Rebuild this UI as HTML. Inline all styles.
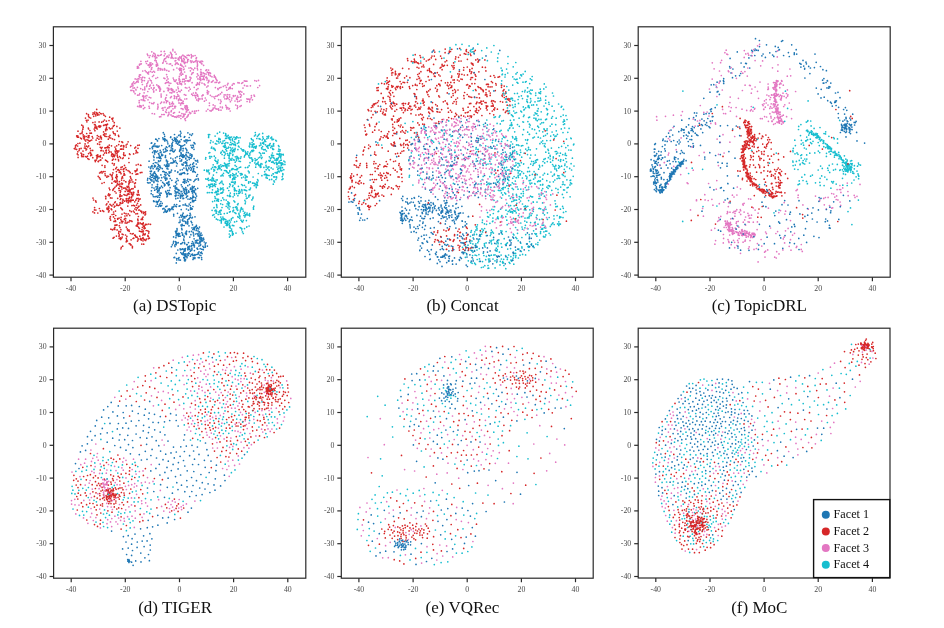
<!DOCTYPE html>
<html><head><meta charset="utf-8"><style>
html,body{margin:0;padding:0;background:#fff;width:944px;height:628px;overflow:hidden}
svg{display:block;will-change:transform}
</style></head><body>
<svg width="944" height="628" viewBox="0 0 944 628">
<g fill="none" stroke-width="1.70" stroke-linecap="round"><path stroke="#e377c2" d="M175.9 63.0h0M176.9 63.4h0M178.3 64.2h0M180.5 65.2h0M195.8 60.9h0M172.3 116.2h0M173.3 116.2h0M175.4 116.8h0M177.2 116.2h0M200.0 98.9h0M198.6 99.8h0M196.7 99.9h0M206.7 87.0h0M208.0 85.9h0M159.4 86.6h0M159.5 88.4h0M158.3 85.8h0M174.5 91.5h0M173.1 91.8h0M171.7 92.9h0M170.0 92.6h0M156.2 60.9h0M156.6 62.7h0M153.7 91.9h0M152.2 113.5h0M154.5 113.9h0M197.6 65.1h0M197.3 66.2h0M197.3 68.2h0M197.6 69.8h0M160.0 87.9h0M160.1 89.9h0M186.0 75.7h0M225.9 94.9h0M227.1 96.7h0M228.0 98.2h0M229.3 99.6h0M194.8 68.2h0M193.5 69.8h0M153.0 55.2h0M154.8 56.7h0M155.8 57.1h0M171.2 53.4h0M197.9 61.2h0M199.7 62.1h0M202.6 61.5h0M131.9 84.1h0M131.3 86.2h0M130.4 87.1h0M175.6 106.4h0M181.5 68.5h0M181.1 70.1h0M181.0 72.9h0M180.0 74.0h0M142.4 84.5h0M219.7 82.2h0M218.8 82.9h0M226.8 108.9h0M142.8 89.7h0M140.7 88.7h0M202.9 94.9h0M191.9 55.8h0M193.3 56.0h0M195.1 55.5h0M196.5 57.7h0M213.2 104.9h0M180.7 64.1h0M181.8 65.4h0M183.5 67.1h0M158.0 106.0h0M158.0 107.4h0M157.6 108.9h0M215.8 78.7h0M217.1 80.6h0M216.7 82.3h0M184.8 99.0h0M182.9 55.2h0M181.6 56.3h0M180.0 58.0h0M179.1 60.0h0M164.2 59.6h0M165.8 61.4h0M208.9 80.4h0M208.6 81.0h0M208.1 82.7h0M169.1 85.4h0M168.7 88.3h0M169.0 89.4h0M168.3 90.7h0M209.9 110.6h0M207.9 109.3h0M206.3 111.0h0M181.2 75.2h0M179.4 76.4h0M170.5 52.4h0M163.7 60.9h0M163.1 62.7h0M162.7 63.1h0M159.5 116.8h0M160.8 116.7h0M150.3 85.0h0M149.7 86.2h0M156.6 62.7h0M157.5 64.0h0M157.7 65.4h0M186.1 109.6h0M187.1 110.2h0M189.5 112.3h0M197.4 73.8h0M198.2 75.3h0M196.9 76.8h0M197.9 78.9h0M149.6 102.5h0M146.8 85.5h0M146.6 86.4h0M215.4 87.6h0M217.8 88.5h0M218.1 89.4h0M184.0 115.2h0M182.8 117.1h0M184.8 118.9h0M185.5 120.5h0M235.7 105.0h0M237.4 105.8h0M249.7 101.9h0M189.3 55.5h0M188.7 55.2h0M187.2 55.3h0M185.2 56.8h0M186.5 106.9h0M187.2 108.4h0M157.8 55.4h0M156.8 57.7h0M155.4 58.8h0M154.9 60.5h0M143.2 100.4h0M200.6 78.3h0M203.0 79.1h0M204.2 79.6h0M206.9 80.0h0M143.2 105.4h0M141.3 106.2h0M140.0 105.7h0M137.6 106.3h0M171.9 54.7h0M172.3 57.3h0M173.0 103.8h0M171.8 103.7h0M169.9 104.2h0M191.1 78.0h0M190.2 79.3h0M188.9 81.2h0M188.4 81.3h0M179.0 96.0h0M176.7 96.9h0M174.5 98.2h0M174.3 98.4h0M167.2 76.9h0M168.0 78.9h0M160.0 89.9h0M159.8 91.2h0M148.2 81.0h0M147.8 82.6h0M146.9 83.8h0M187.7 115.9h0M186.9 117.2h0M185.4 118.5h0M152.5 76.5h0M234.2 83.8h0M233.3 83.7h0M232.2 85.2h0M230.3 87.0h0M176.6 98.6h0M178.6 99.4h0M168.3 81.9h0M172.0 89.2h0M172.1 90.5h0M171.5 93.0h0M227.8 107.6h0M228.9 109.1h0M230.2 111.0h0M225.8 105.4h0M226.4 107.2h0M173.6 69.7h0M229.3 87.9h0M145.8 61.6h0M146.5 63.5h0M148.0 65.0h0M247.4 99.1h0M248.6 99.2h0M250.1 99.1h0M252.4 99.8h0M238.1 97.3h0M237.3 99.6h0M224.0 96.9h0M176.3 90.0h0M177.1 92.5h0M177.8 94.5h0M178.1 96.2h0M168.7 57.0h0M165.7 58.3h0M164.6 58.9h0M209.6 72.5h0M210.2 75.7h0M171.4 96.7h0M174.2 95.8h0M174.8 96.4h0M158.5 68.2h0M160.2 68.7h0M161.9 69.0h0M164.5 68.7h0M214.8 107.8h0M212.9 109.6h0M229.7 94.8h0M140.9 61.3h0M140.3 64.1h0M139.5 64.4h0M138.0 66.6h0M177.2 83.2h0M177.9 84.2h0M177.9 87.1h0M178.3 88.7h0M237.5 96.0h0M236.7 98.2h0M236.5 99.1h0M235.0 101.0h0M173.1 90.0h0M174.4 91.8h0M184.3 59.6h0M183.1 61.0h0M182.0 61.6h0M216.0 108.8h0M217.0 109.1h0M218.8 110.2h0M221.0 110.2h0M140.5 74.9h0M228.0 83.4h0M227.4 84.8h0M226.4 87.4h0M179.1 78.4h0M179.7 79.8h0M179.6 81.9h0M180.0 83.9h0M160.3 70.0h0M162.4 69.9h0M164.3 69.8h0M185.0 105.9h0M185.5 108.7h0M169.1 107.7h0M167.6 108.2h0M166.4 109.9h0M165.6 111.8h0M135.1 93.7h0M137.6 95.2h0M139.1 94.9h0M254.0 95.1h0M152.6 64.0h0M151.3 65.1h0M151.9 67.7h0M132.8 86.0h0M132.9 88.0h0M140.0 77.6h0M142.0 77.9h0M213.1 80.6h0M207.4 90.6h0M207.2 92.4h0M207.5 94.0h0M146.9 95.7h0M145.3 96.1h0M235.2 95.7h0M233.6 96.5h0M172.5 105.8h0M170.8 106.4h0M169.3 106.6h0M198.0 88.6h0M196.6 89.7h0M242.8 82.6h0M241.6 83.3h0M239.2 82.9h0M237.9 82.7h0M203.7 78.2h0M202.8 79.3h0M161.1 51.4h0M164.4 51.4h0M164.2 51.5h0M144.7 87.0h0M144.8 88.7h0M144.8 89.8h0M144.1 92.8h0M150.8 97.8h0M149.8 63.0h0M148.6 65.3h0M214.2 77.1h0M212.0 76.8h0M177.1 62.8h0M175.3 64.4h0M201.8 61.1h0M200.5 62.6h0M151.3 69.1h0M184.3 79.3h0M184.3 81.8h0M185.1 83.9h0M150.1 55.5h0M152.5 56.5h0M154.5 56.7h0M172.5 102.1h0M186.1 76.8h0M186.0 78.2h0M179.4 112.2h0M181.9 113.6h0M172.9 49.3h0M172.9 50.7h0M175.0 52.2h0M176.1 54.1h0M137.4 66.7h0M137.4 68.2h0M164.0 102.6h0M166.4 102.7h0M169.5 102.7h0M134.4 87.9h0M191.2 54.7h0M191.6 56.8h0M191.3 57.8h0M184.1 69.1h0M183.5 69.6h0M175.8 60.6h0M259.6 85.6h0M257.8 87.5h0M182.7 79.4h0M182.5 81.7h0M181.4 83.6h0M181.6 84.6h0M186.7 98.8h0M142.6 96.3h0M143.8 97.2h0M146.0 98.0h0M148.0 99.8h0M174.5 81.2h0M171.1 88.5h0M206.7 69.8h0M208.6 70.1h0M145.1 70.6h0M146.2 71.8h0M147.5 72.8h0M148.5 74.0h0M205.3 98.0h0M206.2 100.1h0M193.4 93.0h0M194.4 95.3h0M196.0 95.6h0M184.6 72.0h0M182.8 74.2h0M156.2 89.9h0M153.8 91.0h0M153.0 89.5h0M200.9 69.7h0M201.4 72.3h0M203.2 72.9h0M204.5 73.7h0M173.5 113.2h0M171.0 114.9h0M168.4 114.9h0M180.3 99.5h0M183.2 101.6h0M197.9 96.2h0M195.8 97.9h0M170.5 97.7h0M180.9 103.4h0M180.6 105.0h0M149.0 106.3h0M149.4 108.2h0M138.9 79.0h0M138.0 80.8h0M136.0 82.5h0M134.8 83.5h0M171.4 110.7h0M171.1 111.7h0M174.5 112.5h0M208.7 91.8h0M141.2 99.8h0M142.9 99.8h0M144.8 100.7h0M135.2 78.9h0M136.7 81.7h0M138.2 82.1h0M167.3 88.0h0M168.0 90.0h0M171.0 89.6h0M171.6 89.9h0M208.4 72.5h0M208.6 74.8h0M210.6 76.0h0M141.4 79.6h0M142.1 80.0h0M144.4 80.6h0M200.2 61.3h0M200.9 62.7h0M201.9 63.9h0M203.6 65.3h0M190.4 70.8h0M208.9 81.4h0M211.4 82.1h0M212.5 81.6h0M215.1 82.4h0M137.8 66.8h0M138.6 67.9h0M197.4 94.5h0M197.7 95.9h0M198.5 98.3h0M198.3 100.8h0M186.8 58.0h0M188.4 59.5h0M190.5 60.9h0M192.1 61.0h0M215.0 105.9h0M241.0 100.1h0M239.4 101.2h0M237.6 101.7h0M157.6 77.5h0M155.9 78.3h0M163.9 91.4h0M183.6 114.1h0M183.5 116.1h0M147.5 61.1h0M192.1 82.7h0M210.4 95.3h0M212.0 96.5h0M214.0 96.9h0M214.7 98.5h0M139.2 100.7h0M139.2 102.7h0M139.6 105.3h0M140.8 105.9h0M229.4 108.6h0M142.8 77.2h0M144.7 77.7h0M180.3 81.3h0M180.6 83.5h0M178.8 115.6h0M202.0 83.1h0M204.1 83.8h0M205.0 84.9h0M166.7 56.8h0M168.4 57.3h0M171.2 57.6h0M173.1 58.3h0M224.2 94.9h0M194.5 111.2h0M192.3 111.3h0M190.9 113.0h0M190.2 113.6h0M139.8 93.6h0M188.4 114.6h0M188.1 115.8h0M151.7 103.4h0M153.3 103.7h0M190.2 89.2h0M188.8 90.8h0M244.5 85.4h0M246.6 86.0h0M247.6 86.0h0M250.4 85.8h0M208.0 93.7h0M205.9 70.4h0M258.5 80.4h0M256.5 81.1h0M254.8 80.6h0M142.5 80.4h0M141.8 82.1h0M214.3 75.3h0M215.0 76.7h0M215.8 78.1h0M216.6 79.8h0M203.2 95.1h0M202.0 95.9h0M202.1 98.3h0M202.2 99.1h0M246.9 98.8h0M247.1 101.5h0M186.0 57.4h0M183.8 58.4h0M182.0 60.3h0M142.7 71.0h0M166.6 74.6h0M183.8 61.0h0M184.3 62.9h0M184.7 63.6h0M185.5 66.0h0M165.3 83.3h0M166.2 82.7h0M169.2 83.0h0M170.8 83.3h0M183.0 109.5h0M182.8 108.8h0M181.2 108.6h0M152.2 72.2h0M218.6 99.6h0M186.6 57.8h0M187.7 59.9h0M187.7 61.3h0M139.2 106.8h0M141.0 107.2h0M143.5 108.7h0M144.8 107.6h0M141.3 63.8h0M139.5 65.1h0M164.1 102.0h0M161.6 102.1h0M160.6 103.3h0M157.8 104.3h0M151.8 51.8h0M153.8 53.2h0M155.0 54.1h0M155.4 55.2h0M165.0 69.8h0M166.8 70.4h0M168.9 71.2h0M220.4 93.9h0M218.5 94.9h0M217.3 95.9h0M215.7 96.3h0M207.3 72.2h0M208.6 73.8h0M210.5 73.4h0M200.9 79.7h0M200.6 80.4h0M199.7 82.4h0M199.3 84.6h0M180.0 68.0h0M180.1 69.3h0M181.4 72.2h0M182.5 74.2h0M225.1 85.6h0M223.3 86.4h0M221.0 87.3h0M219.5 87.9h0M152.5 63.9h0M150.3 64.6h0M148.9 64.9h0M176.2 79.9h0M175.1 81.2h0M233.3 95.7h0M231.9 98.1h0M231.5 100.0h0M244.3 80.9h0M245.6 81.2h0M246.9 81.2h0M227.8 94.7h0M195.8 92.5h0M196.0 93.5h0M195.4 95.9h0M195.7 97.8h0M181.7 61.1h0M183.7 61.8h0M185.3 62.3h0M187.1 62.4h0M161.3 54.5h0M160.6 55.2h0M176.9 68.0h0M179.0 69.1h0M179.8 70.4h0M181.4 70.8h0M165.0 107.4h0M163.0 107.9h0M241.4 95.1h0M240.8 96.7h0M133.8 81.8h0M132.9 83.2h0M133.0 85.0h0M181.4 100.2h0M180.5 99.9h0M178.5 100.6h0M156.2 64.9h0M156.5 66.2h0M158.2 68.4h0M158.0 70.1h0M165.1 53.8h0M164.2 55.7h0M218.8 95.0h0M189.2 87.3h0M186.9 88.0h0M185.4 87.6h0M187.1 105.9h0M185.9 106.7h0M184.9 107.5h0M166.6 95.1h0M166.0 97.6h0M165.8 97.9h0M165.9 100.5h0M150.6 65.8h0M220.3 103.3h0M222.3 107.1h0M168.9 112.4h0M169.0 114.0h0M167.9 115.8h0M149.2 97.3h0M174.5 116.8h0M176.7 117.3h0M179.0 117.1h0M180.9 118.5h0M198.4 110.5h0M196.3 110.9h0M195.0 113.2h0M194.3 113.0h0M200.6 72.0h0M200.7 74.2h0M200.4 76.0h0M199.8 77.2h0M199.6 79.1h0M194.2 87.3h0M172.5 102.3h0M173.5 103.9h0M174.5 106.3h0M174.9 107.9h0M221.8 92.4h0M181.3 57.8h0M181.8 59.9h0M182.3 61.1h0M193.2 72.6h0M192.1 73.2h0M191.6 74.3h0M190.0 77.2h0M135.9 89.4h0M136.0 90.0h0M133.7 90.9h0M240.3 97.2h0M153.4 85.3h0M154.1 87.5h0M229.7 96.9h0M227.6 98.2h0M226.6 98.9h0M224.9 98.8h0M220.6 100.0h0M197.5 82.8h0M197.5 84.1h0M238.8 91.4h0M240.5 91.4h0M241.9 92.1h0M243.8 93.9h0M161.1 94.1h0M161.1 95.8h0M161.2 96.9h0M230.4 101.7h0M249.7 99.9h0M163.9 78.1h0M164.9 78.6h0M166.7 80.3h0M167.6 82.3h0M156.8 84.9h0M158.2 86.2h0M158.7 87.5h0M160.6 89.1h0M204.4 101.2h0M239.2 92.4h0M240.2 94.2h0M171.1 53.8h0M171.7 55.9h0M171.1 58.1h0M205.9 77.6h0M149.5 67.1h0M186.8 111.8h0M186.1 112.0h0M185.1 114.2h0M183.8 116.5h0M221.1 101.7h0M184.3 94.6h0M185.8 95.2h0M153.6 75.3h0M147.3 54.1h0M147.9 55.4h0M149.3 57.4h0M254.5 96.2h0M153.9 88.2h0M151.3 87.9h0M149.1 88.9h0M196.1 58.4h0M196.2 60.4h0M197.2 62.2h0M197.4 63.8h0M206.4 77.1h0M207.1 78.6h0M183.4 103.5h0M182.2 103.5h0M182.1 66.1h0M143.1 95.7h0M143.5 96.4h0M143.6 98.9h0M213.2 108.2h0M212.1 110.1h0M211.1 111.1h0M184.0 79.1h0M179.0 80.0h0M179.4 82.6h0M206.1 74.1h0M204.3 73.8h0M203.5 76.5h0M201.7 76.2h0M189.0 68.0h0M190.8 67.8h0M191.9 68.8h0M158.8 55.7h0M184.2 56.2h0M179.8 98.1h0M178.6 100.1h0M179.0 102.9h0M183.0 101.1h0M182.0 102.7h0M179.1 103.1h0M251.4 95.7h0M251.4 97.7h0M181.8 59.1h0M178.7 59.3h0M178.1 59.3h0M175.1 60.9h0M185.2 80.9h0M187.0 80.8h0M188.1 80.6h0M190.0 80.7h0M201.6 74.2h0M202.8 76.3h0M204.4 75.9h0M206.8 77.8h0M166.9 63.4h0M169.3 64.0h0M170.6 63.9h0M172.2 65.5h0M179.8 56.9h0M178.3 58.0h0M176.0 58.1h0M175.1 58.0h0M162.1 108.3h0M163.1 110.2h0M147.8 91.5h0M154.0 102.7h0M241.2 105.7h0M240.0 106.4h0M237.7 107.3h0M237.2 108.6h0M169.1 55.1h0M167.3 56.0h0M149.3 78.3h0M150.2 80.1h0M151.3 80.9h0M151.8 82.9h0M191.7 94.2h0M192.7 95.3h0M199.0 83.9h0M197.4 83.4h0M196.5 85.2h0M180.5 115.6h0M180.9 115.9h0M183.1 116.8h0M172.4 106.1h0M173.0 108.8h0M130.9 90.4h0M132.0 90.3h0M134.0 92.0h0M166.5 112.5h0M164.3 114.5h0M163.5 114.5h0M161.8 114.6h0M165.3 99.1h0M166.7 101.2h0M167.7 101.2h0M173.2 78.0h0M173.8 79.7h0M175.4 81.5h0M177.1 82.9h0M151.5 69.3h0M150.4 71.4h0M148.6 72.2h0M147.6 73.3h0M222.4 107.8h0M220.3 107.0h0M218.5 108.9h0M153.8 71.3h0M154.6 72.1h0M243.0 88.1h0M186.5 105.7h0M187.5 107.7h0M188.4 109.8h0M196.3 84.9h0M232.3 88.6h0M230.5 88.4h0M228.7 89.1h0M226.9 90.2h0M137.4 87.3h0M181.4 90.2h0M180.1 91.7h0M178.8 91.2h0M139.5 74.9h0M139.1 76.4h0M138.2 78.7h0M136.9 79.3h0M209.4 103.1h0M209.4 105.5h0M150.9 62.8h0M194.9 61.7h0M193.4 62.2h0M191.2 62.4h0"/><path stroke="#d62728" d="M104.0 115.2h0M105.4 116.3h0M147.8 236.1h0M121.5 149.1h0M120.5 149.2h0M118.9 150.9h0M117.8 152.3h0M116.5 175.9h0M115.8 177.4h0M129.7 220.5h0M129.0 221.9h0M127.4 222.4h0M144.1 212.4h0M143.5 213.5h0M117.0 224.9h0M119.3 225.7h0M120.0 227.5h0M120.9 229.7h0M120.8 146.1h0M90.6 152.9h0M90.9 153.8h0M90.7 155.6h0M92.8 157.7h0M122.0 214.1h0M124.3 213.1h0M126.0 213.7h0M128.2 213.9h0M138.2 222.9h0M138.7 224.0h0M138.6 227.4h0M139.4 228.4h0M86.5 157.0h0M87.8 158.6h0M89.0 159.3h0M92.7 150.4h0M90.9 150.4h0M90.1 152.4h0M88.6 153.6h0M145.1 228.2h0M144.2 228.7h0M142.0 229.7h0M116.1 225.2h0M114.9 227.3h0M114.2 228.4h0M112.9 229.6h0M97.6 143.9h0M99.6 144.4h0M100.3 147.3h0M136.6 237.1h0M113.3 204.4h0M111.9 205.9h0M110.0 204.3h0M130.0 154.5h0M130.3 176.7h0M130.9 178.2h0M131.8 179.9h0M132.9 181.9h0M114.5 155.4h0M113.2 155.8h0M111.5 155.8h0M131.6 188.9h0M130.2 190.1h0M128.9 191.0h0M128.7 193.6h0M89.2 117.4h0M135.8 179.8h0M135.4 182.9h0M134.6 183.6h0M81.9 133.3h0M80.2 133.7h0M77.8 135.8h0M112.5 178.0h0M112.3 179.5h0M94.9 130.7h0M115.5 211.1h0M137.8 219.0h0M137.8 219.8h0M114.3 125.3h0M113.2 126.5h0M112.2 128.1h0M144.7 227.7h0M87.7 147.0h0M86.7 149.0h0M86.0 149.9h0M143.0 217.1h0M117.6 218.5h0M119.1 218.1h0M114.8 229.4h0M117.1 229.9h0M100.9 141.7h0M99.4 142.0h0M129.0 162.5h0M81.1 148.4h0M79.4 148.9h0M79.1 150.5h0M117.7 151.3h0M115.6 151.3h0M112.9 172.9h0M112.2 175.1h0M112.1 176.8h0M112.4 179.5h0M132.2 234.0h0M125.1 195.2h0M127.3 194.6h0M145.6 211.8h0M145.6 213.9h0M145.0 214.9h0M139.1 199.6h0M138.4 201.2h0M137.5 203.3h0M136.6 205.1h0M111.4 175.5h0M143.4 231.0h0M143.2 231.1h0M123.4 149.1h0M139.0 206.2h0M88.4 140.4h0M88.0 142.8h0M133.1 188.7h0M128.1 141.8h0M127.2 144.0h0M126.1 145.0h0M126.2 147.1h0M110.0 135.4h0M97.1 113.8h0M95.2 114.3h0M93.7 116.3h0M85.1 143.9h0M86.5 146.2h0M127.4 241.0h0M126.2 241.8h0M116.4 236.1h0M119.9 222.8h0M98.4 161.2h0M98.4 161.6h0M92.9 122.6h0M94.5 124.5h0M95.3 126.0h0M96.7 127.3h0M126.9 236.4h0M126.3 238.4h0M126.5 241.0h0M115.0 225.2h0M141.8 231.8h0M143.8 234.3h0M144.8 234.8h0M124.5 165.4h0M125.6 167.6h0M126.3 169.7h0M128.0 170.6h0M108.8 152.7h0M106.5 153.1h0M118.5 135.4h0M112.5 153.8h0M113.2 154.3h0M114.4 156.6h0M138.1 238.5h0M137.5 241.1h0M133.2 200.2h0M131.9 200.1h0M130.6 200.2h0M128.9 200.8h0M129.3 182.5h0M131.3 194.0h0M76.3 144.8h0M75.4 147.1h0M74.3 148.5h0M103.5 134.8h0M105.2 136.3h0M106.8 136.5h0M108.3 139.2h0M150.5 224.3h0M148.7 224.0h0M146.9 224.4h0M145.3 224.9h0M122.7 246.2h0M121.3 247.3h0M120.9 248.8h0M84.5 137.8h0M85.0 139.9h0M119.8 196.6h0M120.8 198.6h0M120.3 199.5h0M99.9 126.4h0M98.8 126.1h0M96.1 127.6h0M94.9 127.4h0M97.2 138.2h0M98.9 139.2h0M126.8 223.1h0M120.0 195.4h0M129.8 210.7h0M131.4 211.7h0M133.4 211.0h0M134.3 212.3h0M94.8 112.0h0M96.6 112.5h0M97.6 113.7h0M99.0 114.8h0M96.8 155.7h0M98.1 156.7h0M100.3 156.9h0M139.4 231.1h0M140.7 231.5h0M142.5 231.5h0M125.7 218.7h0M125.5 220.9h0M125.2 222.9h0M133.5 205.3h0M134.6 205.8h0M89.9 130.5h0M118.3 205.5h0M119.7 204.9h0M105.0 171.5h0M103.3 171.7h0M101.5 171.7h0M129.2 243.6h0M130.1 243.8h0M116.7 150.5h0M117.2 150.8h0M115.4 152.9h0M113.9 155.3h0M119.9 128.1h0M129.1 187.9h0M129.9 190.1h0M130.0 191.4h0M131.3 192.7h0M95.8 115.8h0M97.5 115.1h0M84.8 146.0h0M140.7 211.1h0M141.7 212.6h0M126.6 241.5h0M128.7 186.1h0M117.7 198.3h0M135.0 170.8h0M136.9 170.4h0M90.0 133.2h0M120.4 237.8h0M120.7 238.6h0M121.9 187.2h0M123.7 188.2h0M125.6 188.1h0M126.9 189.7h0M120.5 172.2h0M121.0 173.7h0M122.2 237.1h0M121.6 238.3h0M120.6 239.5h0M78.0 131.2h0M116.9 204.2h0M117.3 154.9h0M117.8 157.4h0M118.4 159.5h0M118.6 160.8h0M112.4 119.3h0M113.0 121.1h0M114.3 122.7h0M130.9 244.5h0M132.4 246.4h0M127.9 200.4h0M126.7 201.7h0M124.6 201.2h0M122.9 202.6h0M118.7 233.2h0M119.2 234.9h0M116.1 193.0h0M133.5 194.0h0M132.0 194.8h0M105.6 129.4h0M105.7 130.7h0M118.7 144.6h0M116.7 145.8h0M115.0 147.1h0M83.0 151.1h0M129.9 180.2h0M129.1 181.4h0M113.8 214.2h0M112.1 214.5h0M85.5 118.1h0M86.3 120.3h0M86.9 121.8h0M90.5 140.6h0M89.4 141.2h0M87.0 139.6h0M85.7 141.0h0M115.7 215.5h0M126.8 195.5h0M129.5 197.0h0M128.8 198.8h0M122.7 178.0h0M124.0 180.6h0M125.9 181.9h0M125.7 181.8h0M127.5 187.3h0M125.9 188.9h0M124.5 188.0h0M113.1 189.3h0M87.5 156.2h0M85.4 156.5h0M83.2 156.6h0M81.6 155.8h0M121.2 186.7h0M143.7 244.2h0M141.8 244.1h0M109.2 127.8h0M110.3 128.9h0M134.8 201.8h0M119.6 156.5h0M120.5 157.8h0M122.5 158.5h0M138.4 216.5h0M102.1 147.3h0M101.4 148.2h0M100.9 150.7h0M108.0 195.0h0M109.1 195.8h0M110.5 197.9h0M112.0 198.0h0M105.6 129.3h0M107.1 129.6h0M115.7 148.8h0M115.7 149.3h0M116.0 151.6h0M131.0 220.9h0M132.0 221.4h0M126.8 240.2h0M125.2 218.4h0M124.3 219.3h0M122.9 221.4h0M122.0 222.8h0M125.2 155.4h0M92.9 114.3h0M114.5 228.5h0M134.8 186.0h0M134.9 187.2h0M99.8 125.8h0M98.4 126.6h0M111.7 154.2h0M95.1 122.0h0M95.1 124.6h0M120.0 186.2h0M118.8 188.4h0M119.2 190.5h0M140.1 198.9h0M138.1 198.4h0M136.7 198.6h0M135.8 200.2h0M106.6 125.2h0M115.5 159.4h0M97.0 158.5h0M96.2 160.1h0M95.3 161.6h0M81.0 153.1h0M81.8 155.1h0M81.9 156.6h0M105.9 150.4h0M88.7 145.9h0M96.7 109.4h0M119.0 236.4h0M119.2 238.5h0M90.2 148.3h0M117.3 131.1h0M115.1 133.8h0M112.4 229.8h0M110.9 229.2h0M105.5 160.1h0M106.6 160.8h0M107.7 161.8h0M118.9 231.4h0M131.5 193.9h0M129.0 194.3h0M127.5 194.0h0M88.0 120.2h0M136.2 165.0h0M138.2 164.4h0M140.5 165.2h0M140.9 165.3h0M124.9 216.0h0M126.9 215.7h0M129.7 215.4h0M108.8 206.8h0M108.9 208.1h0M109.1 210.7h0M108.6 211.9h0M134.8 148.1h0M136.1 150.4h0M136.5 151.7h0M129.4 171.4h0M130.2 172.7h0M132.3 173.5h0M91.4 133.2h0M89.1 135.5h0M88.8 136.8h0M95.0 160.3h0M112.9 190.3h0M114.9 191.5h0M123.8 152.9h0M113.3 126.1h0M112.0 128.5h0M99.4 112.5h0M100.8 113.5h0M103.1 113.6h0M110.4 216.7h0M110.0 218.4h0M101.6 150.4h0M103.4 151.0h0M103.6 131.9h0M104.4 133.9h0M106.0 133.9h0M116.6 167.3h0M115.8 168.7h0M116.4 171.6h0M95.8 126.0h0M93.1 112.8h0M94.6 113.5h0M96.9 113.9h0M109.3 145.1h0M107.9 146.4h0M106.5 147.5h0M104.9 147.9h0M140.1 222.9h0M142.2 223.9h0M142.8 223.8h0M145.5 224.4h0M145.2 233.9h0M114.8 218.6h0M117.7 219.2h0M114.3 163.8h0M114.0 165.1h0M123.1 200.2h0M122.5 203.1h0M120.9 203.4h0M129.9 189.5h0M128.8 190.0h0M127.5 191.0h0M125.2 191.4h0M109.2 188.1h0M109.8 189.7h0M130.8 182.0h0M129.1 183.2h0M128.8 184.1h0M127.1 186.4h0M142.4 227.3h0M148.9 231.6h0M148.7 233.1h0M148.0 235.3h0M117.0 179.9h0M115.0 180.8h0M114.1 181.6h0M111.9 183.2h0M97.2 128.9h0M96.1 128.2h0M94.2 129.0h0M138.0 148.3h0M107.1 147.5h0M108.7 150.0h0M109.5 151.5h0M111.2 152.1h0M102.1 165.3h0M119.2 188.3h0M120.1 190.5h0M124.0 194.5h0M121.9 195.8h0M120.5 196.2h0M142.6 219.5h0M143.8 239.1h0M142.2 238.7h0M140.3 239.3h0M143.2 233.1h0M142.8 235.1h0M143.0 237.7h0M137.7 152.6h0M135.9 153.0h0M133.6 153.9h0M137.1 169.2h0M135.8 171.2h0M88.3 128.0h0M88.6 129.0h0M139.8 236.2h0M140.5 238.3h0M127.8 206.1h0M101.2 113.8h0M109.0 136.5h0M116.7 174.6h0M117.3 176.7h0M116.6 178.3h0M117.2 180.8h0M148.4 236.5h0M148.4 238.7h0M146.4 239.1h0M145.7 240.4h0M81.7 153.8h0M83.6 154.7h0M104.9 165.8h0M104.9 167.3h0M126.3 227.1h0M144.8 239.9h0M143.0 240.8h0M141.3 240.1h0M123.6 154.5h0M124.0 155.6h0M123.2 157.8h0M92.2 136.5h0M92.8 138.0h0M91.7 140.0h0M123.2 169.4h0M121.0 169.3h0M118.6 169.6h0M117.8 169.9h0M144.3 226.3h0M144.0 226.2h0M136.2 225.8h0M76.7 135.9h0M78.5 137.2h0M80.6 138.1h0M81.5 138.8h0M112.3 174.8h0M110.2 174.4h0M108.5 176.3h0M107.1 176.0h0M110.6 220.1h0M83.2 134.9h0M83.4 136.9h0M83.9 138.7h0M85.0 140.0h0M79.9 143.2h0M77.9 143.5h0M77.6 146.0h0M75.6 145.6h0M135.9 207.5h0M134.8 209.0h0M83.2 127.4h0M82.8 129.2h0M82.3 131.1h0M82.1 132.6h0M130.4 244.6h0M131.0 245.1h0M132.4 247.8h0M123.8 171.4h0M124.1 173.7h0M124.8 174.9h0M149.4 238.2h0M128.0 191.5h0M129.5 191.6h0M133.2 192.4h0M100.7 136.2h0M101.4 137.8h0M135.4 171.7h0M136.0 174.3h0M111.5 145.8h0M77.8 151.8h0M77.3 153.9h0M78.1 154.8h0M78.1 157.4h0M124.3 173.9h0M123.9 175.2h0M122.4 176.7h0M121.7 178.1h0M109.5 137.7h0M110.8 138.0h0M112.5 138.9h0M114.5 139.6h0M141.2 219.4h0M121.6 180.1h0M119.4 181.7h0M117.0 181.4h0M115.8 182.2h0M86.6 113.7h0M88.4 114.6h0M88.5 116.1h0M90.7 118.0h0M115.0 151.0h0M103.3 121.3h0M101.7 122.2h0M99.1 121.9h0M97.8 154.9h0M96.5 155.5h0M97.0 157.6h0M116.8 205.3h0M138.0 220.7h0M137.9 222.9h0M137.2 224.4h0M137.5 226.2h0M121.1 217.4h0M120.8 219.6h0M121.5 221.2h0M107.6 209.5h0M97.3 135.6h0M98.8 136.5h0M100.5 137.7h0M101.4 139.0h0M133.8 192.4h0M132.6 194.4h0M132.8 195.7h0M131.5 197.8h0M138.8 210.1h0M141.7 211.3h0M141.7 212.0h0M129.7 192.0h0M128.9 193.9h0M130.7 145.6h0M116.9 126.4h0M114.1 237.3h0M113.1 238.2h0M123.7 145.6h0M123.6 147.0h0M121.9 149.1h0M117.1 184.9h0M116.2 186.1h0M114.9 187.3h0M113.8 188.6h0M90.1 148.5h0M107.4 208.0h0M108.3 209.1h0M111.2 208.9h0M111.7 209.7h0M135.4 235.4h0M133.8 238.2h0M133.0 238.5h0M131.1 239.8h0M146.2 230.5h0M147.8 230.8h0M122.9 199.3h0M122.5 201.0h0M120.4 202.5h0M120.0 202.9h0M138.2 192.2h0M138.6 194.4h0M139.2 195.0h0M113.0 118.0h0M111.9 118.7h0M119.2 170.6h0M119.2 172.3h0M113.1 131.9h0M113.7 133.4h0M115.3 135.0h0M122.6 142.4h0M121.8 141.8h0M119.4 141.5h0M112.7 156.7h0M113.3 159.1h0M112.4 160.2h0M112.4 163.3h0M126.3 198.7h0M128.7 200.9h0M129.0 200.5h0M130.8 201.7h0M129.1 201.6h0M128.2 202.8h0M102.3 158.0h0M100.8 159.9h0M100.0 160.3h0M98.1 161.5h0M115.6 221.5h0M81.7 125.1h0M83.0 126.0h0M107.5 124.2h0M106.2 124.5h0M106.5 127.1h0M106.5 128.2h0M142.3 218.2h0M115.4 220.6h0M114.0 221.4h0M128.9 229.8h0M129.0 230.3h0M113.6 212.0h0M128.8 158.3h0M122.5 183.7h0M120.0 183.9h0M118.8 184.7h0M118.8 136.5h0M139.3 145.1h0M137.7 145.3h0M135.7 147.1h0M134.7 235.2h0M135.7 236.8h0M137.1 237.2h0M138.1 239.8h0M143.2 223.3h0M142.9 224.8h0M143.8 226.6h0M144.0 228.6h0M109.7 117.2h0M127.2 228.9h0M127.7 230.5h0M129.2 231.3h0M84.5 136.1h0M86.2 136.5h0M88.0 137.3h0M88.9 137.6h0M117.5 183.4h0M140.7 204.9h0M138.4 206.9h0M137.4 208.1h0M136.4 209.9h0M141.9 172.4h0M140.3 172.7h0M137.8 173.9h0M136.7 174.2h0M115.3 201.8h0M114.7 202.7h0M114.9 206.2h0M114.2 207.1h0M100.4 155.6h0M99.2 156.5h0M116.9 153.3h0M115.0 154.9h0M104.8 135.9h0M131.9 205.6h0M139.5 210.0h0M75.1 148.9h0M76.6 149.4h0M145.0 212.4h0M143.6 212.1h0M141.8 212.1h0M113.5 169.6h0M91.7 155.0h0M113.5 216.9h0M108.7 193.9h0M110.0 194.7h0M121.9 189.0h0M120.7 191.1h0M120.3 192.5h0M120.2 194.5h0M97.2 156.3h0M120.5 231.8h0M122.1 234.1h0M123.1 234.6h0M125.5 235.0h0M77.3 137.1h0M120.8 207.9h0M121.8 208.9h0M122.4 209.7h0M110.6 204.8h0M108.5 206.3h0M107.0 208.2h0M107.0 209.0h0M138.2 190.5h0M138.1 191.5h0M137.1 194.4h0M137.5 195.1h0M106.4 150.2h0M106.1 152.0h0M104.5 153.1h0M103.5 154.9h0M105.1 124.9h0M103.6 125.4h0M100.8 126.1h0M99.9 127.2h0M104.5 120.0h0M106.4 121.1h0M109.0 120.5h0M85.4 148.2h0M84.4 148.0h0M130.5 233.5h0M133.2 233.6h0M117.3 155.9h0M143.3 222.9h0M141.2 223.8h0M121.7 145.7h0M123.9 146.2h0M109.1 147.7h0M107.7 147.7h0M105.7 147.8h0M129.5 153.9h0M121.0 167.3h0M122.3 166.8h0M124.1 168.7h0M137.5 213.7h0M135.9 213.8h0M131.6 196.9h0M129.7 197.8h0M128.1 198.5h0M126.3 200.3h0M86.7 133.5h0M88.2 135.8h0M121.8 183.0h0M122.0 184.3h0M96.1 140.1h0"/><path stroke="#d62728" d="M98.2 176.3h0M99.4 177.7h0M100.3 179.2h0M105.0 173.8h0M105.3 175.6h0M106.9 177.2h0M108.3 201.8h0M106.9 203.8h0M106.2 204.8h0M105.6 196.3h0M105.9 196.8h0M105.8 198.7h0M102.1 172.9h0M100.3 172.4h0M99.6 173.0h0M103.7 211.4h0M104.2 182.5h0M102.0 183.3h0M93.0 198.1h0M93.6 200.0h0M95.7 200.9h0M96.1 202.1h0"/><path stroke="#d62728" d="M99.4 208.5h0M94.6 207.6h0M95.9 210.0h0M94.5 209.9h0M94.5 212.9h0M102.6 210.7h0M100.3 210.8h0M100.5 211.2h0M97.8 213.0h0M92.9 211.8h0"/><path stroke="#1f77b4" d="M157.1 146.1h0M158.5 146.8h0M187.2 165.7h0M192.7 164.2h0M193.2 166.2h0M160.2 195.4h0M158.1 195.8h0M156.2 196.4h0M155.0 196.8h0M178.6 190.7h0M177.5 192.2h0M176.5 192.9h0M176.1 195.2h0M185.4 204.0h0M197.7 188.3h0M195.2 188.9h0M193.5 187.6h0M192.4 188.2h0M185.1 180.9h0M188.5 192.0h0M150.5 173.5h0M153.0 174.1h0M154.1 173.0h0M156.1 174.7h0M167.4 195.9h0M166.9 196.8h0M192.9 206.5h0M190.5 207.9h0M191.8 245.5h0M189.6 246.8h0M188.0 246.9h0M177.9 198.2h0M175.8 198.7h0M180.1 220.0h0M182.3 220.1h0M184.1 221.1h0M207.4 246.1h0M188.7 252.8h0M188.2 255.3h0M186.8 256.2h0M187.0 257.4h0M172.4 146.0h0M171.6 146.1h0M169.1 146.2h0M157.5 186.3h0M157.4 188.1h0M191.6 168.8h0M193.7 168.7h0M195.5 200.2h0M194.0 200.7h0M192.5 201.6h0M190.6 202.5h0M176.8 139.9h0M166.6 183.1h0M164.8 184.7h0M164.4 185.8h0M162.5 187.5h0M195.4 242.8h0M190.6 209.3h0M154.8 152.2h0M154.6 153.9h0M153.6 156.1h0M154.0 157.4h0M196.5 240.4h0M151.2 174.9h0M150.2 176.5h0M147.8 178.4h0M147.5 180.1h0M193.2 232.4h0M193.5 234.0h0M193.7 235.8h0M156.0 186.8h0M157.7 187.1h0M157.5 190.9h0M157.4 192.3h0M199.9 238.0h0M200.8 237.8h0M202.0 238.9h0M203.8 239.6h0M201.5 252.2h0M200.9 255.5h0M201.6 257.7h0M201.7 259.5h0M157.3 204.2h0M156.0 206.2h0M159.1 146.0h0M161.7 145.5h0M189.9 199.2h0M192.0 189.2h0M192.5 190.2h0M191.7 191.4h0M185.3 254.5h0M185.1 256.2h0M183.8 257.8h0M176.3 262.9h0M170.3 150.7h0M167.3 150.6h0M165.9 151.3h0M163.8 152.1h0M185.2 253.9h0M183.9 253.8h0M182.7 254.1h0M158.5 201.2h0M156.7 201.6h0M154.2 201.4h0M153.7 201.4h0M180.1 221.9h0M179.1 222.6h0M190.6 197.9h0M191.7 198.5h0M192.5 200.2h0M193.6 201.6h0M154.7 176.4h0M155.8 176.9h0M157.2 177.5h0M165.5 157.4h0M181.0 148.3h0M183.0 150.8h0M175.9 241.9h0M178.2 242.7h0M179.6 156.3h0M181.7 156.3h0M183.8 157.1h0M185.8 158.2h0M188.5 242.6h0M191.7 243.5h0M193.3 244.2h0M194.4 245.2h0M182.7 248.8h0M184.5 249.0h0M173.1 209.4h0M158.9 138.6h0M195.7 189.6h0M160.8 193.1h0M159.7 194.9h0M153.6 200.9h0M156.2 201.4h0M157.3 202.4h0M177.1 156.7h0M175.5 157.8h0M181.8 232.6h0M179.6 233.7h0M178.5 233.4h0M176.5 233.7h0M194.4 250.6h0M200.8 235.6h0M198.2 235.9h0M186.0 190.0h0M183.1 182.2h0M184.5 183.1h0M186.2 182.4h0M205.3 247.1h0M184.8 189.2h0M186.7 189.4h0M197.5 174.5h0M196.7 176.2h0M198.1 178.5h0M198.4 179.9h0M155.3 150.9h0M184.7 144.8h0M183.2 145.5h0M195.0 216.8h0M192.4 217.3h0M191.9 218.0h0M156.1 177.4h0M157.9 178.2h0M159.0 177.9h0M161.7 177.7h0M155.3 162.5h0M156.9 162.8h0M158.2 164.3h0M158.9 165.3h0M186.7 162.6h0M181.8 195.0h0M180.7 147.2h0M180.3 149.0h0M179.7 150.2h0M155.4 177.3h0M155.5 179.1h0M156.4 180.8h0M163.4 149.7h0M165.9 149.6h0M183.0 221.0h0M185.7 221.7h0M185.9 222.2h0M187.9 223.1h0M176.3 253.4h0M171.8 180.3h0M185.5 248.5h0M184.1 249.3h0M182.1 249.2h0M180.3 249.7h0M172.7 148.9h0M172.7 151.1h0M173.4 151.8h0M161.7 155.4h0M152.1 184.8h0M152.0 187.4h0M154.0 188.1h0M154.7 190.2h0M185.9 154.4h0M187.1 156.4h0M188.4 157.3h0M189.3 159.4h0M190.9 170.2h0M192.7 171.7h0M194.5 171.5h0M195.3 172.3h0M175.5 231.3h0M176.7 231.7h0M177.9 233.6h0M179.0 234.5h0M196.1 161.0h0M197.5 160.4h0M192.7 191.5h0M203.7 247.5h0M174.4 204.6h0M175.7 206.1h0M176.4 206.6h0M196.4 226.4h0M194.6 228.3h0M194.4 229.7h0M185.2 249.9h0M184.0 250.9h0M183.2 252.7h0M153.8 178.6h0M186.3 216.5h0M184.3 216.6h0M183.5 217.0h0M156.1 201.8h0M157.6 202.3h0M159.3 205.1h0M159.8 205.7h0M187.8 249.7h0M185.0 250.9h0M183.9 251.3h0M181.2 209.6h0M179.0 257.7h0M178.3 258.4h0M176.8 260.0h0M160.7 167.8h0M162.3 168.6h0M162.8 171.5h0M164.2 171.8h0M190.9 234.7h0M189.8 237.1h0M171.7 150.3h0M170.8 150.3h0M192.5 254.2h0M190.4 256.2h0M183.9 168.1h0M186.2 168.1h0M185.6 222.8h0M186.0 194.6h0M191.0 207.9h0M192.2 208.8h0M165.7 191.3h0M178.7 135.4h0M177.1 137.1h0M176.0 138.6h0M175.1 170.9h0M177.7 172.3h0M177.9 171.9h0M179.5 174.1h0M163.2 171.4h0M182.0 164.6h0M150.5 168.2h0M150.7 168.6h0M151.4 171.0h0M154.1 172.4h0M191.6 155.1h0M191.7 156.6h0M179.7 193.5h0M180.7 195.6h0M177.5 213.3h0M178.7 236.3h0M154.0 145.0h0M155.6 146.1h0M156.0 146.6h0M201.1 233.1h0M198.8 233.0h0M197.1 233.5h0M195.5 234.0h0M185.7 187.5h0M193.8 228.2h0M190.8 167.4h0M188.8 167.9h0M193.5 243.2h0M193.5 245.3h0M194.4 246.9h0M175.2 150.0h0M174.3 151.4h0M165.2 210.0h0M184.8 257.7h0M184.6 259.2h0M185.0 261.0h0M161.0 180.5h0M170.8 136.9h0M157.7 179.8h0M158.0 181.5h0M157.5 184.4h0M169.0 165.8h0M168.1 164.1h0M166.5 164.9h0M164.5 165.0h0M182.7 234.2h0M182.5 235.2h0M180.1 236.2h0M181.7 191.6h0M182.2 193.6h0M181.9 195.2h0M180.2 196.8h0M178.6 234.8h0M176.2 235.7h0M175.9 237.7h0M173.6 236.9h0M172.1 207.2h0M172.1 208.1h0M170.7 209.5h0M169.7 210.8h0M162.3 155.5h0M162.8 155.0h0M166.8 194.4h0M169.4 194.3h0M171.1 194.3h0M191.1 221.4h0M191.8 222.7h0M192.5 224.8h0M158.3 168.9h0M158.3 170.9h0M193.4 170.0h0M193.2 171.7h0M186.5 152.5h0M171.5 170.2h0M171.0 171.9h0M170.0 172.6h0M168.8 175.3h0M185.1 141.5h0M176.7 187.8h0M175.4 188.8h0M174.9 190.8h0M194.4 143.1h0M192.9 145.2h0M160.0 166.2h0M159.9 167.5h0M159.4 169.5h0M192.5 241.6h0M152.6 146.3h0M152.1 147.3h0M149.9 148.6h0M178.3 189.6h0M179.5 190.4h0M178.7 193.0h0M180.3 195.2h0M173.9 206.4h0M172.9 207.2h0M171.7 208.6h0M175.6 138.4h0M194.1 158.7h0M195.4 160.5h0M197.8 162.0h0M157.2 147.1h0M169.1 171.9h0M187.3 215.3h0M186.0 216.4h0M184.8 217.9h0M183.1 218.8h0M190.4 164.7h0M202.9 246.3h0M200.2 245.5h0M198.9 246.1h0M168.9 181.7h0M168.4 182.1h0M169.3 184.4h0M166.6 193.6h0M167.6 193.8h0M187.9 132.8h0M189.9 134.4h0M186.5 209.0h0M188.5 210.2h0M191.9 248.2h0M191.1 250.4h0M190.2 251.2h0M166.4 146.8h0M165.3 148.3h0M192.2 187.1h0M192.1 189.8h0M194.3 186.5h0M192.4 186.4h0M190.6 188.0h0M158.0 166.7h0M156.9 168.2h0M165.7 166.3h0M167.0 168.6h0M168.0 169.0h0M149.8 178.6h0M150.8 179.9h0M150.1 182.7h0M183.1 172.9h0M183.4 148.6h0M183.0 148.6h0M181.0 149.8h0M179.6 151.3h0M198.3 252.7h0M199.7 255.0h0M184.8 173.5h0M175.2 141.1h0M176.4 141.8h0M178.4 142.0h0M182.3 169.6h0M180.2 170.0h0M186.2 155.0h0M183.9 155.9h0M182.1 155.1h0M180.4 155.4h0M192.9 196.5h0M193.8 197.2h0M195.7 197.9h0M183.1 213.2h0M182.5 214.7h0M180.8 215.4h0M179.4 217.5h0M159.3 199.8h0M160.9 201.6h0M160.2 203.6h0M160.3 205.6h0M182.8 225.3h0M191.4 254.7h0M189.5 253.7h0M187.8 253.9h0M181.7 249.4h0M180.1 248.8h0M177.8 250.0h0M170.2 178.6h0M182.7 254.5h0M166.4 166.0h0M167.2 166.8h0M175.4 160.7h0M176.2 162.4h0M177.2 163.6h0M176.6 166.0h0M194.1 238.8h0M195.4 240.9h0M196.8 242.2h0M197.2 243.2h0M189.0 225.8h0M180.4 131.3h0M181.0 133.1h0M180.2 134.8h0M180.6 136.4h0M184.5 191.0h0M186.4 191.1h0M188.9 191.7h0M165.4 139.6h0M190.1 213.4h0M189.5 215.5h0M190.3 217.2h0M189.3 218.4h0M202.1 253.6h0M153.9 160.0h0M167.0 206.1h0M165.8 206.7h0M164.0 208.3h0M162.8 208.9h0M184.3 172.5h0M182.6 173.3h0M181.2 174.4h0M196.4 225.4h0M197.4 227.8h0M171.2 147.8h0M173.7 214.4h0M173.7 216.0h0M192.7 197.8h0M170.7 163.0h0M169.1 164.0h0M167.6 165.3h0M166.3 166.3h0M160.3 188.0h0M159.2 189.9h0M188.6 190.9h0M186.7 192.4h0M184.7 193.4h0M169.5 208.8h0M168.3 209.1h0M167.4 211.3h0M187.4 174.0h0M203.5 238.2h0M201.4 239.9h0M200.7 241.0h0M186.5 169.8h0M189.0 168.8h0M187.8 247.9h0M189.7 249.2h0M192.0 249.8h0M162.2 203.4h0M161.6 205.6h0M160.5 206.2h0M158.3 206.5h0M191.8 154.5h0M157.7 197.2h0M159.6 197.5h0M183.7 179.6h0M184.9 179.3h0M187.1 180.5h0M188.3 181.6h0M183.2 164.9h0M185.7 165.8h0M187.0 165.6h0M165.1 209.5h0M165.4 211.3h0M166.3 212.2h0M167.0 147.5h0M174.8 245.1h0M176.2 244.7h0M194.0 142.6h0M195.0 143.8h0M193.3 145.3h0M193.5 147.0h0M181.1 173.3h0M180.0 174.4h0M199.5 227.1h0M198.7 228.8h0M196.8 228.7h0M196.2 230.4h0M180.8 252.6h0M181.8 253.9h0M186.0 189.4h0M183.5 190.0h0M155.7 139.2h0M176.7 204.5h0M179.2 206.2h0M180.0 205.8h0M160.2 150.3h0M161.2 152.0h0M199.3 257.7h0M198.2 257.6h0M194.9 258.5h0M194.2 258.4h0M164.7 174.5h0M165.6 175.8h0M165.5 178.0h0M167.0 178.9h0M162.8 137.8h0M163.3 139.4h0M164.8 140.9h0M160.2 152.4h0M161.6 154.0h0M161.8 155.6h0M161.0 158.6h0M171.8 148.0h0M171.0 150.1h0M150.2 171.3h0M151.4 171.5h0M154.3 172.5h0M155.2 173.3h0M187.5 170.4h0M190.6 215.0h0M190.0 217.5h0M176.4 231.1h0M175.9 232.5h0M187.0 257.7h0M185.6 259.8h0M184.5 260.5h0M156.6 139.5h0M157.5 140.9h0M189.6 184.6h0M187.8 185.7h0M188.9 192.3h0M154.6 167.0h0M156.5 169.0h0M190.4 189.3h0M180.8 145.7h0M182.0 146.3h0M173.9 186.2h0M175.2 187.7h0M176.3 189.0h0M169.4 175.9h0M197.0 248.5h0M197.7 249.2h0M199.0 251.8h0M200.7 252.8h0M184.3 137.2h0M185.6 140.1h0M187.0 141.1h0M186.5 142.8h0M160.4 160.7h0M158.9 161.6h0M181.3 184.8h0M182.2 186.7h0M183.4 188.3h0M177.0 228.5h0M177.1 229.9h0M176.4 231.1h0M185.7 148.4h0M186.6 149.6h0M186.9 150.7h0M188.3 152.7h0M162.7 182.4h0M163.9 183.6h0M165.0 184.9h0M176.2 232.0h0M176.2 233.8h0M192.5 193.1h0M193.0 195.0h0M193.9 197.2h0M206.0 242.8h0M205.2 244.1h0M205.2 245.9h0M175.2 193.0h0M176.0 195.2h0M178.2 195.3h0M189.2 137.5h0M153.3 163.5h0M154.6 165.3h0M154.3 166.6h0M195.6 193.3h0M173.6 241.4h0M173.3 243.1h0M172.4 244.8h0M171.4 246.7h0M163.3 132.7h0M164.3 134.3h0M164.7 136.3h0M164.8 138.6h0M167.5 183.1h0M168.0 184.1h0M168.5 185.5h0M170.1 187.7h0M185.4 233.6h0M184.0 236.2h0M184.2 237.0h0M191.4 246.1h0M189.2 247.0h0M188.6 248.1h0M163.8 139.1h0M164.6 140.0h0M166.8 140.4h0M173.9 162.3h0M172.5 162.9h0M171.2 162.9h0M177.0 178.6h0M178.1 180.4h0M182.1 164.0h0M182.7 165.1h0M185.7 256.2h0M183.8 257.5h0M166.5 161.0h0M167.2 162.9h0M166.4 166.1h0M168.1 166.5h0M176.2 143.1h0M178.0 143.4h0M179.3 145.2h0M184.2 181.5h0M157.0 157.7h0M159.6 158.2h0M186.0 162.2h0M183.8 162.8h0M182.6 164.8h0M187.7 223.9h0M186.0 223.4h0M184.2 225.5h0M186.9 193.3h0M186.9 196.3h0M187.6 196.0h0M188.0 199.1h0M183.4 195.4h0M182.1 196.7h0M180.5 198.1h0M182.8 157.4h0M181.7 159.8h0M181.4 160.9h0M174.4 137.9h0M173.3 140.5h0M172.6 142.3h0M181.0 225.1h0M181.5 226.0h0M181.7 228.4h0M182.0 229.7h0M161.1 193.2h0M197.9 234.4h0M200.0 234.3h0M202.0 235.1h0M197.9 240.2h0M192.1 155.9h0M191.1 158.1h0M190.7 158.1h0M177.5 189.3h0M175.9 191.8h0M154.6 171.8h0M153.4 174.0h0M186.2 254.0h0M185.4 254.8h0M184.3 255.4h0M189.3 231.7h0M179.9 150.2h0M181.0 152.7h0M181.2 153.7h0M182.9 156.0h0M160.1 156.7h0M158.7 157.6h0M153.9 146.4h0M152.5 148.7h0M202.1 240.9h0M200.7 241.3h0M199.9 241.2h0M189.2 204.1h0M190.3 205.6h0M151.4 190.8h0M151.2 193.7h0M152.8 194.8h0M153.4 196.6h0M167.6 174.0h0M165.9 175.0h0M164.7 174.4h0M179.8 201.1h0M193.6 162.9h0M196.3 164.0h0M198.0 230.9h0M199.4 231.8h0M185.5 163.0h0M186.8 164.1h0M189.1 165.8h0M181.2 139.5h0M179.5 141.1h0M178.9 142.5h0M177.6 144.2h0M151.3 143.2h0M151.7 142.9h0M154.9 143.7h0M198.1 253.2h0M198.1 254.1h0M195.3 254.9h0M194.6 255.3h0M186.6 231.2h0M185.5 233.1h0M186.4 234.4h0M199.9 237.8h0M199.7 238.8h0M174.5 134.5h0M194.2 192.4h0M195.8 194.4h0M196.6 196.1h0M170.8 158.1h0M172.9 159.0h0M173.5 160.9h0M174.2 161.7h0M186.2 231.6h0M186.4 233.0h0M186.6 169.3h0M187.5 170.7h0M187.8 173.5h0M191.0 145.3h0M191.6 147.3h0M192.3 147.9h0M194.0 149.3h0M177.7 141.0h0M179.9 141.8h0M192.5 254.3h0M193.8 255.4h0M194.9 257.5h0M193.6 171.5h0M187.1 196.3h0M186.3 197.5h0M183.7 198.3h0M183.0 198.6h0M182.6 242.5h0M181.8 243.6h0M180.7 243.8h0M175.5 241.7h0M176.0 243.4h0M175.9 244.2h0M175.0 246.5h0M198.5 253.3h0M196.7 254.5h0M194.9 254.6h0M192.9 255.5h0M155.5 166.1h0M152.0 165.5h0M151.1 166.7h0M148.8 167.0h0M169.9 153.8h0M157.5 151.0h0M156.5 152.0h0M154.0 150.9h0M152.6 152.4h0M183.1 154.5h0M184.7 155.9h0M149.1 161.2h0M199.7 237.4h0M201.5 237.5h0M164.6 152.0h0M155.5 179.8h0M153.9 181.2h0M152.0 181.1h0M184.1 192.1h0M185.2 193.3h0M185.4 161.9h0M172.0 144.4h0M166.1 192.3h0M168.5 192.7h0M169.6 193.7h0M171.0 193.9h0M156.8 176.1h0M155.0 178.2h0M152.8 177.1h0M151.9 179.8h0M189.7 246.0h0M170.6 137.4h0M172.3 139.3h0M174.8 139.6h0M175.9 139.8h0M187.6 219.8h0M187.8 221.4h0M187.6 222.0h0M187.8 179.2h0M189.9 179.7h0M190.8 180.0h0M193.9 181.5h0M157.9 190.0h0M158.9 191.1h0M159.1 193.0h0M159.8 194.6h0M165.5 155.7h0M165.3 157.2h0M166.4 160.0h0M167.6 161.4h0M193.3 257.8h0M193.0 259.4h0M167.6 142.0h0M167.9 143.8h0M169.7 145.6h0M169.2 146.5h0M184.8 136.6h0M191.9 209.2h0M179.8 158.5h0M180.1 161.0h0M153.9 182.5h0M179.5 217.3h0M181.5 217.1h0M182.5 215.8h0M184.5 217.3h0M198.9 243.7h0M176.6 258.6h0M179.0 259.9h0M180.4 260.1h0M190.1 140.3h0M188.5 140.5h0M187.0 139.9h0M184.1 140.8h0M152.1 166.8h0M153.1 168.6h0M190.1 153.8h0M190.1 155.3h0M189.3 157.4h0M158.5 160.9h0M148.6 183.0h0M147.6 182.6h0M176.2 181.4h0M175.6 182.5h0M176.7 184.0h0M175.5 185.9h0M198.4 179.8h0M196.1 179.2h0M194.9 180.2h0M152.4 175.1h0M153.2 175.5h0M155.5 176.1h0M157.6 176.3h0M183.1 204.9h0M185.0 205.0h0M186.5 205.6h0M188.1 206.1h0M195.4 226.9h0M194.1 227.3h0M192.0 227.8h0M165.6 172.6h0M166.2 172.7h0M169.4 173.1h0M174.0 257.6h0M174.7 257.4h0M166.8 178.2h0M165.6 178.2h0M165.0 178.4h0M194.4 190.9h0M193.5 190.7h0M156.4 189.2h0M151.4 175.1h0M151.3 177.5h0M151.5 180.0h0M172.0 143.5h0M172.2 145.4h0M201.0 239.5h0M202.6 240.7h0M204.3 242.0h0M186.7 244.7h0M187.2 244.7h0M189.1 246.4h0M189.0 249.0h0M177.5 234.5h0M178.0 235.7h0M169.4 190.4h0M167.7 190.6h0M166.0 192.3h0M158.4 153.5h0M158.9 154.2h0M159.2 155.8h0M160.4 157.2h0M181.1 191.7h0M192.7 167.0h0M194.5 166.3h0M197.1 167.3h0M160.9 174.9h0M188.7 218.9h0M161.5 186.2h0M160.0 187.5h0M159.2 188.5h0M184.0 157.0h0M185.8 158.8h0M187.1 160.3h0M176.8 243.0h0M183.7 239.0h0M183.9 240.3h0M184.5 242.4h0M184.7 243.7h0M169.2 210.0h0M167.2 210.6h0M165.0 211.1h0M163.9 212.3h0M164.0 176.9h0M165.5 178.4h0M165.7 180.2h0M168.7 182.4h0M198.7 235.6h0M199.6 236.3h0M175.2 195.7h0M192.5 133.8h0M191.5 135.3h0M197.2 248.0h0M200.2 248.7h0M201.8 249.2h0M203.3 249.7h0M182.1 224.4h0M186.2 190.1h0M192.8 229.5h0M191.5 231.4h0M175.6 196.5h0M199.3 242.7h0M200.4 242.8h0M200.7 244.8h0"/><path stroke="#17becf" d="M221.9 143.4h0M280.6 167.4h0M279.4 168.0h0M218.3 191.5h0M217.7 194.2h0M217.2 194.6h0M214.9 196.7h0M233.0 211.7h0M234.8 212.6h0M235.9 213.4h0M262.0 164.1h0M260.2 166.5h0M269.1 175.5h0M267.6 175.1h0M215.9 167.6h0M214.7 170.1h0M213.9 171.1h0M227.9 207.7h0M229.2 209.1h0M215.0 160.2h0M215.9 161.2h0M217.0 161.8h0M232.4 182.0h0M233.1 182.2h0M234.9 183.8h0M236.1 138.7h0M232.3 143.5h0M233.8 144.7h0M235.5 145.5h0M268.3 137.9h0M270.6 138.0h0M272.1 139.7h0M223.0 141.1h0M224.5 140.5h0M226.0 142.6h0M227.8 142.9h0M247.5 167.5h0M241.6 184.5h0M242.6 185.4h0M244.5 185.3h0M245.9 187.1h0M249.1 226.0h0M246.9 226.8h0M246.7 227.1h0M244.5 228.6h0M281.0 155.3h0M280.9 156.3h0M235.4 144.3h0M233.3 144.0h0M231.4 144.7h0M229.9 144.7h0M229.8 183.9h0M230.4 184.8h0M229.5 186.7h0M276.2 162.4h0M278.0 163.1h0M279.4 163.0h0M282.4 163.1h0M237.5 210.3h0M216.3 219.1h0M217.9 219.8h0M219.9 220.3h0M221.5 220.2h0M283.0 178.8h0M277.8 169.0h0M278.5 171.5h0M277.3 172.9h0M273.5 155.5h0M212.5 189.8h0M260.4 167.3h0M233.9 177.0h0M233.9 178.3h0M234.9 179.1h0M235.1 181.5h0M269.4 156.8h0M270.5 158.4h0M270.2 160.6h0M218.9 138.4h0M220.1 139.1h0M218.3 141.5h0M229.6 139.1h0M230.4 139.9h0M232.5 140.6h0M234.1 141.5h0M235.1 165.4h0M236.4 166.5h0M237.3 169.1h0M224.0 227.0h0M254.2 185.6h0M255.8 184.6h0M257.6 185.3h0M261.6 147.9h0M208.8 153.0h0M221.6 192.9h0M218.8 139.6h0M224.5 163.2h0M225.5 164.4h0M227.1 165.9h0M228.9 165.8h0M236.9 136.9h0M238.1 137.8h0M240.1 137.7h0M235.2 190.3h0M236.6 190.8h0M238.7 191.6h0M240.3 192.0h0M252.6 183.2h0M254.7 183.3h0M256.0 184.2h0M222.6 150.7h0M224.8 152.2h0M225.3 153.9h0M237.2 168.9h0M221.4 166.6h0M219.7 167.2h0M218.7 168.0h0M217.6 169.4h0M218.8 166.9h0M219.2 168.6h0M224.4 155.6h0M224.4 158.2h0M283.8 169.7h0M282.0 170.4h0M280.4 170.1h0M256.7 182.1h0M257.1 184.3h0M256.1 186.0h0M256.3 187.6h0M268.7 136.2h0M267.1 136.7h0M266.8 138.8h0M245.1 190.3h0M244.2 189.9h0M242.0 190.5h0M239.5 190.4h0M228.3 202.1h0M228.3 203.9h0M228.9 204.9h0M228.0 148.2h0M226.4 148.5h0M222.7 165.7h0M223.6 133.1h0M225.7 133.5h0M225.8 134.4h0M228.2 135.3h0M259.1 138.7h0M260.1 139.2h0M262.2 140.0h0M264.7 141.1h0M236.6 136.9h0M234.0 137.2h0M231.6 137.0h0M277.0 167.1h0M277.7 169.3h0M278.5 171.2h0M279.4 171.8h0M273.3 162.5h0M274.5 163.4h0M276.8 163.5h0M235.7 137.9h0M232.5 138.8h0M232.4 139.3h0M259.9 157.2h0M258.5 158.0h0M257.2 159.5h0M255.0 158.6h0M232.0 168.9h0M233.3 169.0h0M236.4 169.7h0M221.2 152.2h0M222.1 154.5h0M256.2 160.1h0M255.3 160.7h0M254.9 162.9h0M217.7 162.7h0M251.7 158.0h0M267.7 145.6h0M260.6 143.1h0M263.7 149.7h0M265.2 149.7h0M266.4 151.0h0M214.5 185.4h0M212.6 186.6h0M210.8 186.4h0M209.6 187.7h0M215.0 210.7h0M212.1 210.3h0M230.3 137.6h0M228.3 138.0h0M226.3 138.3h0M225.6 138.4h0M241.0 220.2h0M242.6 221.9h0M224.3 213.6h0M220.9 214.2h0M220.1 214.1h0M218.2 214.4h0M233.9 200.8h0M234.8 201.9h0M222.2 183.0h0M223.4 146.3h0M225.9 147.2h0M227.5 188.2h0M228.8 190.5h0M231.2 219.9h0M230.4 222.0h0M236.0 233.1h0M215.9 184.3h0M224.5 219.0h0M223.7 219.8h0M245.6 154.6h0M244.7 155.5h0M244.3 156.9h0M216.5 219.0h0M212.2 180.8h0M214.4 181.1h0M215.8 181.9h0M225.8 135.4h0M227.0 136.6h0M228.1 138.0h0M229.4 138.9h0M236.6 208.9h0M233.6 210.2h0M232.9 210.9h0M237.9 149.6h0M230.0 226.4h0M230.3 228.0h0M229.6 231.0h0M230.4 231.0h0M213.2 164.8h0M212.5 167.3h0M211.4 168.9h0M210.4 142.8h0M237.5 204.5h0M237.7 204.7h0M236.7 207.0h0M208.2 178.3h0M210.3 179.8h0M212.0 180.9h0M213.8 180.6h0M242.0 190.9h0M229.1 175.6h0M230.3 176.8h0M222.9 143.1h0M225.2 145.4h0M226.2 206.3h0M217.7 188.6h0M217.8 190.6h0M216.0 191.4h0M215.0 192.6h0M209.8 152.5h0M235.1 148.3h0M234.4 149.5h0M233.2 149.9h0M209.3 173.8h0M251.0 157.8h0M252.8 159.9h0M252.3 161.2h0M227.2 223.0h0M218.1 160.1h0M217.7 161.9h0M217.2 163.4h0M237.7 175.9h0M279.9 151.1h0M279.5 153.4h0M250.5 188.1h0M250.0 189.6h0M240.4 161.5h0M239.0 161.1h0M258.3 173.5h0M249.9 158.0h0M228.1 163.9h0M227.0 164.4h0M225.0 165.7h0M223.4 165.9h0M209.6 156.5h0M209.9 156.4h0M211.6 156.7h0M223.3 190.1h0M222.8 192.3h0M220.9 193.2h0M218.8 194.0h0M277.7 154.2h0M279.2 154.7h0M281.6 154.4h0M283.3 155.0h0M213.4 175.1h0M212.5 177.4h0M212.5 178.8h0M220.2 139.6h0M220.4 141.8h0M219.0 143.0h0M250.4 181.9h0M248.7 181.8h0M264.7 171.7h0M265.5 174.1h0M266.2 175.8h0M266.1 177.7h0M263.7 142.7h0M262.5 143.2h0M250.0 195.1h0M248.9 195.9h0M246.1 196.0h0M222.8 197.9h0M222.9 217.1h0M223.9 218.6h0M223.0 218.9h0M276.7 164.5h0M277.1 164.6h0M214.3 156.2h0M233.8 225.7h0M232.4 225.4h0M229.4 227.0h0M219.7 132.1h0M217.4 133.4h0M221.9 189.0h0M220.4 189.7h0M282.4 167.7h0M280.6 168.4h0M278.4 168.4h0M278.5 145.5h0M279.0 146.6h0M232.4 182.2h0M235.3 182.3h0M214.7 217.1h0M254.2 144.0h0M253.1 144.7h0M252.3 146.1h0M249.7 146.9h0M249.2 165.7h0M247.9 167.2h0M245.4 167.6h0M212.1 178.3h0M213.5 178.9h0M216.1 180.0h0M217.2 179.9h0M237.5 157.1h0M236.3 158.9h0M236.5 160.7h0M235.2 162.2h0M232.9 168.7h0M232.0 169.5h0M223.1 175.8h0M245.3 178.0h0M245.5 180.1h0M249.9 143.0h0M253.8 206.2h0M253.4 207.7h0M223.3 184.4h0M208.7 184.5h0M210.5 184.5h0M211.8 184.1h0M230.5 150.7h0M229.9 152.9h0M229.6 153.6h0M229.4 155.4h0M232.0 158.4h0M230.6 159.8h0M229.2 160.9h0M229.4 163.4h0M236.6 193.6h0M237.9 195.7h0M249.3 189.7h0M251.3 138.5h0M251.7 139.5h0M253.0 140.1h0M226.4 170.9h0M227.5 172.5h0M228.5 173.2h0M221.9 181.2h0M220.7 182.3h0M219.6 183.5h0M246.4 198.4h0M244.9 200.3h0M245.5 201.8h0M245.2 203.7h0M235.3 156.8h0M236.3 158.9h0M229.2 220.6h0M227.3 221.1h0M225.9 223.3h0M216.4 213.1h0M214.0 214.6h0M212.7 215.3h0M241.1 208.4h0M242.8 209.0h0M278.8 149.1h0M280.1 149.8h0M241.4 207.7h0M242.0 209.2h0M243.2 211.1h0M244.9 212.3h0M256.3 146.1h0M255.7 147.4h0M255.7 148.2h0M253.7 150.6h0M227.1 203.8h0M228.2 205.8h0M229.9 206.7h0M237.0 169.8h0M238.5 171.8h0M240.2 173.5h0M242.0 174.3h0M262.7 133.4h0M212.4 192.7h0M211.3 192.5h0M209.2 192.6h0M207.4 192.7h0M229.1 158.4h0M230.3 159.2h0M231.8 160.1h0M234.1 160.2h0M210.0 158.2h0M215.5 198.3h0M250.7 152.0h0M249.8 153.3h0M248.6 155.6h0M249.2 157.1h0M234.9 139.3h0M236.0 138.2h0M233.3 233.9h0M232.5 234.4h0M230.4 235.7h0M229.5 237.1h0M229.7 195.0h0M229.7 196.4h0M273.0 157.3h0M274.1 158.2h0M276.5 158.6h0M278.1 158.2h0M238.4 186.3h0M239.4 189.7h0M239.6 190.4h0M230.3 211.6h0M229.5 212.1h0M227.2 213.2h0M233.0 185.3h0M257.6 179.5h0M258.1 180.8h0M257.4 182.7h0M218.3 189.8h0M259.4 152.6h0M260.6 153.6h0M261.1 155.4h0M262.0 157.3h0M209.7 134.5h0M274.0 180.9h0M274.4 182.0h0M273.3 184.2h0M273.7 143.7h0M273.7 145.9h0M243.3 220.3h0M246.4 220.6h0M212.3 184.1h0M210.4 184.4h0M208.6 184.9h0M213.0 185.4h0M215.3 186.4h0M232.5 179.7h0M231.5 182.1h0M214.4 166.9h0M213.9 169.3h0M214.1 170.5h0M234.6 221.9h0M236.7 221.3h0M232.6 235.1h0M229.3 234.0h0M222.9 191.8h0M276.5 176.8h0M274.8 176.9h0M273.8 176.9h0M232.9 217.7h0M231.5 218.6h0M218.5 168.0h0M220.1 168.6h0M221.4 169.9h0M265.7 141.5h0M224.8 143.7h0M224.6 145.8h0M224.5 147.3h0M225.7 149.5h0M263.9 167.4h0M266.4 166.9h0M268.1 167.2h0M236.9 156.3h0M237.8 158.1h0M238.7 158.0h0M261.0 163.7h0M260.2 164.9h0M272.0 138.9h0M273.5 139.3h0M275.8 140.3h0M221.2 200.5h0M272.8 149.3h0M238.8 140.8h0M238.8 142.6h0M237.4 143.3h0M236.3 206.8h0M235.3 207.3h0M233.2 207.7h0M235.1 149.7h0M232.9 150.5h0M232.5 152.0h0M230.7 153.5h0M232.7 175.6h0M232.8 178.7h0M233.0 179.3h0M223.4 219.3h0M248.3 171.0h0M249.2 172.0h0M245.2 190.2h0M246.6 190.7h0M245.6 194.2h0M232.6 186.4h0M234.3 187.8h0M234.9 188.9h0M249.1 172.8h0M208.4 134.5h0M208.7 136.0h0M208.6 137.4h0M227.7 221.4h0M227.9 222.6h0M227.5 224.1h0M208.8 170.1h0M247.3 154.2h0M215.1 136.1h0M218.5 199.3h0M216.8 200.7h0M214.7 200.9h0M212.6 201.6h0M232.7 148.0h0M233.5 150.7h0M234.4 151.5h0M209.4 185.7h0M206.9 186.5h0M216.6 172.5h0M273.0 173.8h0M271.7 175.4h0M227.5 223.1h0M227.3 223.7h0M216.7 144.0h0M215.4 143.7h0M253.6 143.8h0M252.0 144.6h0M250.0 144.4h0M249.3 146.2h0M249.0 195.4h0M253.3 140.9h0M252.1 142.6h0M262.6 146.6h0M262.1 149.0h0M241.8 189.7h0M271.8 156.0h0M271.2 157.8h0M270.5 158.7h0M268.9 160.5h0M213.2 148.6h0M214.9 149.3h0M232.4 151.6h0M232.9 154.3h0M232.8 155.5h0M225.8 219.6h0M225.2 222.1h0M226.7 224.2h0M240.4 210.2h0M240.2 211.8h0M238.9 213.3h0M239.7 215.5h0M233.8 174.9h0M217.2 191.5h0M216.5 192.7h0M216.7 194.7h0M238.1 203.6h0M244.3 213.4h0M246.7 214.6h0M247.7 215.0h0M249.7 215.8h0M225.0 163.8h0M226.0 166.8h0M227.0 167.6h0M216.8 140.9h0M252.1 159.4h0M248.6 183.1h0M250.0 162.7h0M246.3 153.1h0M247.5 153.8h0M269.0 166.9h0M269.0 169.8h0M269.2 170.3h0M262.8 153.1h0M264.3 153.2h0M241.7 173.5h0M240.9 175.1h0M253.1 197.1h0M252.8 198.4h0M251.9 199.9h0M272.4 153.0h0M272.1 155.1h0M231.6 230.7h0M232.5 231.9h0M232.4 233.1h0M223.8 152.0h0M281.2 160.2h0M280.5 162.9h0M281.0 163.4h0M280.2 160.5h0M277.8 159.8h0M275.4 160.1h0M274.8 160.0h0M247.1 213.1h0M249.5 215.0h0M251.7 150.6h0M252.2 151.1h0M253.7 150.5h0M240.1 227.6h0M241.8 228.6h0M266.3 161.4h0M265.6 162.6h0M266.0 165.3h0M266.1 167.0h0M271.7 137.1h0M283.0 164.6h0M281.2 165.6h0M278.9 166.0h0M240.7 167.1h0M239.3 167.5h0M237.7 168.7h0M234.9 169.5h0M205.8 178.9h0M207.4 179.3h0M208.7 180.3h0M211.3 180.0h0M237.0 157.4h0M238.3 159.0h0M273.4 144.2h0M272.8 146.1h0M270.8 147.6h0M241.8 221.5h0M280.7 156.7h0M278.7 157.3h0M276.9 159.3h0M276.8 160.3h0M232.8 173.6h0M230.4 175.2h0M237.8 216.6h0M238.2 217.3h0M261.5 158.5h0M276.9 154.0h0M279.3 155.2h0M280.0 156.3h0M280.8 158.0h0M279.1 161.8h0M281.8 162.8h0M282.5 163.6h0M284.9 164.4h0M231.6 169.7h0M229.8 170.5h0M249.9 154.8h0M239.0 214.4h0M239.9 216.7h0M239.8 218.3h0M208.3 170.3h0M206.7 170.2h0M253.5 209.2h0M278.4 151.2h0M279.4 153.6h0M280.7 154.1h0M283.2 154.3h0M226.1 221.4h0M225.2 223.1h0M226.3 225.3h0M227.5 225.3h0M271.5 155.2h0M283.9 161.1h0M285.0 162.0h0M241.0 156.8h0M240.5 158.3h0M248.8 197.0h0M247.1 198.2h0M246.6 214.3h0M245.6 214.6h0M243.9 215.5h0M253.8 147.7h0M253.1 150.0h0M252.6 151.4h0M236.2 173.3h0M236.0 174.7h0M234.9 177.0h0M234.8 179.2h0M228.6 147.2h0M230.5 147.5h0M251.9 147.0h0M252.8 146.9h0M254.7 146.6h0M256.3 146.8h0M282.8 173.7h0M282.9 174.7h0M282.3 176.7h0M282.0 179.6h0M242.0 149.8h0M243.1 151.2h0M245.3 151.8h0M245.8 153.2h0M242.2 174.5h0M245.0 175.0h0M246.0 176.2h0M247.2 176.9h0M223.5 173.4h0M222.3 174.9h0M221.0 175.9h0M243.1 149.8h0M243.8 150.2h0M245.4 151.4h0M247.8 151.9h0M243.6 177.0h0M241.7 177.8h0M231.6 229.0h0M230.1 230.9h0M271.2 167.9h0M267.7 168.5h0M266.2 169.7h0M234.9 142.3h0M235.1 144.0h0M235.4 145.2h0M231.2 149.1h0M232.2 150.8h0M249.6 213.7h0M248.1 215.0h0M245.5 215.6h0M244.8 217.0h0M276.6 177.8h0M275.9 179.5h0M228.0 224.6h0M273.0 169.1h0M215.3 198.5h0M217.1 199.1h0M259.4 134.0h0M258.5 135.1h0M257.5 136.4h0M256.8 138.5h0M230.7 142.3h0M277.1 172.9h0M276.9 173.1h0M275.2 172.6h0M273.3 173.9h0M226.7 150.9h0M227.4 153.5h0M228.0 155.2h0M229.1 156.9h0M263.2 142.4h0M263.7 144.0h0M265.5 144.8h0M266.6 146.4h0M235.8 177.3h0M233.8 177.9h0M205.8 157.6h0M205.6 159.1h0M253.2 183.1h0M254.8 183.7h0M234.3 174.9h0M230.8 174.9h0M230.2 177.3h0M258.2 162.1h0M256.9 163.6h0M255.9 164.7h0M255.7 167.2h0M211.3 148.1h0M260.9 144.9h0M259.5 145.7h0M273.0 161.4h0M271.7 162.2h0M216.6 204.7h0M216.8 205.9h0M217.0 207.5h0M215.9 210.0h0M215.5 157.9h0M258.0 162.5h0M258.1 164.2h0M238.7 193.5h0M239.6 193.1h0M242.3 193.0h0M262.8 136.9h0M263.3 138.7h0M264.9 139.9h0M282.9 163.8h0M281.4 164.5h0M221.2 210.5h0M220.0 212.2h0M218.7 212.0h0M216.0 213.1h0M211.8 147.0h0M213.7 148.0h0M214.6 149.0h0M215.2 150.3h0M237.2 208.1h0M237.8 210.1h0M234.3 193.5h0M234.4 195.1h0M253.1 177.0h0M226.0 165.8h0M226.8 167.7h0M227.0 168.1h0M226.5 171.7h0M281.2 171.0h0M278.9 171.4h0M277.4 172.0h0M276.3 172.7h0M220.8 164.8h0M218.5 166.3h0M219.1 165.7h0M215.5 166.8h0M269.4 144.7h0M271.4 146.2h0M272.5 148.3h0M273.6 149.3h0M269.4 161.2h0M270.2 143.5h0M269.7 145.0h0M269.2 145.5h0M268.1 148.2h0M225.4 135.7h0M226.9 136.4h0M229.1 137.2h0M230.5 137.4h0M221.0 188.4h0M222.6 204.5h0M220.7 203.8h0M255.3 132.6h0M255.5 134.9h0M254.5 136.0h0M229.5 223.6h0M229.6 225.4h0M229.8 227.5h0M230.3 193.1h0M238.5 146.2h0M239.2 147.0h0M241.0 148.5h0M241.1 228.1h0M241.8 229.8h0M242.5 231.9h0M243.3 233.5h0M204.3 170.2h0M206.9 171.5h0M208.3 171.7h0M209.4 173.1h0M223.9 199.7h0M226.2 200.1h0M227.8 201.8h0M229.4 203.1h0M233.8 159.6h0M214.1 207.6h0M214.0 207.8h0M215.4 211.0h0M216.7 211.3h0M220.6 188.0h0M223.0 187.9h0M223.6 189.8h0M246.3 176.3h0M245.6 177.8h0M246.6 180.1h0M220.8 217.1h0M221.4 218.9h0M221.3 221.4h0M221.3 222.9h0M224.5 170.5h0M225.8 170.5h0M226.7 171.3h0M229.8 171.8h0M261.9 175.7h0M264.4 174.7h0M266.2 174.4h0M267.6 175.3h0M218.1 199.8h0M218.4 201.2h0M267.3 178.2h0M269.5 179.7h0M271.7 179.4h0M220.8 153.1h0M210.9 140.7h0M213.1 142.0h0M214.4 183.9h0M214.4 185.5h0M227.5 195.6h0M229.2 196.0h0M230.5 196.3h0M233.1 196.8h0M276.4 141.0h0M258.9 165.4h0M260.8 165.8h0M261.0 167.1h0M234.5 183.4h0M222.0 207.5h0M221.0 210.1h0M219.8 210.9h0M222.3 192.8h0M266.9 146.6h0M267.7 146.9h0M229.3 220.3h0M234.3 189.3h0M234.5 190.8h0"/><path stroke="#d62728" d="M506.3 111.0h0M505.4 112.4h0M376.9 87.9h0M495.1 101.8h0M407.3 140.1h0M405.8 140.4h0M391.1 143.8h0M392.0 145.0h0M356.3 157.5h0M356.3 160.7h0M376.4 179.5h0M505.8 91.9h0M505.2 93.6h0M376.7 123.3h0M376.4 124.3h0M387.0 135.9h0M387.8 138.2h0M350.3 187.2h0M403.1 82.3h0M401.3 83.8h0M478.0 86.7h0M385.4 115.0h0M384.2 114.7h0M461.1 61.0h0M374.6 179.6h0M478.0 62.1h0M375.8 196.7h0M374.1 197.4h0M463.7 116.1h0M368.7 145.0h0M370.3 146.6h0M390.5 90.5h0M389.2 92.3h0M415.9 101.6h0M415.0 105.1h0M433.6 73.8h0M434.3 76.1h0M370.8 195.3h0M372.4 196.5h0M370.4 174.5h0M372.3 174.5h0M469.4 85.8h0M476.9 97.5h0M479.5 97.9h0M394.7 145.4h0M395.4 146.2h0M432.0 56.1h0M431.3 57.8h0M468.4 52.5h0M470.3 54.0h0M395.9 89.6h0M375.9 155.1h0M374.6 154.2h0M451.6 87.3h0M487.7 106.2h0M486.7 106.9h0M405.5 103.6h0M499.5 76.7h0M498.1 77.2h0M408.3 104.2h0M409.7 106.2h0M427.7 118.4h0M430.3 118.6h0M420.8 107.0h0M420.2 108.8h0M417.4 62.8h0M418.7 63.6h0M459.8 48.4h0M381.4 109.0h0M383.9 109.7h0M432.4 111.0h0M393.2 102.2h0M393.6 103.4h0M438.8 74.8h0M440.1 76.0h0M420.4 81.1h0M419.7 83.3h0M387.3 82.5h0M388.7 84.5h0M419.6 78.0h0M420.4 80.5h0M470.2 97.0h0M489.8 113.5h0M474.4 97.0h0M471.7 97.3h0M422.7 124.1h0M428.7 90.8h0M427.1 92.4h0M400.8 131.9h0M386.7 177.4h0M387.5 180.3h0M487.9 84.2h0M488.1 86.8h0M448.5 112.2h0M351.7 173.8h0M350.9 175.9h0M369.4 124.4h0M369.8 125.9h0M469.3 86.2h0M470.2 86.3h0M421.9 66.8h0M448.0 108.2h0M403.8 150.8h0M402.0 151.3h0M428.9 107.4h0M432.1 107.4h0M371.0 185.8h0M372.2 188.4h0M418.7 137.4h0M416.2 137.0h0M445.2 49.1h0M445.1 52.7h0M463.0 108.3h0M463.4 110.2h0M368.6 148.4h0M377.1 90.4h0M378.2 90.4h0M350.8 178.4h0M352.3 180.4h0M435.5 88.1h0M437.4 89.7h0M348.5 196.5h0M349.3 198.8h0M397.9 76.0h0M397.6 78.0h0M456.7 114.8h0M455.1 116.3h0M464.6 92.5h0M450.8 82.4h0M454.2 82.6h0M457.5 80.0h0M459.2 81.0h0M417.1 67.3h0M418.9 68.1h0M427.5 70.4h0M429.9 71.0h0M453.0 93.5h0M453.2 95.5h0M387.0 136.7h0M388.2 138.2h0M459.3 71.5h0M457.8 73.8h0M385.8 103.6h0M407.6 110.2h0M481.2 101.5h0M481.9 103.9h0M469.8 70.8h0M443.5 66.1h0M488.4 84.4h0M486.5 84.4h0M437.0 111.6h0M414.3 59.2h0M441.3 80.6h0M486.0 92.8h0M501.5 85.4h0M504.2 86.1h0M445.2 100.9h0M443.3 101.8h0M412.1 128.1h0M410.9 130.2h0M467.8 116.2h0M484.9 59.9h0M467.3 67.0h0M353.6 176.1h0M420.9 71.7h0M419.3 73.4h0M391.3 104.5h0M390.9 107.6h0M391.5 70.3h0M423.4 65.1h0M468.3 112.0h0M467.2 112.5h0M423.0 99.1h0M423.2 100.7h0M451.4 97.1h0M420.8 63.0h0M400.0 73.5h0M398.6 74.0h0M495.8 83.5h0M496.2 85.0h0M350.1 188.5h0M348.4 192.0h0M436.0 123.2h0M361.9 204.3h0M384.5 186.9h0M382.6 188.2h0M454.1 101.6h0M433.8 50.2h0M434.8 52.1h0M451.8 85.9h0M450.7 87.6h0M401.0 125.0h0M454.2 67.8h0M453.5 69.0h0M376.7 203.6h0M375.2 205.5h0M474.1 114.5h0M452.9 103.3h0M502.0 95.3h0M502.4 96.3h0M424.2 102.1h0M424.1 105.1h0M411.4 144.5h0M382.2 147.8h0M394.6 128.4h0M393.0 130.3h0M450.5 51.5h0M408.9 102.9h0M490.5 76.2h0M400.2 108.1h0M401.9 110.0h0M432.5 102.6h0M472.7 63.7h0M475.5 89.5h0M476.0 90.5h0M375.2 171.3h0M471.6 116.0h0M471.2 117.3h0M468.1 107.2h0M490.1 86.9h0M488.1 86.5h0M438.8 95.9h0M439.5 97.0h0M395.2 170.2h0M376.1 194.9h0M378.9 196.1h0M428.7 112.1h0M429.6 113.4h0M367.7 206.2h0M368.9 207.4h0M402.3 130.6h0M403.5 132.0h0M486.2 105.8h0M486.3 108.2h0M428.5 108.4h0M430.4 109.3h0M451.8 49.3h0M463.8 67.5h0M372.6 132.2h0M434.3 56.1h0M492.5 82.6h0M375.1 111.3h0M377.2 111.9h0M414.3 105.8h0M415.8 107.1h0M405.4 109.2h0M405.0 110.7h0M456.4 101.8h0M456.3 104.0h0M433.6 64.4h0M414.1 93.6h0M414.9 94.2h0M467.2 94.5h0M468.8 96.4h0M440.6 56.1h0M441.7 58.3h0M491.4 81.5h0M366.8 167.4h0M412.7 85.6h0M363.3 151.1h0M363.8 150.0h0M447.3 92.9h0M366.6 163.3h0M366.8 165.4h0M374.6 190.3h0M371.9 190.9h0M441.0 67.3h0M400.1 81.5h0M438.8 121.5h0M438.4 123.3h0M493.2 105.1h0M491.3 106.1h0M377.5 102.5h0M375.9 103.4h0M381.7 83.3h0M451.8 76.1h0M451.5 77.5h0M426.0 81.5h0M400.6 153.2h0M407.5 58.7h0M407.8 60.6h0M423.9 66.9h0M422.0 66.6h0M403.2 144.8h0M373.8 163.8h0M375.9 163.5h0M363.5 202.7h0M475.3 111.0h0M374.0 104.9h0M494.4 109.8h0M492.3 111.0h0M375.0 167.8h0M377.2 168.5h0M481.6 101.3h0M400.6 144.4h0M458.9 61.1h0M491.5 101.4h0M403.8 143.3h0M405.6 144.8h0M396.6 78.1h0M358.0 183.2h0M355.9 182.4h0M360.3 163.5h0M359.8 165.4h0M493.7 114.8h0M502.9 93.8h0M493.2 106.2h0M399.1 118.5h0M398.4 121.2h0M480.4 102.6h0M481.6 104.1h0M388.3 173.4h0M429.3 70.2h0M429.8 71.7h0M396.2 185.7h0M388.1 86.6h0M386.5 88.7h0M382.6 113.6h0M385.3 114.1h0M367.3 119.5h0M363.0 154.7h0M476.1 112.1h0M477.5 112.8h0M395.5 161.0h0M393.6 161.5h0M388.9 186.8h0M387.7 188.3h0M478.7 110.6h0M446.7 60.7h0M445.1 61.8h0M471.2 77.6h0M472.5 77.5h0M483.3 91.6h0M369.4 193.2h0M383.3 98.5h0M424.2 85.7h0M422.7 86.3h0M485.4 94.9h0M431.9 119.6h0M439.7 84.4h0M440.1 85.7h0M385.0 101.7h0M361.2 182.9h0M359.1 181.3h0M426.3 61.0h0M374.1 161.6h0M460.9 79.0h0M462.2 79.3h0M361.6 175.7h0M381.0 177.9h0M419.1 78.6h0M421.1 80.4h0M392.8 72.7h0M392.7 106.1h0M395.0 105.6h0M507.6 110.6h0M508.3 113.4h0M480.4 108.8h0M419.1 108.8h0M417.6 109.5h0M418.9 107.5h0M435.7 104.6h0M476.7 110.0h0M475.7 111.0h0M482.5 90.0h0M378.5 100.8h0M495.3 90.6h0M458.9 75.8h0M458.5 77.1h0M494.8 107.9h0M493.8 109.4h0M492.0 86.8h0M475.9 76.2h0M432.9 111.4h0M454.7 116.6h0M382.4 176.0h0M381.0 177.7h0M475.4 79.4h0M471.7 97.3h0M448.7 117.5h0M451.6 118.6h0M480.5 87.8h0M481.5 89.0h0M358.6 167.4h0M356.9 167.1h0M458.7 116.3h0M396.7 109.5h0M394.9 111.2h0M437.3 72.7h0M418.2 63.1h0M351.9 180.3h0M352.0 181.9h0M477.0 102.0h0M479.1 102.8h0M420.6 114.1h0M397.6 153.3h0M398.7 156.2h0M401.1 145.4h0M403.8 147.3h0M391.6 119.0h0M392.2 119.9h0M460.1 55.1h0M458.5 57.3h0M372.3 179.5h0M373.6 182.2h0M398.1 86.4h0M397.2 87.6h0M472.0 83.7h0M451.9 65.6h0M454.3 79.9h0M453.0 80.0h0M365.0 127.5h0M448.2 86.0h0M448.8 88.4h0M356.7 160.9h0M371.2 111.0h0M372.3 105.6h0M371.3 107.5h0M394.0 133.3h0M392.7 135.5h0M384.3 135.6h0M386.1 137.0h0M482.4 67.2h0M437.9 112.0h0M375.0 126.7h0M374.7 130.2h0M455.7 113.4h0M416.8 89.5h0M388.8 131.7h0M387.6 133.9h0M472.1 64.1h0M473.2 65.1h0M365.3 131.1h0M386.3 161.5h0M387.5 164.1h0M417.8 122.9h0M419.2 124.9h0M349.2 189.1h0M470.8 103.4h0M469.5 103.7h0M395.4 71.3h0M389.5 81.2h0M388.5 82.1h0M422.4 83.8h0M390.1 93.5h0M392.7 92.6h0M378.3 166.2h0M377.5 168.5h0M447.0 103.2h0M447.5 104.3h0M378.2 87.5h0M479.0 93.9h0M371.6 192.5h0M414.5 132.9h0M364.7 147.2h0M354.3 164.9h0M356.0 165.5h0M384.7 178.2h0M365.8 134.7h0M490.3 93.0h0M490.2 95.4h0M400.3 126.8h0M402.8 127.2h0M465.3 112.8h0M351.5 177.5h0M350.3 177.6h0M427.9 94.7h0M385.4 166.2h0M383.8 166.8h0M393.9 96.3h0M501.7 85.0h0M429.7 108.6h0M428.3 108.8h0M360.2 177.3h0M378.6 174.8h0M381.4 175.2h0M383.2 97.6h0M395.3 73.1h0M386.8 83.6h0M503.4 109.7h0M509.8 105.0h0M510.0 105.6h0M394.3 142.0h0M393.8 142.6h0M390.2 101.2h0M394.6 143.4h0M393.4 145.1h0M409.9 77.7h0M396.9 132.1h0M395.2 133.6h0M380.6 111.1h0M383.1 112.2h0M399.2 163.6h0M398.8 165.3h0M510.0 101.3h0M478.7 60.4h0M478.3 61.4h0M466.4 49.5h0M466.1 50.8h0M374.7 152.0h0M371.9 187.1h0M383.8 173.3h0M485.9 70.9h0M479.3 107.2h0M405.9 130.7h0M405.0 133.2h0M438.7 84.2h0M436.8 85.7h0M485.4 67.4h0M475.3 50.3h0M474.0 51.7h0M470.1 115.9h0M476.7 102.8h0M476.2 103.7h0M416.2 61.8h0M414.7 62.4h0M413.7 127.7h0M410.7 127.6h0M401.6 168.8h0M401.3 170.1h0M400.1 167.0h0M400.2 169.1h0M391.5 119.0h0M436.9 91.3h0M399.3 74.8h0M506.3 96.6h0M504.3 97.5h0M401.5 174.1h0M402.0 177.5h0M379.0 130.0h0M381.3 131.5h0M381.8 180.2h0M483.4 101.1h0M481.0 101.2h0M385.5 175.5h0M429.2 80.1h0M440.1 68.0h0M442.1 69.7h0M476.4 108.5h0M437.3 105.9h0M437.8 109.1h0M508.1 98.7h0M508.8 100.1h0M464.3 53.7h0M465.8 54.2h0M486.7 94.7h0M487.0 96.4h0M380.2 138.9h0M379.6 140.0h0M364.3 125.0h0M397.1 171.8h0M447.8 82.7h0M445.4 82.8h0M391.5 187.9h0M393.3 188.9h0M493.9 75.5h0M494.9 77.3h0M408.9 68.8h0M478.9 87.5h0M418.5 76.5h0M417.0 79.3h0M386.5 108.8h0M396.6 86.5h0M395.3 88.1h0M417.0 132.7h0M417.3 134.6h0M467.6 84.6h0M466.6 85.0h0M408.3 145.4h0M407.7 148.0h0M380.2 186.2h0M382.1 186.8h0M429.0 96.5h0M420.0 55.5h0M420.7 57.4h0M424.2 59.0h0M458.0 90.0h0M455.3 92.5h0M478.9 71.8h0M353.4 199.7h0M368.6 205.7h0M370.5 206.3h0M406.6 76.1h0M404.6 77.8h0M506.1 102.0h0M455.8 56.9h0M455.5 58.9h0M441.6 109.6h0M400.3 86.7h0M402.5 87.2h0M392.0 108.9h0M384.7 135.8h0M383.2 137.5h0M388.2 151.2h0M410.7 106.4h0M409.8 108.3h0M396.8 132.2h0M391.7 85.7h0M392.1 87.2h0M463.6 70.1h0M417.5 103.3h0M415.6 101.8h0M442.2 119.6h0M393.5 116.2h0M392.1 118.9h0M473.9 106.6h0M431.7 72.5h0M434.8 72.8h0M409.3 86.7h0M409.8 88.4h0M382.7 101.7h0M439.9 112.2h0M487.1 109.9h0M396.0 74.1h0M395.4 74.7h0M501.5 87.3h0M392.9 127.1h0M422.4 100.8h0M423.2 103.2h0M430.1 89.4h0M449.8 84.9h0M447.3 85.2h0M428.2 76.7h0M380.3 173.0h0M380.3 175.4h0M400.8 117.9h0M399.2 119.9h0M411.4 61.4h0M413.1 61.8h0M486.1 102.7h0M485.0 102.5h0M492.4 103.3h0M492.5 105.9h0M394.6 122.1h0M392.7 124.4h0M364.6 200.1h0M367.2 199.3h0M373.5 104.2h0M372.9 106.8h0M507.2 105.2h0M354.4 187.6h0M409.5 142.0h0M407.3 144.3h0M497.4 109.2h0M391.7 73.0h0M391.9 75.0h0M470.9 55.4h0M422.2 114.9h0M423.4 117.4h0M369.5 207.5h0M369.1 209.5h0M386.7 172.6h0M387.4 173.4h0M398.6 125.5h0M417.7 74.5h0M357.2 174.7h0M447.0 119.9h0M442.2 65.8h0M412.1 109.3h0M411.0 110.0h0M470.2 110.5h0M368.1 109.7h0M368.7 110.7h0M399.8 138.4h0M454.6 89.5h0M455.6 91.1h0M384.5 166.0h0M386.7 166.5h0M394.0 103.3h0M426.8 91.5h0M375.5 194.3h0M377.4 193.9h0M381.2 93.4h0M368.9 195.5h0M369.2 197.9h0M459.4 71.3h0M459.4 74.1h0M402.6 68.3h0M414.9 96.2h0M480.9 88.7h0M483.3 90.4h0M415.4 84.3h0M417.1 85.4h0M477.6 59.0h0M475.8 59.9h0M382.0 195.0h0M383.7 196.2h0M387.2 77.9h0M386.9 80.5h0M414.7 60.8h0M463.8 95.7h0M464.1 98.4h0M390.9 103.3h0M390.1 106.1h0M370.5 187.6h0M415.2 54.7h0M474.8 83.6h0M421.6 118.5h0M422.4 119.8h0M424.4 124.3h0M449.4 51.2h0M449.3 52.4h0M450.5 110.3h0M451.7 112.1h0M429.5 59.3h0M428.3 60.0h0M366.7 134.2h0M366.2 134.9h0M402.1 181.5h0M411.0 113.7h0M403.4 112.6h0M381.0 136.8h0M398.1 176.9h0M399.2 177.0h0M454.0 65.5h0M452.9 67.0h0M471.7 71.9h0M469.8 71.5h0M389.7 97.4h0M390.0 99.4h0M375.7 193.5h0M375.6 196.2h0M377.6 194.3h0M407.4 82.3h0M404.6 82.6h0M408.5 108.1h0M491.9 100.7h0M493.6 100.9h0M393.5 145.9h0M472.1 68.4h0M469.8 69.6h0M457.5 98.0h0M455.8 99.5h0M397.4 119.9h0M397.1 121.9h0M467.4 59.3h0M418.9 114.9h0M415.9 115.0h0M373.0 114.7h0M371.4 117.6h0M393.1 86.3h0M365.8 203.8h0M394.7 103.6h0M396.7 104.2h0M467.5 74.9h0M416.4 96.9h0M416.5 98.7h0M359.4 201.3h0M358.8 203.4h0M486.0 89.6h0M489.1 91.1h0M461.9 74.3h0M464.3 75.0h0M509.9 98.9h0M507.2 99.5h0M429.4 68.7h0M431.2 71.8h0M435.7 59.4h0M352.3 186.4h0M403.5 105.3h0M403.2 107.5h0M466.5 51.5h0M453.6 62.9h0M390.4 159.6h0M417.7 74.5h0M384.4 83.9h0M461.2 115.4h0M378.2 193.2h0M470.6 79.4h0M415.3 85.1h0M363.7 183.6h0M452.7 90.5h0M504.0 89.7h0M503.1 90.9h0M385.2 184.3h0M383.4 185.9h0M374.6 103.9h0M474.0 72.8h0M475.2 74.7h0M400.1 87.2h0M400.4 88.5h0M378.2 106.0h0M471.3 63.0h0M502.7 102.1h0M500.4 101.5h0M392.6 69.1h0M390.8 68.0h0M388.0 88.1h0M387.8 89.3h0M481.9 115.5h0M397.5 186.7h0M468.8 88.1h0M395.5 153.8h0M355.5 194.7h0M354.4 195.6h0M447.3 65.3h0M444.4 65.3h0M393.3 168.3h0M442.1 64.4h0M376.5 144.9h0M378.6 145.0h0M399.4 186.6h0M398.5 188.8h0M378.0 168.7h0M435.1 76.4h0M359.8 180.7h0M359.0 184.0h0M390.7 95.0h0M388.1 96.3h0M379.8 164.6h0M432.4 107.9h0M431.9 110.2h0M386.1 110.9h0M403.9 108.1h0M401.3 108.2h0M402.3 103.7h0M403.6 103.3h0M391.3 194.4h0M471.1 73.4h0M390.4 174.8h0"/><path stroke="#1f77b4" d="M368.0 120.1h0M370.8 155.3h0M449.0 93.8h0M431.4 79.5h0M474.7 97.4h0M459.4 69.8h0M351.6 192.9h0M396.7 156.7h0M474.2 72.6h0M493.9 90.9h0M421.3 128.2h0M429.0 116.1h0M435.3 73.1h0M414.8 96.4h0M436.8 108.8h0M379.6 200.7h0M375.9 141.9h0M434.0 118.0h0M395.0 145.9h0M484.9 79.5h0M380.6 106.4h0M356.7 155.3h0M375.8 112.7h0M431.2 101.9h0M396.7 133.8h0M391.8 103.2h0M424.1 125.8h0M370.2 180.0h0M448.5 53.5h0M408.0 80.2h0"/><path stroke="#17becf" d="M385.3 81.6h0M473.2 90.5h0M420.7 103.3h0M415.8 137.0h0M364.1 200.7h0M381.7 145.0h0M412.8 62.9h0M379.1 122.0h0M378.5 83.9h0M412.9 121.6h0M450.4 71.8h0M377.8 142.8h0M508.0 111.3h0M405.1 123.3h0M411.4 137.5h0"/><path stroke="#17becf" d="M473.8 53.0h0M413.1 55.2h0M487.4 60.7h0M482.4 58.1h0M471.1 49.7h0M420.7 61.0h0M454.9 61.8h0M423.0 57.4h0M450.0 47.7h0M444.0 58.1h0M493.9 45.5h0M455.9 44.7h0M439.4 51.6h0M462.0 44.3h0"/><path stroke="#1f77b4" d="M479.7 59.8h0M457.5 48.8h0M474.2 53.8h0M499.8 50.4h0M433.2 50.8h0M473.3 48.0h0M486.0 55.9h0M432.1 52.1h0"/><path stroke="#17becf" d="M484.4 244.9h0M569.7 168.4h0M563.3 175.4h0M495.0 260.8h0M479.5 261.4h0M497.0 259.5h0M512.5 115.7h0M567.1 187.8h0M534.1 115.1h0M564.6 128.0h0M533.4 209.2h0M506.0 157.4h0M521.2 197.6h0M474.6 263.2h0M551.9 124.2h0M520.1 174.9h0M551.4 148.1h0M561.3 128.9h0M501.9 215.5h0M527.6 171.7h0M535.9 244.1h0M515.8 237.4h0M565.0 164.0h0M526.2 206.9h0M511.8 211.7h0M512.1 157.5h0M527.0 99.6h0M513.1 116.5h0M483.3 230.2h0M522.6 254.4h0M464.9 252.6h0M510.9 260.1h0M565.8 147.6h0M570.5 182.9h0M517.5 233.3h0M520.8 111.1h0M554.3 174.3h0M513.9 119.9h0M491.9 209.4h0M543.7 225.2h0M506.2 93.1h0M538.1 98.0h0M504.2 176.9h0M494.6 206.7h0M502.1 70.4h0M547.3 133.7h0M519.2 199.2h0M476.1 226.8h0M563.6 189.9h0M475.5 264.4h0M513.7 210.5h0M559.7 216.6h0M511.2 98.2h0M553.9 215.8h0M571.0 150.2h0M531.6 243.8h0M507.5 257.5h0M540.0 181.3h0M513.5 197.5h0M540.7 91.7h0M532.2 90.2h0M481.7 234.1h0M520.5 209.0h0M520.5 201.0h0M542.9 193.6h0M545.6 100.2h0M556.2 169.1h0M518.2 175.3h0M502.7 188.2h0M546.9 130.4h0M515.2 165.8h0M506.2 145.1h0M539.7 240.0h0M528.8 247.2h0M523.6 173.3h0M530.5 180.3h0M534.4 137.0h0M541.3 142.1h0M529.2 216.3h0M503.5 262.8h0M556.7 170.7h0M516.0 218.7h0M527.4 96.0h0M532.0 213.5h0M527.6 87.8h0M520.8 74.9h0M473.2 237.9h0M547.4 219.3h0M548.8 153.2h0M531.7 105.1h0M543.9 159.4h0M525.3 187.5h0M526.4 190.0h0M513.1 258.2h0M510.4 198.4h0M525.4 225.3h0M509.1 262.3h0M559.4 155.8h0M509.0 174.0h0M470.6 243.2h0M506.8 203.3h0M508.0 130.1h0M533.3 211.3h0M515.6 257.4h0M539.4 130.8h0M546.9 187.2h0M564.3 169.3h0M514.7 150.4h0M550.2 156.5h0M536.4 233.8h0M563.5 197.6h0M542.8 131.8h0M514.7 139.2h0M556.3 136.0h0M546.5 108.6h0M471.4 230.6h0M534.6 222.7h0M527.1 150.6h0M548.0 149.3h0M538.0 115.5h0M491.6 243.8h0M508.3 188.6h0M519.8 196.8h0M509.0 105.5h0M567.8 132.3h0M521.3 162.7h0M496.8 241.8h0M523.2 191.4h0M507.9 146.1h0M489.9 223.3h0M546.2 191.8h0M508.2 130.6h0M512.4 105.0h0M489.0 260.7h0M560.8 159.7h0M498.6 211.2h0M500.6 209.2h0M555.2 136.0h0M521.4 216.7h0M513.1 107.4h0M574.0 166.0h0M507.7 249.1h0M489.7 259.0h0M491.0 232.6h0M512.9 151.2h0M527.9 217.7h0M489.6 255.8h0M547.5 109.6h0M553.4 166.0h0M556.4 153.9h0M540.2 89.2h0M557.8 175.7h0M506.0 171.5h0M570.1 196.8h0M533.3 202.2h0M518.1 99.5h0M558.5 160.1h0M539.0 188.4h0M528.6 200.6h0M543.0 209.9h0M501.6 198.1h0M502.5 74.1h0M559.2 223.9h0M545.7 103.1h0M513.9 183.9h0M563.0 181.9h0M551.8 190.3h0M521.8 171.7h0M543.5 122.6h0M505.2 74.7h0M501.3 217.0h0M533.5 163.8h0M497.8 216.9h0M527.5 140.3h0M513.4 218.4h0M546.8 231.1h0M484.6 245.8h0M562.3 174.4h0M555.8 165.7h0M502.8 263.1h0M536.8 104.9h0M525.1 90.3h0M507.9 179.4h0M482.5 220.1h0M549.1 233.3h0M568.2 187.3h0M512.8 197.7h0M562.6 206.4h0M486.5 224.3h0M517.3 229.8h0M563.3 208.3h0M524.2 153.2h0M534.1 171.7h0M475.9 243.8h0M478.2 239.4h0M511.6 125.6h0M527.5 102.3h0M530.6 98.7h0M509.1 169.9h0M517.1 186.8h0M528.1 106.9h0M481.9 228.9h0M565.4 153.3h0M512.7 85.1h0M535.0 175.7h0M477.2 259.5h0M501.1 255.1h0M492.9 221.0h0M536.4 133.3h0M470.9 262.4h0M567.9 145.6h0M535.3 155.0h0M527.3 101.8h0M545.4 207.0h0M509.4 110.8h0M538.9 119.4h0M530.2 93.2h0M561.6 166.2h0M545.5 135.3h0M518.0 144.9h0M539.7 166.9h0M540.0 198.4h0M515.9 255.7h0M560.7 187.1h0M516.4 194.4h0M486.4 235.7h0M542.8 223.0h0M534.7 183.6h0M483.3 253.2h0M561.8 106.3h0M538.0 101.1h0M501.9 207.8h0M538.0 224.2h0M472.1 250.5h0M542.7 229.1h0M552.5 93.0h0M539.6 219.6h0M540.4 180.8h0M540.6 231.7h0M523.6 129.7h0M487.5 212.6h0M555.0 200.8h0M529.8 209.8h0M517.2 207.6h0M531.0 93.8h0M544.5 173.4h0M531.8 183.1h0M507.3 259.4h0M536.5 148.8h0M524.9 227.8h0M514.1 200.5h0M538.2 108.7h0M518.9 249.0h0M473.2 247.7h0M488.7 268.2h0M550.6 162.2h0M493.7 255.0h0M539.4 93.1h0M511.8 201.6h0M524.0 115.2h0M520.4 173.8h0M496.2 250.9h0M493.8 209.8h0M571.6 170.0h0M523.9 109.9h0M550.3 226.4h0M521.4 95.8h0M511.6 171.0h0M542.6 179.2h0M519.5 165.2h0M541.0 119.4h0M554.1 175.0h0M537.3 110.9h0M491.0 233.9h0M505.6 172.8h0M532.2 128.9h0M527.4 92.1h0M472.9 259.0h0M484.4 243.6h0M543.8 210.6h0M496.7 262.3h0M538.7 180.8h0M553.4 181.8h0M506.7 102.2h0M481.4 267.5h0M506.6 243.5h0M501.4 259.0h0M538.6 127.3h0M538.6 169.2h0M567.0 166.8h0M543.1 213.2h0M510.6 248.6h0M535.1 112.8h0M554.1 219.0h0M543.1 175.0h0M515.0 113.1h0M546.8 180.7h0M497.3 249.5h0M495.1 267.9h0M560.9 217.2h0M543.9 237.0h0M506.6 167.3h0M530.2 125.1h0M540.8 100.0h0M510.9 98.9h0M522.9 121.8h0M530.3 102.5h0M529.7 83.6h0M525.9 209.9h0M550.1 155.3h0M529.0 217.9h0M514.8 253.5h0M492.9 218.1h0M553.0 222.8h0M518.9 96.7h0M557.3 206.4h0M564.8 184.8h0M563.2 115.1h0M541.7 190.4h0M531.8 196.8h0M506.8 185.7h0M475.7 230.0h0M528.3 105.5h0M488.7 217.1h0M554.2 110.9h0M482.6 231.9h0M545.7 231.2h0M530.6 90.0h0M497.9 246.5h0M478.6 241.1h0M540.0 177.1h0M546.8 140.6h0M535.8 234.5h0M544.5 214.8h0M515.5 211.0h0M530.3 78.8h0M529.2 91.3h0M555.3 151.5h0M542.9 143.5h0M547.3 161.6h0M486.4 256.4h0M553.3 156.9h0M568.7 150.0h0M526.9 101.3h0M503.9 265.5h0M537.6 181.7h0M569.1 128.4h0M510.3 153.1h0M539.4 165.3h0M516.2 177.7h0M476.6 255.5h0M540.5 93.6h0M548.4 150.5h0M540.5 233.4h0M561.6 146.3h0M528.7 189.3h0M535.9 119.7h0M499.4 252.1h0M483.9 255.5h0M535.7 95.3h0M530.0 158.1h0M535.7 225.5h0M524.1 206.5h0M508.6 205.3h0M520.8 223.0h0M470.8 250.1h0M528.4 246.2h0M544.4 145.9h0M515.9 162.8h0M570.7 180.1h0M555.9 188.3h0M514.9 101.0h0M566.9 179.8h0M521.3 251.4h0M516.5 200.2h0M543.8 88.9h0M514.6 93.5h0M546.0 209.3h0M504.2 159.7h0M541.8 122.8h0M500.0 264.9h0M519.8 165.6h0M501.7 80.8h0M485.7 259.7h0M550.2 159.0h0M515.9 136.9h0M528.0 228.8h0M516.4 205.0h0M522.4 178.0h0M533.5 161.6h0M472.1 263.3h0M503.4 93.1h0M535.7 93.0h0M522.7 134.6h0M552.7 160.4h0M525.2 71.4h0M533.2 201.9h0M501.1 243.6h0M508.6 185.4h0M479.3 248.6h0M518.4 215.6h0M477.4 224.8h0M553.6 134.8h0M540.5 184.9h0M505.9 145.6h0M537.5 159.7h0M529.5 171.4h0M527.8 139.6h0M488.0 268.3h0M520.4 150.0h0M480.5 231.7h0M533.6 230.8h0M480.6 236.3h0M529.4 124.2h0M521.4 145.9h0M528.0 96.2h0M525.7 107.8h0M517.2 72.5h0M547.2 109.8h0M547.7 174.2h0M530.3 184.0h0M529.5 216.0h0M517.0 82.3h0M488.0 265.5h0M537.8 244.7h0M523.4 182.5h0M517.0 153.8h0M528.9 105.9h0M506.1 231.5h0M495.0 254.9h0M528.8 250.5h0M516.2 212.8h0M486.1 231.5h0M468.3 260.8h0M465.6 246.3h0M504.2 238.7h0M478.9 254.6h0M571.1 163.7h0M556.3 130.8h0M506.8 86.5h0M558.6 168.2h0M475.1 255.1h0M559.0 175.8h0M514.8 211.2h0M535.1 184.0h0M539.6 100.8h0M512.8 76.8h0M512.4 98.4h0M571.2 138.6h0M518.4 258.0h0M520.0 174.2h0M527.8 206.3h0M515.2 221.9h0M553.3 157.6h0M490.0 240.7h0M511.4 114.8h0M501.9 188.5h0M507.2 214.0h0M560.9 116.5h0M508.9 184.8h0M476.9 226.8h0M513.5 252.3h0M466.9 254.8h0M530.8 155.1h0M513.9 234.9h0M561.2 107.1h0M514.1 200.2h0M519.1 118.2h0M516.0 73.9h0M508.8 158.7h0M555.5 203.8h0M554.7 166.9h0M502.7 180.0h0M560.4 224.1h0M518.5 103.4h0M548.4 157.7h0M500.8 190.4h0M537.3 120.7h0M563.4 160.2h0M518.3 249.3h0M523.7 163.8h0M564.0 119.9h0M532.2 76.5h0M562.8 154.6h0M523.4 193.6h0M534.9 233.5h0M542.7 188.6h0M563.2 121.9h0M542.4 165.7h0M515.0 169.9h0M554.7 168.8h0M505.3 159.8h0M477.0 228.6h0M510.7 184.9h0M558.7 178.0h0M513.7 111.0h0M502.7 194.9h0M518.6 210.2h0M476.6 234.4h0M477.8 242.7h0M539.9 143.7h0M546.0 87.1h0M550.2 126.1h0M564.6 123.9h0M564.8 165.5h0M560.4 209.2h0M482.5 261.6h0M492.4 231.8h0M483.3 267.0h0M522.4 229.1h0M464.1 243.4h0M553.3 158.0h0M554.8 180.1h0M556.2 118.2h0M555.9 206.7h0M563.0 217.6h0M559.7 166.9h0M530.6 222.6h0M498.1 211.6h0M468.0 245.2h0M573.5 144.8h0M465.4 257.3h0M554.2 224.5h0M554.2 138.7h0M476.9 246.8h0M536.1 113.9h0M507.5 140.5h0M537.2 174.7h0M515.1 106.6h0M530.5 196.2h0M538.2 137.2h0M553.5 96.0h0M501.8 247.2h0M534.6 129.7h0M502.7 261.7h0M501.4 232.8h0M512.7 178.3h0M525.7 234.6h0M523.1 195.9h0M513.4 221.9h0M540.4 124.0h0M510.7 154.8h0M545.1 236.8h0M558.2 192.6h0M521.6 75.8h0M524.8 221.1h0M516.6 138.7h0M533.6 179.2h0M518.2 240.7h0M497.0 251.1h0M513.4 189.4h0M474.1 234.8h0M499.9 190.6h0M506.2 244.9h0M564.5 190.0h0M516.6 195.7h0M528.5 147.4h0M537.8 111.1h0M474.5 250.7h0M526.7 178.7h0M510.7 167.1h0M519.3 196.5h0M503.3 175.2h0M563.5 124.5h0M541.4 193.6h0M507.7 73.0h0M502.0 231.1h0M470.9 232.2h0M558.8 147.5h0M513.4 201.0h0M557.4 134.3h0M514.2 79.0h0M545.8 152.2h0M541.2 111.8h0M474.8 231.8h0M532.8 246.5h0M523.5 122.1h0M537.9 242.5h0M539.5 208.3h0M472.9 243.9h0M497.9 242.2h0M558.8 165.6h0M523.6 164.1h0M518.0 209.3h0M540.7 208.8h0M491.8 240.3h0M525.7 149.1h0M505.8 268.7h0M491.4 230.2h0M498.1 243.7h0M491.3 255.2h0M559.6 217.9h0M527.8 96.7h0M549.8 186.5h0M525.4 82.1h0M508.4 170.0h0M551.6 118.2h0M535.1 177.8h0M536.3 217.3h0M544.7 162.9h0M517.9 83.2h0M505.5 99.2h0M554.4 174.2h0M566.4 155.5h0M498.0 218.5h0M555.7 124.7h0M542.2 225.2h0M529.6 241.6h0M550.8 194.9h0M506.8 220.2h0M496.1 243.8h0M477.0 250.0h0M493.3 213.5h0M513.6 255.6h0M507.5 170.1h0M511.4 208.7h0M542.6 184.9h0M555.7 165.4h0M515.0 200.0h0M537.7 126.2h0M524.4 109.3h0M529.3 234.7h0M515.7 250.2h0M564.6 121.1h0M513.8 264.2h0M505.2 178.8h0M522.5 204.0h0M531.0 101.0h0M492.5 221.6h0M529.2 180.7h0M510.2 153.1h0M542.4 228.6h0M533.5 104.9h0M549.9 182.0h0M500.8 230.8h0M535.9 118.4h0M522.4 91.5h0M532.6 196.8h0M566.5 161.8h0M497.9 246.1h0M512.5 136.6h0M474.2 234.1h0M566.0 115.6h0M552.5 176.1h0M490.3 235.6h0M536.9 236.2h0M510.7 155.4h0M522.8 145.5h0M510.6 212.2h0M527.5 154.6h0M545.2 158.7h0M524.7 91.8h0M526.2 81.5h0M542.6 202.9h0M552.1 132.0h0M502.1 74.7h0M535.6 173.7h0M520.0 255.2h0M526.9 143.4h0M531.2 215.4h0M544.4 196.2h0M545.0 143.7h0M510.6 205.6h0M558.0 189.4h0M534.0 118.2h0M519.8 78.0h0M516.5 112.5h0M490.2 214.9h0M473.0 252.2h0M552.6 164.5h0M510.2 211.7h0M536.1 162.2h0M536.0 229.2h0M537.0 202.1h0M547.4 212.8h0M505.6 255.7h0M521.2 193.6h0M498.8 239.9h0M498.3 218.7h0M515.8 79.6h0M529.6 117.1h0M505.8 216.7h0M512.1 125.1h0M518.8 170.9h0M527.3 218.0h0M544.3 83.9h0M557.1 178.6h0M528.6 117.6h0M493.5 239.7h0M505.4 170.6h0M512.9 137.8h0M472.6 255.5h0M509.7 210.2h0M510.9 256.6h0M552.5 223.4h0M534.8 163.0h0M517.0 79.2h0M521.9 237.5h0M522.0 247.9h0M480.2 235.0h0M516.6 140.6h0M552.5 116.5h0M475.4 264.0h0M544.0 128.9h0M528.4 167.7h0M505.5 244.5h0M523.1 74.1h0M573.9 144.0h0M529.6 127.0h0M507.4 242.8h0M520.7 243.2h0M516.8 238.6h0M549.2 217.5h0M528.0 246.7h0M529.2 134.3h0M573.2 176.3h0M518.9 145.5h0M550.7 136.1h0M566.5 139.1h0M529.3 107.7h0M543.6 136.2h0M489.0 261.9h0M548.1 188.3h0M515.6 227.5h0M563.1 184.2h0M519.3 126.3h0M470.4 236.3h0M547.1 128.8h0M506.3 98.6h0M538.9 208.5h0M543.9 231.8h0M570.0 184.9h0M532.4 174.4h0M526.8 222.2h0M542.0 219.1h0M536.7 159.9h0M547.7 113.6h0M513.3 234.1h0M505.0 77.0h0M521.1 74.9h0M529.7 175.3h0M565.0 176.4h0M521.9 246.9h0M515.2 104.4h0M525.6 254.9h0M510.4 120.3h0M507.2 224.7h0M550.4 235.0h0M531.8 79.9h0M528.7 187.0h0M570.1 180.4h0M497.2 218.1h0M525.6 139.8h0M508.2 211.4h0M502.5 262.3h0M550.4 140.5h0M530.3 149.8h0M509.9 263.3h0M525.5 205.9h0M470.5 240.6h0M529.9 183.0h0M484.8 265.7h0M566.9 192.3h0M484.6 228.5h0M529.6 214.0h0M555.0 136.4h0M512.6 212.9h0M517.5 124.6h0M544.3 227.7h0M531.6 161.4h0M558.8 221.8h0M512.7 211.9h0M482.3 222.4h0M516.8 203.3h0M514.2 205.8h0M534.1 247.6h0M540.5 138.0h0M525.0 218.1h0M541.2 194.9h0M522.5 98.6h0M528.6 149.4h0M548.3 185.6h0M488.5 259.1h0M524.4 209.7h0M502.3 234.2h0M509.6 113.1h0M560.4 153.2h0M475.5 245.8h0M493.0 259.1h0M518.0 167.1h0M538.9 198.5h0M515.3 181.1h0M521.7 157.2h0M515.6 253.4h0M500.3 261.4h0M535.5 160.6h0M547.3 114.7h0M570.8 138.1h0M544.0 106.0h0M523.5 116.5h0M562.4 194.4h0M484.4 223.8h0M512.8 100.3h0M551.5 224.7h0M548.8 102.3h0M544.3 129.4h0M507.7 183.2h0M503.6 187.6h0M508.8 90.1h0M563.5 109.4h0M533.0 137.9h0M567.0 119.5h0M496.3 248.2h0M565.4 171.6h0M477.0 230.0h0M537.0 215.2h0M536.9 218.8h0M558.6 104.0h0M557.6 223.9h0M511.5 122.9h0M539.0 194.1h0M545.7 228.0h0M572.4 158.2h0M523.3 106.9h0M564.2 143.3h0M527.7 132.2h0M556.6 151.5h0M563.5 212.4h0M565.9 211.5h0M546.6 119.1h0M486.1 242.9h0M518.2 172.9h0M522.0 227.0h0M518.0 189.2h0M559.7 178.3h0M565.8 158.5h0M509.3 128.5h0M535.0 101.8h0M504.1 95.1h0M511.4 157.0h0M512.4 260.3h0M507.5 107.9h0M536.9 113.7h0M503.7 259.3h0M527.9 121.6h0M532.9 165.3h0M501.4 83.8h0M517.4 93.4h0M545.9 96.3h0M549.5 185.8h0M543.5 236.4h0M545.8 234.9h0M558.8 225.4h0M487.6 216.6h0M551.0 172.0h0M520.8 189.1h0M525.8 175.8h0M565.1 154.9h0M511.5 261.1h0M485.2 247.0h0M512.8 194.1h0M557.7 153.0h0M526.6 243.9h0M535.2 222.2h0M543.0 161.5h0M529.5 134.3h0M491.1 241.9h0M563.0 132.6h0M462.5 247.3h0M571.6 183.7h0M562.5 184.5h0M549.1 104.3h0M545.2 146.8h0M531.6 245.1h0M472.0 241.0h0M533.3 246.2h0M493.4 233.1h0M506.0 210.2h0M511.1 240.0h0M560.5 161.3h0M505.0 156.3h0M542.7 140.8h0M545.6 119.7h0M517.7 154.1h0M508.6 255.0h0M479.5 258.9h0M552.1 106.2h0M542.8 184.4h0M540.4 98.2h0M538.1 98.2h0M501.9 216.3h0M539.0 92.7h0M557.1 215.5h0M530.7 164.1h0M523.0 82.2h0M521.6 112.0h0M476.6 246.2h0M527.0 177.1h0M524.9 208.4h0M541.4 229.2h0"/><path stroke="#17becf" d="M501.1 68.1h0M497.6 61.4h0M507.9 63.5h0M460.8 49.7h0M508.0 56.6h0M470.3 50.8h0M477.8 44.2h0M468.2 54.4h0M481.7 50.6h0M515.8 62.5h0M471.2 52.0h0M491.3 52.0h0M498.4 53.7h0M486.8 47.9h0M450.1 49.2h0M472.7 49.2h0M513.2 66.8h0M506.6 69.1h0M469.1 45.9h0M497.7 57.9h0M502.2 70.7h0M472.8 51.8h0"/><path stroke="#17becf" d="M517.9 163.3h0M492.1 169.8h0M507.4 177.1h0M509.7 146.0h0M489.8 195.6h0M481.0 159.3h0M501.4 161.2h0M476.2 147.6h0M479.9 163.1h0M514.7 131.8h0M495.7 156.9h0M492.0 133.3h0M492.3 148.1h0M483.9 138.1h0M483.1 159.9h0M505.1 180.9h0M494.4 174.6h0M499.3 183.1h0M485.7 145.9h0M494.0 200.3h0M500.0 115.7h0M478.8 184.0h0M486.8 120.0h0M493.2 155.0h0M501.8 121.1h0M502.2 138.8h0M510.4 145.0h0M476.0 149.1h0M503.6 136.5h0M515.8 138.8h0M510.2 146.3h0M503.6 137.1h0M495.1 169.7h0M518.1 176.8h0M499.8 131.4h0M503.4 162.3h0M513.8 151.6h0M515.6 159.0h0M489.8 176.7h0M511.1 141.8h0M487.6 184.0h0M518.4 177.4h0M509.3 157.6h0M488.0 164.0h0M490.5 163.8h0M510.1 125.4h0M483.2 176.4h0M476.2 161.3h0M481.2 183.6h0M500.3 123.9h0M490.9 159.0h0M494.1 117.4h0M497.1 123.4h0M481.0 145.5h0M499.6 179.8h0M480.0 144.8h0M495.2 183.1h0M495.4 116.8h0M509.8 127.8h0M496.7 179.8h0M489.5 184.3h0M492.4 142.6h0M477.4 154.5h0M505.3 152.1h0M484.4 163.0h0M504.0 168.8h0M502.8 165.0h0M512.2 188.3h0M476.6 151.8h0M495.5 140.8h0M486.3 164.7h0M478.1 149.4h0M482.6 136.3h0M490.9 187.3h0M496.6 131.5h0M504.6 167.7h0M499.2 117.1h0M503.0 189.4h0M503.4 120.6h0M497.0 145.1h0M487.8 189.4h0M501.5 192.9h0M491.5 173.6h0M483.5 124.6h0M518.9 163.6h0M485.4 162.0h0M477.1 138.3h0M482.2 179.7h0M488.7 135.3h0M487.2 131.6h0M492.3 199.3h0M509.5 177.1h0M505.7 193.9h0M509.0 195.8h0M517.4 170.4h0M489.0 183.2h0M509.2 177.0h0M514.3 166.2h0M501.3 153.9h0M516.6 151.9h0M498.3 166.9h0M482.8 163.8h0M491.4 164.0h0M512.9 168.8h0M512.3 182.8h0M486.9 139.4h0M513.7 159.0h0M519.8 170.6h0M504.7 192.8h0M520.7 152.3h0M508.3 191.2h0M476.4 158.8h0M489.0 147.5h0M512.6 144.0h0M498.4 186.5h0M513.1 128.1h0M480.3 161.0h0M486.7 184.8h0M509.0 176.7h0M501.6 141.4h0M477.8 149.5h0M505.0 137.6h0M498.4 190.3h0M498.4 181.4h0M508.8 180.4h0M516.2 165.0h0M505.2 187.4h0M501.1 130.3h0M519.7 154.9h0M497.5 201.0h0M485.8 149.0h0M489.8 161.2h0M487.4 124.9h0M514.2 146.8h0M516.5 144.9h0M511.4 124.3h0M505.3 161.5h0M492.8 140.3h0M514.1 176.5h0M494.1 191.1h0"/><path stroke="#1f77b4" d="M509.4 156.0h0M451.3 150.0h0M463.4 154.9h0M500.9 163.2h0M480.9 139.2h0M441.8 165.0h0M498.6 141.4h0M471.2 133.7h0M453.2 192.8h0M475.8 183.8h0M426.7 177.3h0M446.4 171.3h0M445.0 172.7h0M416.0 149.5h0M431.8 179.0h0M408.8 160.6h0M449.7 129.7h0M439.2 123.6h0M428.7 157.3h0M423.0 172.0h0M498.7 176.4h0M498.9 163.3h0M467.3 187.5h0M436.5 126.2h0M423.7 146.4h0M511.9 154.3h0M425.6 149.2h0M485.1 192.1h0M478.0 191.3h0M470.1 156.4h0M468.4 156.6h0M503.5 179.4h0M453.1 192.5h0M485.6 189.4h0M411.1 156.1h0M483.1 165.3h0M457.9 184.6h0M512.9 156.3h0M471.4 137.4h0M477.5 160.9h0M432.5 155.8h0M431.5 189.5h0M461.1 121.5h0M452.9 131.7h0M507.7 179.1h0M503.0 184.5h0M459.2 134.1h0M459.6 187.3h0M431.0 192.2h0M446.3 125.4h0M426.9 173.9h0M424.7 158.3h0M463.0 165.1h0M442.3 121.6h0M458.2 131.4h0M434.8 134.1h0M455.7 198.0h0M460.7 127.3h0M463.9 195.0h0M478.4 197.4h0M434.2 149.6h0M501.5 146.0h0M494.5 187.2h0M437.4 183.6h0M450.7 196.9h0M465.4 183.3h0M491.2 148.1h0M450.0 166.1h0M476.3 192.8h0M449.3 188.6h0M414.3 139.4h0M423.3 172.0h0M428.8 178.7h0M506.8 157.0h0M512.4 168.2h0M485.6 196.0h0M412.5 143.7h0M410.2 163.6h0M458.9 117.4h0M486.8 128.0h0M426.2 134.3h0M465.4 159.6h0M477.5 155.5h0M417.8 136.1h0M429.8 146.4h0M436.8 148.6h0M473.0 193.0h0M467.7 197.2h0M479.4 125.3h0M493.7 146.1h0M432.8 172.1h0M408.8 149.9h0M485.1 148.9h0M474.6 184.9h0M435.1 125.7h0M502.3 167.4h0M438.7 177.2h0M493.0 129.5h0M454.1 163.4h0M510.1 148.3h0M433.3 178.0h0M469.1 191.8h0M460.5 168.9h0M472.7 161.9h0M441.4 130.1h0M475.3 165.6h0M428.6 157.8h0M439.0 162.8h0M454.7 160.0h0M503.1 152.5h0M502.5 170.9h0M447.2 195.3h0M454.2 131.2h0M472.9 146.5h0M452.6 165.4h0M441.2 175.4h0M426.0 130.7h0M436.6 147.7h0M449.0 144.1h0M443.3 183.0h0M506.8 159.6h0M464.7 134.6h0M504.3 176.0h0M456.5 162.4h0M466.9 126.9h0M460.9 169.5h0M489.4 158.1h0M451.8 166.2h0M484.6 158.8h0M471.3 141.1h0M464.1 158.7h0M429.4 177.0h0M495.1 170.3h0M413.0 160.8h0M411.8 144.0h0M469.3 191.9h0M480.1 136.5h0M485.4 123.2h0M461.6 170.2h0M452.4 176.2h0M442.4 159.3h0M478.4 140.6h0M426.5 178.3h0M417.8 175.1h0M497.7 152.0h0M444.1 135.1h0M476.8 138.0h0M506.2 174.2h0M445.9 187.5h0M480.9 188.1h0M495.9 139.5h0M455.0 152.0h0M510.1 159.6h0M462.3 125.3h0M460.4 173.7h0M422.1 168.2h0M503.2 183.6h0M512.0 168.7h0M444.8 181.5h0M476.4 141.8h0M429.9 190.2h0M486.8 182.1h0M440.2 186.1h0M476.0 140.7h0M454.7 194.9h0M500.7 173.5h0M478.6 138.7h0M446.3 139.6h0M475.0 195.4h0M444.1 139.2h0M482.5 153.7h0M452.2 189.2h0M452.4 135.9h0M512.6 152.9h0M495.0 148.7h0M457.1 178.6h0M420.8 168.6h0M418.6 139.2h0M458.0 158.4h0M505.4 178.8h0M443.9 165.0h0M440.7 153.0h0M451.5 176.9h0M417.7 171.1h0M454.7 184.1h0M484.1 126.5h0M458.8 129.8h0M434.9 126.9h0M424.3 148.8h0M476.9 120.7h0M456.9 156.5h0M450.8 165.0h0M462.5 182.4h0M474.7 187.1h0M444.7 197.7h0M447.0 165.8h0M490.7 146.6h0M419.4 140.2h0M442.3 177.6h0M496.5 184.8h0M475.5 153.3h0M490.9 183.7h0M447.2 192.7h0M425.4 188.9h0M445.5 178.1h0M484.6 175.5h0M477.9 142.3h0M426.4 143.8h0M479.0 121.6h0M409.6 157.0h0M451.8 155.1h0M501.3 164.9h0M493.6 183.2h0M442.5 190.5h0M418.3 141.6h0M460.7 135.1h0M458.0 158.0h0M414.9 148.2h0M460.8 150.0h0M419.3 159.0h0M466.7 142.1h0M478.2 177.0h0M474.2 163.9h0M514.6 159.7h0M466.8 119.9h0M461.3 172.7h0M409.3 168.8h0M476.0 183.1h0M497.4 182.1h0M496.0 184.2h0M449.9 154.1h0M475.7 168.5h0M426.3 162.9h0M506.4 154.4h0M411.1 144.4h0M452.1 161.5h0M467.7 149.5h0M432.8 175.4h0M448.0 170.2h0M462.7 137.3h0M475.4 126.6h0M454.8 157.7h0M478.3 176.5h0M457.2 191.6h0M418.5 165.2h0M476.7 141.0h0M493.8 128.8h0M447.1 162.1h0M438.1 168.1h0M512.6 147.4h0M423.4 184.3h0M428.6 153.9h0M484.9 155.3h0M502.7 149.9h0M435.5 125.3h0M425.8 127.6h0M456.0 177.9h0M441.3 157.8h0M460.0 199.5h0M419.7 141.7h0"/><path stroke="#e377c2" d="M439.0 171.4h0M414.7 140.4h0M435.9 132.7h0M438.5 141.5h0M472.7 130.5h0M430.8 141.1h0M507.2 144.7h0M424.7 164.1h0M460.1 129.3h0M450.4 176.4h0M441.1 147.3h0M432.7 189.9h0M494.6 155.1h0M463.1 175.9h0M434.3 154.4h0M435.7 185.1h0M461.5 178.5h0M474.2 127.2h0M503.8 173.5h0M465.4 166.4h0M488.0 146.5h0M451.0 177.9h0M508.9 145.6h0M418.6 148.6h0M486.0 193.0h0M435.2 162.7h0M456.9 141.5h0M441.5 122.7h0M465.7 122.7h0M454.7 150.2h0M480.4 163.9h0M418.7 182.8h0M483.6 163.0h0M468.8 145.4h0M429.2 167.8h0M418.1 139.9h0M472.8 153.5h0M500.2 143.5h0M491.4 154.1h0M483.2 180.0h0M457.5 178.7h0M501.7 133.9h0M459.9 128.8h0M486.2 168.3h0M464.6 129.7h0M449.2 196.5h0M497.1 160.2h0M440.0 132.3h0M511.2 173.2h0M468.2 129.8h0M481.0 171.0h0M432.7 188.2h0M456.4 123.2h0M473.8 171.1h0M449.9 129.4h0M473.7 187.6h0M429.8 179.6h0M424.8 132.9h0M505.4 144.8h0M444.6 174.4h0M438.9 132.0h0M477.8 184.3h0M478.1 171.8h0M434.1 187.8h0M494.9 146.5h0M502.0 172.8h0M468.2 197.4h0M427.9 139.7h0M487.4 189.6h0M481.2 184.6h0M454.8 164.5h0M432.6 168.4h0M439.2 189.1h0M465.0 176.0h0M439.6 159.5h0M451.9 125.6h0M451.1 158.8h0M501.1 169.3h0M514.6 153.0h0M419.3 147.3h0M465.0 157.2h0M456.0 173.6h0M424.8 131.7h0M455.9 125.4h0M464.5 165.7h0M468.4 126.7h0M421.4 169.3h0M414.6 162.7h0M426.8 153.8h0M462.1 189.8h0M453.5 164.9h0M468.1 158.8h0M481.0 189.3h0M467.8 168.8h0M455.4 130.7h0M438.9 161.9h0M463.1 166.1h0M478.1 174.6h0M456.5 155.3h0M499.2 163.0h0M434.7 187.0h0M428.4 160.1h0M453.9 126.8h0M433.8 125.9h0M505.1 177.0h0M492.4 168.4h0M462.4 186.7h0M428.6 151.7h0M427.4 149.3h0M433.7 183.2h0M495.4 164.7h0M477.7 125.4h0M445.8 169.1h0M447.1 130.3h0M461.4 166.2h0M473.0 126.4h0M506.3 136.7h0M463.2 146.7h0M409.7 158.3h0M422.1 130.1h0M484.5 149.7h0M488.7 154.5h0M471.2 195.5h0M452.4 168.5h0M496.8 135.9h0M475.9 129.0h0M464.5 134.3h0M502.7 135.5h0M436.3 139.3h0M415.1 145.0h0M443.0 126.9h0M466.2 128.8h0M451.7 157.3h0M466.4 157.7h0M444.4 184.9h0M457.2 162.1h0M495.2 156.2h0M483.8 154.2h0M418.8 151.5h0M480.0 167.7h0M435.6 151.6h0M498.0 170.4h0M470.1 184.9h0M477.8 189.2h0M477.3 187.7h0M416.8 149.2h0M490.5 189.3h0M447.5 120.2h0M450.1 170.9h0M459.0 177.5h0M452.8 139.5h0M453.8 131.7h0M450.7 185.2h0M442.3 148.7h0M483.4 133.4h0M476.6 141.4h0M480.7 181.2h0M456.6 181.6h0M480.5 151.3h0M505.7 171.6h0M472.8 192.6h0M430.7 190.4h0M482.7 129.7h0M510.2 171.4h0M457.9 189.7h0M421.6 165.1h0M413.5 164.0h0M439.7 143.7h0M423.9 160.7h0M422.4 152.8h0M412.2 151.2h0M447.4 140.7h0M468.8 143.0h0M450.9 156.0h0M500.0 178.4h0M464.8 160.3h0M504.2 147.7h0M419.0 180.2h0M465.5 148.6h0M442.5 154.3h0M450.7 158.0h0M464.3 190.9h0M474.5 124.2h0M505.7 154.9h0M434.4 164.5h0M475.4 187.8h0M467.5 191.0h0M475.8 154.7h0M417.9 165.5h0M434.8 126.2h0M427.6 144.2h0M449.6 172.5h0M421.0 172.6h0M446.4 185.8h0M472.8 182.5h0M431.7 160.2h0M471.8 154.2h0M465.0 147.6h0M424.6 179.5h0M483.4 159.1h0M448.2 161.3h0M469.7 153.5h0M478.6 157.6h0M453.5 179.7h0M484.3 173.9h0M480.9 138.4h0M441.0 137.1h0M419.9 169.0h0M465.9 183.9h0M424.8 182.6h0M448.4 165.6h0M434.2 123.1h0M448.4 147.4h0M473.8 191.7h0M480.5 192.6h0M446.6 156.6h0M453.6 118.9h0M473.5 163.8h0M465.4 117.2h0M446.1 188.6h0M409.8 158.7h0M409.6 163.7h0M461.0 118.6h0M501.2 157.7h0M456.3 195.8h0M457.4 146.2h0M489.1 153.6h0M429.3 168.8h0M480.4 160.9h0M490.3 163.4h0M491.9 190.7h0M472.8 160.9h0M469.4 121.5h0M468.1 198.5h0M449.4 171.4h0M461.4 153.6h0M470.8 147.1h0M487.7 150.2h0M415.7 147.7h0M469.3 118.4h0M470.6 178.0h0M445.9 132.1h0M445.0 193.6h0M455.2 122.5h0M431.5 142.2h0M433.7 158.7h0M471.7 144.2h0M490.1 124.2h0M446.1 122.2h0M442.5 183.3h0M485.7 151.9h0M427.5 158.1h0M488.0 178.9h0M474.8 181.3h0M472.5 128.6h0M458.1 125.1h0M424.5 137.6h0M421.2 133.1h0M456.3 143.2h0M466.3 172.0h0M440.6 181.9h0M434.7 152.7h0M459.9 136.7h0M442.7 137.1h0M447.9 197.9h0M453.3 169.4h0M446.5 160.1h0M420.5 142.0h0M452.0 124.1h0M466.8 153.1h0M451.2 198.7h0M453.3 197.6h0M436.2 127.6h0M493.5 132.8h0M491.7 157.0h0M492.9 139.1h0M495.0 177.7h0M504.3 162.3h0M449.0 193.5h0M430.5 164.0h0M423.5 128.8h0M449.9 148.8h0M483.1 168.2h0M462.3 170.6h0M469.4 165.9h0M464.5 179.2h0M455.6 155.8h0M463.1 127.0h0M443.2 183.0h0M443.3 150.0h0M459.2 181.0h0M443.0 142.4h0M416.5 135.2h0M484.9 156.0h0M470.7 174.6h0M430.5 131.7h0M482.9 138.3h0M494.4 171.1h0M483.0 147.5h0M489.5 156.1h0M440.7 165.6h0M467.1 170.8h0M449.4 135.1h0M431.3 139.6h0M468.7 137.1h0M499.5 187.7h0M514.1 156.9h0M443.8 133.3h0M502.1 160.3h0M445.9 191.7h0M487.3 150.7h0M456.6 130.8h0M462.6 130.5h0M513.1 165.0h0M495.8 132.7h0M502.5 175.7h0M439.7 179.9h0M426.9 167.6h0M434.9 133.2h0M412.6 167.1h0M504.5 148.0h0M465.4 167.0h0M462.9 175.6h0M492.5 135.2h0M410.5 164.7h0M451.3 153.7h0M445.4 130.7h0M452.2 191.2h0M443.8 195.8h0M477.8 169.6h0M508.0 176.1h0M467.9 121.6h0M436.0 164.4h0M430.8 154.4h0M411.5 150.7h0M488.9 135.4h0M464.2 159.5h0M497.3 186.7h0M493.6 125.8h0M416.7 150.7h0M465.1 180.8h0M473.6 166.4h0M485.2 148.0h0M428.5 149.9h0M498.9 139.3h0M433.8 161.1h0M471.6 127.0h0M448.3 151.5h0M494.2 187.1h0M432.3 153.8h0M458.5 150.1h0M454.2 142.9h0M469.3 196.2h0M489.4 169.1h0M459.5 121.0h0M467.0 158.2h0M432.2 143.5h0M448.8 162.4h0M463.3 186.9h0M432.5 130.1h0M498.7 174.5h0M487.9 194.3h0M489.1 158.9h0M460.2 140.3h0M468.9 158.3h0M418.9 180.9h0M475.3 166.1h0M476.9 193.5h0M469.3 129.8h0M483.1 143.3h0M464.8 167.6h0M436.9 127.6h0M445.2 186.5h0M449.4 175.2h0M502.3 154.6h0M438.5 138.1h0M413.8 157.5h0M425.5 152.7h0M481.6 136.4h0M490.5 158.2h0M458.3 146.0h0M508.6 146.5h0M502.7 172.6h0M480.9 172.8h0M462.1 159.4h0M420.4 154.7h0M459.9 176.2h0M496.9 148.9h0M487.0 134.8h0M435.5 138.4h0M457.1 146.8h0M425.2 187.7h0M421.3 131.4h0M447.4 166.6h0M466.4 180.4h0M452.2 198.6h0M470.8 136.3h0M437.9 165.1h0M507.5 161.1h0M430.9 131.0h0M490.7 139.9h0M426.9 172.0h0M458.5 189.8h0M478.4 164.0h0M427.6 178.2h0M509.7 158.3h0M467.0 129.3h0M449.4 150.8h0M424.6 144.5h0M426.1 133.8h0M460.7 197.6h0M456.9 200.4h0M454.3 121.9h0M488.1 131.1h0M420.3 173.6h0M485.4 126.4h0M458.4 177.1h0M490.0 136.8h0M501.7 174.2h0M454.8 126.0h0M439.8 161.2h0M425.4 131.6h0M505.9 136.2h0M426.1 157.7h0M445.7 144.5h0M456.8 164.4h0M458.2 131.7h0M451.7 186.9h0M456.3 197.3h0M438.4 151.0h0M433.8 132.0h0M473.3 123.6h0M484.9 140.2h0M512.6 161.2h0M457.4 120.3h0M435.9 179.9h0M499.0 155.8h0M436.0 128.8h0M445.3 197.3h0M501.1 143.7h0M491.8 172.4h0M497.2 154.0h0M458.3 174.8h0M420.5 156.4h0M441.0 121.8h0M495.1 155.2h0M489.0 129.6h0M491.1 172.3h0M439.1 156.7h0M475.1 193.8h0M439.0 173.2h0M488.2 187.6h0M436.8 177.3h0M473.5 150.5h0M442.8 130.2h0M431.5 127.9h0M455.8 188.8h0M484.7 159.3h0M414.1 162.3h0M469.9 144.5h0M458.8 155.2h0M456.3 119.2h0M506.4 156.1h0M460.1 122.4h0M485.4 163.3h0M414.2 157.9h0M415.4 143.4h0M455.7 165.0h0M471.7 150.8h0M497.1 176.4h0M494.8 154.4h0M490.9 167.6h0M459.3 143.4h0M503.1 164.0h0M487.0 151.4h0M443.7 148.3h0M446.8 133.5h0M446.5 125.1h0M484.3 163.1h0M502.8 181.8h0M449.0 173.4h0M478.3 120.2h0M469.0 172.1h0M414.0 167.9h0M450.7 145.7h0M424.0 159.0h0M440.4 172.7h0M445.8 160.4h0M470.6 164.0h0M422.4 187.0h0M488.4 186.3h0M433.9 164.1h0M457.0 192.5h0M458.6 142.3h0M484.1 183.8h0M447.1 138.9h0M447.0 187.9h0M499.4 164.1h0M494.9 130.8h0M433.1 194.0h0M436.4 170.8h0M493.0 190.5h0M467.0 134.8h0M435.3 127.3h0M445.0 187.0h0M479.9 145.6h0M469.3 179.3h0M432.2 162.5h0M471.8 178.8h0M441.7 153.8h0M444.1 157.2h0M510.9 167.1h0M503.3 158.1h0M442.9 135.3h0M501.8 156.9h0M505.1 143.5h0M473.8 154.6h0M443.6 119.4h0M428.7 126.9h0M477.7 135.5h0"/><path stroke="#e377c2" d="M508.9 206.7h0M532.2 208.7h0M515.7 208.7h0M510.7 221.7h0M508.7 223.5h0M486.6 210.1h0M493.1 206.7h0M511.4 232.4h0M545.6 227.1h0M515.6 184.2h0M502.4 217.9h0M517.6 220.7h0M541.9 193.8h0M498.8 185.7h0M546.6 217.7h0M539.4 196.2h0M530.1 225.3h0M544.7 208.6h0M481.6 206.7h0M512.9 222.0h0M511.4 219.3h0M511.7 219.5h0M516.8 197.2h0M482.3 195.7h0M502.6 206.7h0M541.4 192.5h0M512.5 209.4h0M515.9 184.2h0M527.3 228.4h0M531.6 186.7h0M523.3 212.9h0M518.7 223.2h0M533.5 207.3h0M480.0 217.1h0M545.1 226.1h0M519.3 217.3h0M546.5 199.4h0M499.5 183.9h0M523.4 180.9h0M544.9 191.5h0M493.2 194.8h0M500.3 197.0h0M527.2 197.9h0M538.1 188.1h0M527.8 189.8h0M493.0 197.1h0M536.6 218.7h0M513.2 199.0h0M517.1 222.0h0M526.2 185.8h0M496.0 219.4h0M542.3 223.8h0M521.0 208.9h0M500.1 225.5h0M536.2 228.9h0M543.9 202.6h0M491.6 199.9h0M490.8 199.5h0M550.4 204.9h0M490.3 192.9h0M491.1 197.0h0M501.4 225.0h0M544.4 209.4h0M543.1 212.0h0M511.5 196.8h0M545.6 197.4h0M532.3 226.0h0M510.2 228.6h0M499.2 188.3h0M489.9 210.4h0M481.4 210.8h0M517.8 230.1h0M533.8 225.6h0M501.7 221.7h0M510.4 217.1h0M485.7 198.6h0M515.2 219.8h0M523.4 189.1h0M495.0 222.6h0M536.7 186.7h0M523.9 230.0h0M506.0 199.7h0M501.3 208.2h0M490.7 196.0h0M504.1 182.6h0M493.2 199.5h0M540.6 227.2h0M496.4 227.9h0M522.9 216.4h0M530.5 212.9h0M519.4 202.5h0M503.3 217.3h0M512.9 195.4h0M519.2 213.8h0M529.3 197.4h0M480.4 193.9h0M552.8 193.9h0M515.6 186.8h0M546.5 195.0h0M509.2 184.9h0M515.7 221.0h0M494.6 195.6h0M535.1 224.1h0M485.2 190.1h0M499.5 183.9h0M518.1 219.9h0M497.2 201.6h0M518.4 220.7h0M508.8 192.4h0M511.8 223.1h0M486.8 221.2h0M543.1 222.2h0M511.0 223.1h0M495.8 202.3h0M534.9 223.6h0M532.5 210.7h0M513.3 224.9h0M522.9 183.7h0M531.4 203.4h0M505.4 205.3h0"/><path stroke="#1f77b4" d="M451.3 246.0h0M437.8 256.9h0M409.8 203.0h0M409.7 210.0h0M442.2 246.4h0M465.2 226.0h0M454.8 223.6h0M436.4 252.1h0M430.3 259.1h0M439.0 241.9h0M465.2 225.3h0M467.8 247.5h0M441.1 206.8h0M457.6 237.9h0M466.5 247.5h0M440.0 261.7h0M443.5 249.6h0M414.5 198.1h0M414.8 205.2h0M452.5 260.6h0M425.0 256.5h0M444.6 207.2h0M427.4 250.2h0M456.2 264.1h0M430.5 228.2h0M434.8 208.6h0M461.4 258.4h0M442.7 210.1h0M446.2 202.9h0M420.0 220.8h0M404.2 213.3h0M428.9 200.4h0M447.6 238.9h0M433.1 217.9h0M407.6 218.5h0M401.6 198.5h0M431.3 249.7h0M440.5 223.4h0M442.3 216.1h0M452.5 250.3h0M461.9 206.3h0M431.1 205.4h0M468.5 216.7h0M463.6 235.5h0M435.4 196.9h0M463.1 213.0h0M421.0 200.9h0M418.5 201.6h0M411.6 217.1h0M460.5 212.9h0M452.6 264.2h0M434.3 207.0h0M415.8 208.7h0M408.5 213.5h0M417.6 226.5h0M446.6 200.6h0M420.6 216.2h0M412.3 220.3h0M425.9 210.2h0M410.1 226.1h0M428.8 251.5h0M422.1 242.8h0M408.1 204.0h0M421.9 218.1h0M424.3 238.9h0M462.3 221.2h0M456.5 203.6h0M447.7 244.7h0M421.5 236.3h0M427.6 204.3h0M435.2 205.8h0M445.1 203.2h0M429.9 208.9h0M460.3 257.3h0M427.5 242.2h0M468.2 250.4h0M422.4 213.4h0M402.3 223.3h0M449.9 226.6h0M447.6 211.0h0M426.2 207.8h0M424.4 218.5h0M466.6 253.7h0M438.4 221.6h0M455.9 204.0h0M453.0 249.5h0M447.3 227.8h0M402.6 210.8h0M416.3 232.5h0M421.3 209.5h0M452.8 246.7h0M461.0 242.6h0M462.8 234.1h0M449.4 239.0h0M434.2 227.7h0M468.3 216.7h0M410.7 219.6h0M419.9 250.0h0M455.9 228.1h0M432.4 233.5h0M442.0 266.4h0M415.8 228.6h0M466.7 223.8h0M403.4 220.3h0M418.6 238.1h0M435.5 253.6h0M444.4 256.3h0M462.8 226.9h0M462.1 252.4h0M429.7 254.4h0M444.4 217.1h0M416.9 215.4h0M468.2 234.7h0M465.3 221.8h0M445.3 223.9h0M414.8 206.1h0M413.3 202.3h0M437.3 263.4h0M448.9 260.9h0M426.9 241.2h0M437.9 199.5h0M446.3 245.3h0M466.4 232.9h0M429.7 259.5h0M414.0 227.1h0M409.9 224.5h0M407.2 198.7h0M411.8 198.6h0M421.0 197.5h0M459.3 259.5h0M424.0 235.2h0M432.4 211.6h0M426.4 235.0h0M445.7 254.8h0M462.1 220.9h0M441.2 237.1h0M417.9 240.1h0M431.2 232.5h0M414.2 197.7h0M458.5 213.7h0M407.4 202.3h0M423.1 204.6h0M429.6 237.5h0M446.7 262.6h0M446.5 207.8h0M405.3 208.3h0M422.9 243.4h0M413.9 231.6h0M420.4 246.0h0M418.1 209.8h0M411.1 202.0h0M414.1 231.4h0M433.2 203.2h0M455.2 212.0h0M463.6 252.3h0M425.4 225.7h0M438.8 259.8h0M430.3 218.7h0M402.7 200.4h0M409.2 221.7h0M406.5 210.1h0M445.8 241.2h0M405.8 201.8h0M462.4 238.2h0M442.3 248.7h0M440.3 249.5h0M425.7 205.9h0M447.0 202.6h0M449.2 258.6h0M433.1 234.2h0M444.8 244.4h0M423.1 222.1h0M459.5 260.3h0M409.6 220.0h0M424.6 229.3h0M419.5 225.1h0M405.8 220.3h0M423.6 207.2h0M422.4 227.3h0M452.9 205.9h0M402.0 207.0h0M402.8 196.4h0M436.0 254.6h0M458.2 207.5h0M433.5 204.3h0M455.9 208.4h0M452.1 250.6h0M411.2 232.1h0M410.2 227.8h0M421.6 248.1h0M422.8 223.3h0M457.5 234.9h0M452.2 261.1h0M419.8 250.6h0M418.8 196.3h0M418.2 228.5h0M432.3 244.9h0M407.8 203.5h0M428.4 211.8h0M453.7 249.6h0"/><path stroke="#1f77b4" d="M406.7 216.8h0M400.6 218.0h0M401.8 211.1h0M401.2 214.0h0M408.7 213.4h0M400.8 220.2h0M402.8 213.6h0M400.8 213.2h0M405.9 215.3h0M406.4 215.8h0M400.0 212.4h0M401.8 216.8h0M402.3 221.1h0M402.4 219.9h0M404.3 218.1h0M405.1 216.0h0M402.0 219.1h0M404.8 219.0h0M402.6 214.4h0M402.7 220.7h0M401.8 215.0h0M401.3 215.2h0M401.5 216.5h0M401.2 215.2h0M402.0 218.4h0M425.4 206.9h0M430.0 211.0h0M428.9 203.6h0M422.2 212.4h0M432.3 212.6h0M423.4 209.9h0M431.0 202.6h0M425.5 201.0h0M429.5 204.3h0M428.7 208.2h0M425.0 216.4h0M432.6 207.9h0M419.5 203.2h0M426.1 212.1h0M426.1 214.0h0M426.1 213.7h0M425.5 204.3h0M427.3 209.0h0M430.1 207.4h0M429.6 210.8h0M424.3 204.8h0M423.6 209.5h0M429.6 207.7h0M425.7 210.2h0M423.2 218.7h0M423.7 210.8h0M419.1 206.7h0M425.4 206.0h0M422.3 206.2h0M425.3 209.3h0M426.6 208.1h0M428.8 207.0h0M430.0 207.7h0M432.9 210.1h0M428.0 214.4h0M436.4 210.4h0M438.3 213.9h0M441.2 218.5h0M442.7 216.0h0M445.4 208.3h0M448.9 206.0h0M450.1 210.0h0M441.7 210.9h0M449.8 215.7h0M450.9 210.2h0M441.3 213.1h0M442.6 211.9h0M441.1 205.2h0M438.5 208.4h0M444.1 200.8h0M445.8 205.2h0M446.9 209.7h0M442.1 208.3h0M442.4 210.4h0M439.4 210.0h0M447.1 218.9h0M440.9 212.9h0M446.2 212.1h0M445.6 213.6h0M443.2 217.7h0M438.9 207.5h0M446.1 214.0h0M447.4 212.1h0M448.3 213.0h0M446.1 216.9h0M439.4 215.2h0M445.7 221.0h0M447.7 210.6h0M442.5 211.6h0M441.2 211.7h0M458.6 215.9h0M456.1 219.7h0M455.5 214.3h0M448.7 215.6h0M451.9 214.8h0M457.8 216.9h0M454.8 212.7h0M449.2 217.6h0M459.4 213.4h0M457.0 216.2h0M453.8 220.0h0M454.6 211.0h0M451.0 212.1h0M449.1 211.6h0M454.3 221.9h0M451.8 217.2h0M455.4 217.8h0M457.3 217.9h0M452.3 220.6h0M457.1 218.3h0M442.6 256.2h0M448.9 250.9h0M440.9 257.2h0M445.4 253.8h0M446.9 255.0h0M442.3 257.2h0M448.7 256.7h0M437.3 256.8h0M443.7 256.6h0M445.3 258.0h0M444.4 255.2h0M444.1 255.8h0M448.5 260.9h0M449.6 256.1h0M454.5 257.9h0"/><path stroke="#d62728" d="M446.1 230.9h0M446.7 249.3h0M465.4 242.5h0M454.5 235.7h0M440.7 236.7h0M454.6 234.7h0M459.2 247.8h0M465.2 244.5h0M452.8 248.2h0M466.2 239.0h0M448.9 229.6h0M449.8 239.8h0M459.9 246.2h0M465.8 248.0h0M459.8 236.1h0M443.7 242.6h0M454.0 239.7h0M435.9 235.0h0M434.1 231.9h0M468.6 250.0h0M460.4 232.3h0M448.5 230.1h0M466.4 237.8h0M449.3 228.8h0M443.8 230.0h0M438.3 240.6h0M464.8 250.4h0M450.4 239.8h0M463.2 249.2h0M434.6 241.8h0M441.4 241.0h0M464.3 239.0h0M472.5 247.5h0M459.9 232.7h0M467.2 228.3h0M464.1 243.0h0M469.8 240.0h0M459.5 250.1h0M457.9 231.3h0M466.5 227.5h0M446.4 249.3h0M441.0 241.8h0M465.8 247.9h0M468.7 248.4h0M459.8 240.7h0M437.4 240.0h0M437.8 230.8h0M439.6 244.5h0M458.1 245.3h0M448.9 246.1h0M452.6 250.4h0M442.0 241.6h0M453.2 241.3h0M446.6 235.9h0M437.6 232.6h0M466.4 227.2h0M467.7 234.3h0M453.5 240.6h0M470.8 248.1h0M435.2 239.7h0"/><path stroke="#1f77b4" d="M351.2 201.7h0M358.3 214.2h0M359.4 209.2h0M357.6 208.0h0M362.7 220.0h0M359.9 210.0h0M360.6 218.0h0M348.9 202.1h0M359.3 207.5h0M352.8 202.2h0M359.7 220.3h0M367.3 218.5h0M356.2 205.5h0M361.5 214.1h0M354.6 198.6h0M354.1 200.5h0M358.1 212.8h0M364.7 220.0h0"/><path stroke="#1f77b4" d="M511.1 242.9h0M482.7 247.9h0M513.4 253.6h0M475.4 247.4h0M462.7 238.7h0M506.1 245.5h0M480.3 261.3h0M479.5 235.9h0M495.3 250.0h0M472.7 235.0h0M488.8 255.3h0M520.3 250.9h0M471.3 261.1h0M510.1 240.9h0M499.1 233.9h0M510.9 244.8h0M512.2 260.3h0M476.9 247.1h0M515.4 247.1h0M512.8 237.0h0M480.0 234.6h0M497.4 257.1h0M497.0 261.0h0M499.4 256.5h0M517.9 249.1h0M532.0 233.8h0M471.9 250.8h0M496.7 256.0h0M471.6 247.3h0M464.3 245.0h0M462.4 252.3h0M465.4 250.0h0M529.4 237.0h0M513.6 238.1h0M520.3 242.1h0M483.6 251.8h0M492.8 263.8h0M487.5 252.1h0M476.9 238.8h0M513.1 252.4h0M461.2 236.6h0M487.3 235.5h0M529.6 246.6h0M462.2 242.9h0M527.4 232.9h0M529.3 238.7h0M493.6 237.4h0M473.8 239.0h0M463.5 243.1h0M524.2 249.8h0M498.4 256.1h0M490.1 250.9h0M506.0 256.7h0M473.2 260.9h0M466.6 241.6h0M474.5 251.2h0M497.5 240.3h0M475.3 245.4h0M531.2 244.6h0M469.6 241.6h0M533.2 246.4h0M505.2 263.8h0M489.2 242.8h0M463.4 253.7h0M494.8 243.3h0M512.8 260.2h0M469.9 254.8h0M508.5 237.0h0M509.8 245.3h0M531.2 238.3h0M479.6 239.0h0M472.1 257.6h0M527.2 243.9h0M467.0 257.0h0M501.3 232.6h0M466.2 265.1h0M487.4 247.9h0M509.6 240.2h0M490.1 261.1h0M467.4 266.5h0"/><path stroke="#d62728" d="M495.0 152.8h0M467.1 235.3h0M556.1 158.6h0M475.3 224.8h0M566.4 221.2h0M515.2 218.8h0M509.3 186.0h0M472.8 216.2h0M525.3 208.6h0M516.2 205.2h0M525.2 153.3h0M510.3 173.5h0M500.4 222.0h0M478.6 151.6h0M440.5 223.2h0M520.5 160.7h0M555.2 210.0h0M428.3 202.9h0M543.1 219.6h0M535.1 174.7h0M563.8 172.7h0M485.7 232.4h0M556.9 195.2h0M497.7 170.5h0M458.4 192.6h0M553.7 139.9h0M563.7 141.3h0M545.2 130.8h0M470.3 151.3h0M436.4 153.5h0M458.0 158.3h0M479.6 204.4h0M459.1 229.1h0M495.9 173.1h0M480.3 230.5h0"/><path stroke="#17becf" d="M448.6 150.2h0M420.6 178.3h0M445.4 146.5h0M442.2 130.8h0M451.3 170.0h0M451.3 136.3h0M424.1 126.9h0M408.9 159.6h0M426.2 135.2h0M412.9 185.0h0M451.2 136.4h0M407.7 131.9h0M441.4 149.3h0M423.8 154.5h0M424.6 129.4h0M431.5 140.4h0M451.3 141.6h0M454.8 152.5h0M432.5 140.8h0M409.5 175.4h0M411.4 152.8h0M444.4 129.8h0M409.2 177.1h0M433.6 142.2h0M445.9 157.1h0M448.7 120.9h0M439.2 143.1h0M422.1 179.4h0M431.4 179.9h0M419.4 175.5h0M450.5 176.4h0M450.1 134.6h0M444.5 133.3h0M418.7 155.2h0M416.2 132.7h0M458.0 138.1h0M453.4 183.4h0M455.3 145.9h0M429.5 136.5h0M427.7 137.7h0"/><path stroke="#1f77b4" d="M683.6 161.1h0M666.6 183.8h0M669.7 178.3h0M662.3 188.3h0M677.6 168.5h0M680.5 164.4h0M681.3 163.0h0M681.6 162.3h0M676.8 167.9h0M661.5 189.8h0M676.8 168.5h0M669.1 180.8h0M665.8 186.6h0M681.2 164.7h0M670.3 175.0h0M674.3 169.9h0M680.5 163.3h0M660.6 189.9h0M682.0 161.5h0M681.6 163.4h0M665.1 183.7h0M660.9 192.0h0M663.1 190.3h0M667.4 183.5h0M662.2 192.4h0M669.8 178.1h0M678.4 165.3h0M677.9 167.9h0M670.0 178.8h0M669.7 179.9h0M665.8 187.9h0M663.6 189.7h0M679.8 165.6h0M670.5 177.5h0M669.3 176.5h0M674.9 170.1h0M671.7 173.9h0M664.5 187.1h0M673.4 173.0h0M672.7 172.7h0M674.1 171.5h0M675.9 169.0h0M670.9 174.0h0M671.8 174.2h0M686.1 160.7h0M677.6 168.2h0M675.6 167.5h0M682.3 163.4h0M671.4 172.0h0M670.7 179.3h0M670.4 178.4h0M662.7 187.3h0M683.0 161.1h0M673.9 170.8h0M682.3 162.3h0M674.2 173.9h0M670.3 178.3h0M671.1 175.0h0M666.1 186.4h0M666.0 183.3h0M673.1 173.8h0M674.3 170.7h0M680.6 163.2h0M669.4 176.5h0M678.8 165.6h0M670.5 177.5h0M666.5 183.1h0M669.7 177.9h0M674.4 172.0h0M667.9 181.1h0M671.5 176.1h0M660.9 190.7h0M679.7 162.8h0M669.7 175.6h0M676.8 168.2h0M670.2 176.3h0M671.0 174.1h0M661.3 191.0h0M676.9 166.7h0M679.5 163.8h0M683.1 163.9h0M667.1 182.4h0M674.7 171.9h0M677.7 168.1h0M683.4 161.6h0M676.6 169.5h0M682.3 163.8h0M680.6 162.5h0M673.5 171.6h0M661.2 191.9h0M681.7 161.8h0M676.1 168.7h0M663.9 189.8h0M675.4 171.4h0M665.8 182.9h0M673.4 169.7h0M679.9 163.3h0M676.0 169.4h0M671.4 173.7h0M676.9 167.3h0M683.9 159.4h0M672.1 172.7h0M675.0 171.7h0M665.3 184.6h0M680.2 162.7h0M672.4 174.4h0M671.9 172.1h0M671.7 176.7h0M669.9 173.7h0M673.2 172.8h0M674.4 174.0h0M665.3 185.5h0M671.9 173.8h0M665.2 184.7h0M661.4 190.9h0M683.1 161.4h0M675.8 169.6h0M671.5 174.8h0M666.3 183.5h0M662.0 189.4h0M662.8 190.6h0M680.6 166.4h0M673.8 171.3h0M662.6 190.9h0M680.2 165.0h0M661.3 190.6h0M677.4 165.7h0M680.9 162.8h0M666.4 182.7h0M674.7 170.0h0"/><path stroke="#1f77b4" d="M656.7 170.7h0M662.8 190.5h0M654.8 167.6h0M659.4 158.3h0M659.0 155.6h0M652.6 166.8h0M654.2 176.3h0M655.4 166.5h0M654.7 182.1h0M659.6 190.2h0M656.2 188.3h0M662.3 157.8h0M655.1 181.6h0M659.2 190.8h0M655.9 183.1h0M660.2 192.9h0M656.9 189.1h0M653.7 183.9h0M656.3 161.4h0M655.3 178.1h0M657.6 180.4h0M656.5 175.7h0M660.4 185.6h0M655.4 163.2h0M658.4 172.1h0M655.9 190.5h0M658.4 190.2h0M661.1 189.8h0M653.2 168.6h0M656.4 191.6h0M653.7 182.2h0M661.8 187.1h0M656.4 183.3h0M654.8 179.9h0M654.7 167.2h0M657.4 159.5h0M659.8 185.7h0M653.2 175.8h0M652.7 176.1h0M656.4 186.9h0M657.7 173.2h0M653.4 169.4h0M654.4 189.6h0M655.6 169.8h0M657.5 165.1h0M659.7 187.4h0M656.1 171.8h0M657.9 158.7h0M651.1 176.5h0M651.4 170.8h0M658.3 162.5h0M657.4 175.3h0M650.5 169.7h0M657.2 179.5h0M658.3 157.0h0M652.0 164.9h0M661.9 191.1h0M659.8 192.2h0M650.4 171.1h0M653.3 173.1h0"/><path stroke="#1f77b4" d="M691.7 139.7h0M659.9 174.5h0M653.2 171.7h0M681.8 120.2h0M671.0 130.1h0M656.1 182.7h0M656.8 163.8h0M711.5 108.9h0M680.1 142.0h0M676.1 145.1h0M667.4 161.2h0M674.0 126.3h0M704.1 120.8h0M684.1 153.3h0M661.1 168.2h0M710.4 109.6h0M662.7 157.8h0M681.2 130.6h0M693.2 147.2h0M666.3 165.1h0M683.0 129.8h0M664.0 172.7h0M678.8 131.7h0M701.9 119.1h0M681.6 128.9h0M686.3 126.9h0M681.4 150.6h0M656.2 173.4h0M696.8 113.0h0M701.4 124.5h0M708.9 126.6h0M673.7 140.5h0M671.7 168.1h0M684.1 132.5h0M687.9 136.1h0M691.3 128.5h0M715.2 107.6h0M693.6 117.7h0M667.9 167.9h0M702.4 125.4h0M665.0 144.9h0M682.5 152.4h0M671.2 141.5h0M689.1 118.6h0M679.2 140.0h0M692.1 129.0h0M661.3 177.4h0M679.0 143.8h0M658.8 175.2h0M691.7 136.1h0M660.0 165.2h0M686.7 138.3h0M673.1 161.5h0M672.7 135.0h0M665.0 157.0h0M656.3 170.4h0M662.0 189.4h0M693.5 145.9h0M654.4 155.6h0M709.9 127.7h0M654.9 183.3h0M706.6 122.7h0M674.8 159.5h0M689.2 133.2h0M657.3 179.5h0M669.8 136.7h0M657.9 182.1h0M669.3 160.6h0M700.9 128.9h0M692.5 126.6h0M703.9 114.2h0M654.3 149.2h0M690.8 146.6h0M661.0 184.4h0M693.2 131.6h0M694.2 127.6h0M674.5 157.2h0M680.4 153.6h0M661.4 178.9h0M667.2 141.4h0M677.5 141.8h0M713.0 116.5h0M696.6 134.7h0M668.6 133.1h0M654.1 173.5h0M661.3 159.5h0M696.8 134.9h0M662.1 187.0h0M670.1 163.8h0M657.4 170.3h0M656.9 177.2h0M662.8 140.4h0M667.3 179.6h0M684.0 129.6h0M688.7 145.9h0M674.4 158.7h0M711.1 111.4h0M660.9 155.2h0M705.4 124.6h0M655.4 161.7h0M683.9 130.2h0M678.1 158.8h0M664.7 148.8h0M654.9 149.2h0M675.8 161.7h0M665.1 141.1h0M683.7 135.8h0M654.4 152.0h0M650.9 169.1h0M691.1 130.5h0M654.9 163.1h0M654.0 160.7h0M676.7 151.9h0M686.3 135.1h0M688.2 141.5h0M654.9 156.3h0M651.1 159.7h0M695.2 119.8h0M693.0 143.5h0M663.2 139.0h0M658.7 151.3h0M697.9 135.5h0M665.3 150.9h0M710.3 121.2h0M698.1 126.1h0M658.3 159.3h0M706.1 113.7h0M707.8 118.5h0M655.9 155.4h0M692.5 130.1h0M690.0 139.5h0M688.6 132.2h0M709.1 113.4h0M661.2 151.8h0M662.4 146.5h0M696.2 115.8h0M699.3 123.3h0M712.3 116.7h0M663.9 179.6h0M707.0 125.5h0M712.3 120.8h0M655.4 185.3h0M656.7 153.7h0M688.6 124.8h0M695.2 133.2h0M655.4 143.7h0M654.7 144.4h0M694.5 112.9h0M675.8 157.5h0M666.3 136.5h0"/><path stroke="#1f77b4" d="M730.1 58.4h0M756.6 50.2h0M729.7 66.6h0M710.0 92.2h0M748.9 57.9h0M737.3 51.9h0M716.4 87.1h0M717.1 82.2h0M744.1 66.9h0M723.7 78.7h0M730.1 68.0h0M754.8 50.5h0M763.1 54.0h0M720.1 81.1h0M732.9 69.0h0M723.8 81.5h0M751.2 55.6h0M719.4 94.4h0M749.7 68.0h0M752.5 51.4h0M713.8 84.7h0M735.6 75.8h0M723.4 80.7h0M703.8 98.3h0M711.2 84.8h0M741.1 63.0h0M723.7 83.4h0M718.0 91.4h0M745.6 63.3h0M740.7 73.5h0M731.1 72.9h0M732.5 77.7h0M717.2 91.9h0M739.6 75.6h0M746.4 63.6h0"/><path stroke="#d62728" d="M748.7 132.6h0M748.2 122.4h0M745.7 127.6h0M747.6 132.5h0M747.6 130.1h0M747.8 125.2h0M749.8 132.3h0M749.7 135.3h0M750.0 134.1h0M751.0 139.4h0M752.6 138.1h0M746.4 127.7h0M746.0 120.8h0M748.7 123.6h0M750.3 133.6h0M754.0 139.3h0M747.4 130.1h0M748.6 135.9h0M748.4 128.9h0M745.3 122.5h0M751.5 138.1h0M748.3 131.7h0M744.4 121.3h0M748.1 121.9h0M750.6 141.0h0M748.5 127.5h0M748.4 130.4h0M748.6 131.5h0M750.6 129.3h0M750.8 129.9h0M756.0 140.7h0M747.6 129.8h0M744.7 124.9h0M751.9 141.5h0M749.7 126.7h0M749.0 138.8h0M750.9 139.5h0M748.6 133.4h0M751.4 129.9h0M745.8 125.5h0M750.9 137.1h0M747.2 134.0h0M752.6 135.9h0M748.0 127.4h0M748.9 121.7h0M753.9 144.7h0M746.9 131.6h0M743.8 122.7h0M748.1 130.3h0M750.3 129.9h0M747.9 127.6h0M747.6 137.4h0M749.0 144.7h0M752.8 142.3h0M745.1 120.2h0M751.5 141.6h0M754.1 143.5h0M751.2 133.5h0M751.6 126.5h0M749.6 123.9h0M749.8 133.3h0M751.2 129.3h0M753.2 142.3h0M748.2 135.4h0M749.3 133.2h0M753.4 137.0h0M748.9 128.4h0M749.9 142.4h0M750.1 129.8h0M754.6 136.1h0M751.4 141.3h0M749.4 145.6h0M750.2 130.7h0M751.6 138.3h0M747.1 125.1h0M752.8 142.6h0M749.7 124.0h0M745.5 126.8h0M748.9 141.0h0M753.9 140.6h0M754.6 138.2h0M749.7 140.2h0M751.3 133.7h0M749.0 133.8h0M752.3 146.3h0M747.8 122.6h0M750.4 131.0h0M751.6 132.1h0M750.5 140.5h0M756.6 139.1h0"/><path stroke="#d62728" d="M773.9 196.3h0M748.2 178.9h0M756.4 184.5h0M747.3 170.8h0M745.6 167.4h0M741.6 155.5h0M748.9 176.7h0M746.8 144.3h0M756.4 187.4h0M743.2 151.3h0M771.5 196.3h0M763.4 192.1h0M752.8 184.5h0M753.4 184.2h0M760.9 190.7h0M747.0 173.1h0M744.9 145.4h0M770.5 194.1h0M752.8 185.8h0M754.9 185.6h0M768.3 192.7h0M743.1 146.6h0M744.6 165.5h0M744.2 167.4h0M740.3 158.6h0M755.1 184.1h0M747.4 170.4h0M744.0 162.6h0M743.6 162.3h0M745.4 158.2h0M743.0 152.3h0M750.6 181.7h0M744.3 159.7h0M743.0 158.7h0M750.2 175.4h0M751.7 178.8h0M746.7 146.0h0M766.4 192.4h0M751.1 180.5h0M744.7 161.8h0M764.1 190.8h0M774.8 196.2h0M743.9 162.7h0M763.8 192.6h0M744.0 150.3h0M763.5 192.1h0M750.6 181.3h0M770.0 194.8h0M749.0 177.8h0M748.9 178.9h0M745.6 147.3h0M754.6 184.2h0M750.8 178.0h0M743.2 152.0h0M743.7 169.9h0M744.7 145.8h0M744.9 167.1h0M742.7 150.0h0M746.9 169.1h0M753.1 183.2h0M768.5 193.2h0M748.7 174.0h0M759.1 189.3h0M742.7 148.8h0M771.4 194.6h0M753.9 183.0h0M743.0 160.5h0M763.0 192.9h0M742.5 145.8h0M741.6 152.4h0M756.0 185.2h0M744.3 154.3h0M743.8 156.4h0M743.3 156.6h0M744.3 160.5h0M747.3 177.1h0M744.2 146.0h0M743.0 146.9h0M743.0 155.2h0M745.2 167.3h0M775.3 196.5h0M764.1 191.0h0M748.1 141.5h0M747.9 141.5h0M766.8 191.8h0M747.2 143.0h0M773.6 197.5h0M743.0 164.2h0M755.7 184.5h0M741.3 156.8h0M743.5 146.0h0M743.5 151.2h0M744.2 160.8h0M770.1 194.7h0M755.1 184.0h0M760.6 189.5h0M745.4 149.2h0M745.8 172.6h0M747.5 172.8h0M744.5 146.0h0M741.3 149.0h0M771.2 194.2h0M745.4 166.5h0M769.1 194.5h0M756.3 187.6h0M746.3 175.9h0M745.5 168.7h0M750.4 185.1h0M743.3 163.1h0M769.0 195.3h0M757.1 186.4h0M742.6 149.1h0M744.2 148.2h0M742.0 160.9h0M743.4 146.4h0M759.5 188.6h0M752.2 184.1h0M748.1 174.8h0M752.3 183.8h0M760.0 190.4h0M750.8 181.2h0M762.5 189.5h0M759.5 189.0h0M743.5 155.7h0M742.4 158.4h0M762.8 190.1h0M745.2 167.8h0M743.4 166.0h0M742.7 157.6h0M746.4 173.8h0M742.9 151.5h0M750.4 181.6h0M765.4 191.4h0M747.9 175.8h0M752.1 181.6h0M744.1 149.1h0M772.2 193.4h0M743.2 161.0h0M746.5 165.7h0M747.9 173.0h0M749.6 178.6h0M763.7 190.9h0M776.4 196.2h0M743.2 161.9h0M746.2 169.0h0M743.9 162.7h0M750.4 177.3h0M743.8 163.3h0M745.5 166.7h0M744.5 164.1h0M743.5 160.6h0M748.9 176.5h0M747.0 141.1h0M772.2 196.3h0M744.6 162.4h0M743.3 167.6h0M758.7 188.6h0M769.8 196.0h0M751.1 181.5h0M762.1 189.2h0M751.9 181.9h0M745.3 143.8h0M755.2 185.3h0M744.5 144.5h0M773.9 196.3h0M773.1 196.3h0M748.2 177.9h0M772.5 197.8h0M746.9 172.1h0M747.7 142.1h0M744.7 164.1h0M743.3 157.5h0M748.7 177.0h0M748.6 145.1h0M747.4 174.2h0M761.9 191.7h0M773.6 196.1h0M743.4 156.4h0M763.4 192.7h0M769.1 195.5h0M750.6 178.9h0M742.8 160.6h0M745.2 142.3h0M763.1 191.8h0M759.3 189.8h0M755.7 184.5h0M773.8 196.8h0M746.8 143.9h0M757.3 189.0h0M742.9 157.7h0M746.8 143.7h0M747.2 144.3h0M746.0 140.9h0M750.7 180.9h0M746.1 145.8h0M747.3 142.6h0M764.3 190.1h0M744.1 164.9h0M750.0 181.0h0M743.5 156.6h0"/><path stroke="#d62728" d="M779.5 185.5h0M778.2 182.3h0M778.4 177.2h0M776.0 171.3h0M772.6 193.2h0M778.4 186.3h0M779.2 187.9h0M780.0 183.5h0M773.0 189.3h0M778.9 185.4h0M772.5 187.4h0M779.8 173.2h0M781.6 171.3h0M778.7 179.1h0M771.6 192.4h0M778.8 172.8h0M779.9 187.9h0M776.3 186.0h0"/><path stroke="#d62728" d="M775.1 177.0h0M765.5 182.2h0M781.4 192.4h0M768.0 155.9h0M755.0 138.1h0M771.4 183.7h0M761.2 189.7h0M769.6 159.2h0M754.3 139.3h0M765.9 135.0h0M756.8 151.6h0M773.4 175.6h0M759.5 133.7h0M762.9 136.7h0M780.2 174.2h0M750.7 155.7h0M774.6 169.6h0M752.1 176.5h0M779.5 172.8h0M775.2 178.6h0M758.8 150.6h0M771.4 156.1h0M777.2 169.5h0M759.9 159.9h0M751.3 157.4h0M770.4 190.9h0M764.2 167.2h0M761.5 151.8h0M753.7 153.2h0M780.0 169.5h0M754.6 134.6h0M758.2 147.3h0M755.8 179.5h0M761.5 138.4h0M750.2 173.1h0M763.9 170.8h0M775.5 193.4h0M776.9 195.8h0M748.7 148.7h0M762.7 144.1h0M778.3 168.0h0M751.4 137.6h0M781.8 182.6h0M775.1 173.8h0M764.2 151.4h0M756.6 172.2h0M771.2 149.0h0M779.5 183.4h0M750.1 148.2h0M770.6 171.4h0M780.6 182.5h0M759.7 167.6h0M767.7 143.6h0M771.6 174.5h0M772.8 162.5h0M752.6 137.2h0M759.9 158.2h0M752.2 151.6h0M754.2 146.9h0M764.0 154.4h0M780.2 180.6h0M758.8 156.4h0M750.4 159.6h0M766.6 146.2h0M759.7 166.0h0M768.7 142.1h0M766.7 144.6h0M764.6 147.2h0M761.1 172.7h0M766.4 185.9h0M758.1 138.1h0M771.8 192.7h0M767.4 175.8h0M750.1 164.8h0M776.1 191.4h0M768.0 162.7h0M778.3 192.0h0M767.8 171.1h0M754.1 178.7h0M753.3 140.8h0M776.1 182.5h0M771.3 176.2h0M761.8 153.9h0M763.7 189.5h0M779.9 192.3h0M758.7 164.6h0M780.3 185.1h0M754.3 140.0h0M772.7 193.7h0M781.0 175.5h0M762.4 136.1h0M757.7 147.6h0M765.9 148.0h0M769.2 189.5h0M750.3 178.7h0"/><path stroke="#d62728" d="M765.7 195.6h0M742.4 179.6h0M781.9 195.8h0M739.9 128.5h0M737.8 127.0h0M773.9 154.3h0M737.8 170.9h0M753.3 156.3h0M761.2 158.5h0M741.0 135.8h0M763.8 160.3h0M769.8 172.0h0M771.9 183.4h0M764.2 179.2h0M744.4 141.7h0M747.0 181.1h0M769.7 139.6h0M754.3 195.6h0M771.2 142.6h0M785.4 173.8h0M778.5 159.7h0M781.2 192.3h0M767.6 190.6h0M784.9 192.8h0M767.7 139.8h0M778.4 153.7h0M749.8 180.0h0M749.6 166.9h0M768.3 165.3h0M752.4 142.0h0M771.2 196.6h0M777.2 192.2h0M783.7 156.9h0M740.1 118.4h0M755.4 167.4h0M787.7 178.4h0M742.5 178.3h0M765.1 193.5h0M732.5 130.3h0M753.6 165.1h0M778.5 186.6h0M758.1 185.8h0M740.1 171.2h0M746.9 147.6h0M751.4 126.6h0"/><path stroke="#e377c2" d="M777.6 113.4h0M779.5 112.4h0M774.7 93.6h0M776.6 83.6h0M778.9 120.2h0M778.0 111.8h0M773.5 82.6h0M775.8 87.4h0M775.0 96.2h0M778.0 108.5h0M776.6 109.5h0M776.3 110.6h0M779.4 122.0h0M775.2 87.2h0M781.6 124.2h0M775.8 102.4h0M777.8 117.6h0M776.7 81.4h0M775.3 90.0h0M775.9 110.1h0M778.3 113.2h0M773.4 95.0h0M777.9 104.7h0M778.3 94.4h0M773.9 107.1h0M779.9 118.1h0M778.4 121.7h0M773.9 97.7h0M777.1 110.1h0M777.4 109.2h0M775.5 108.5h0M779.2 117.4h0M774.5 86.8h0M783.2 122.9h0M774.2 104.0h0M780.2 121.0h0M775.1 85.8h0M774.0 94.2h0M776.0 86.3h0M775.9 95.3h0M777.9 81.3h0M777.1 84.8h0M774.0 82.6h0M774.7 105.8h0M782.1 121.7h0M776.6 90.7h0M775.9 84.0h0M777.1 108.7h0M773.9 89.2h0M776.3 106.9h0M778.1 111.0h0M775.4 111.9h0M782.1 121.0h0M774.8 97.8h0M774.1 87.6h0M781.4 119.1h0M781.1 120.9h0M775.0 87.2h0M774.2 95.1h0M776.9 82.1h0M775.0 101.0h0M774.7 96.6h0M776.5 89.5h0M779.2 114.6h0M776.0 93.0h0M774.9 87.7h0M776.4 80.7h0M776.7 102.2h0M776.1 96.2h0M779.7 121.6h0M776.9 84.7h0M777.6 116.2h0M776.8 109.1h0M772.9 87.8h0M774.8 84.7h0M778.3 118.8h0M775.4 104.6h0M776.8 113.9h0M775.9 91.3h0M778.0 109.1h0M780.6 116.6h0M776.8 85.9h0M776.8 94.4h0M780.2 114.3h0M775.9 95.4h0M776.2 109.5h0M776.9 84.7h0M775.0 99.5h0M775.7 101.4h0M775.3 82.6h0M775.8 88.1h0M777.5 110.5h0M780.4 120.5h0M774.5 94.9h0M776.1 102.1h0M777.5 105.5h0M774.7 95.2h0M781.9 121.3h0M775.3 87.4h0M773.4 103.8h0M779.4 117.8h0M777.5 95.3h0M780.2 117.8h0M781.5 119.8h0M776.8 111.1h0M779.5 123.2h0M776.4 106.6h0M775.5 99.6h0M775.5 99.9h0M775.0 104.4h0"/><path stroke="#e377c2" d="M781.5 96.9h0M774.0 112.4h0M768.9 95.9h0M787.6 96.1h0M787.9 94.8h0M770.9 116.3h0M763.7 109.4h0M766.2 99.6h0M768.2 87.1h0M771.1 117.9h0M779.8 87.7h0M766.6 117.0h0M777.8 80.8h0M782.0 116.1h0M776.6 112.7h0M772.4 112.0h0M784.1 96.3h0M775.8 86.2h0M778.1 122.6h0M766.2 103.0h0M774.7 117.9h0M780.1 112.1h0M780.3 95.2h0M783.3 115.2h0M773.6 124.3h0M784.8 104.8h0M774.3 101.2h0M773.5 119.5h0M764.0 103.8h0M783.7 106.5h0M765.3 107.2h0M768.0 105.0h0M787.4 89.9h0M781.3 98.4h0M775.3 123.5h0M772.1 121.4h0M781.9 81.3h0M779.2 96.5h0M771.9 95.0h0M783.6 121.9h0M776.4 90.0h0M776.1 89.8h0M769.8 108.4h0M767.9 89.4h0M770.6 97.5h0M777.2 117.5h0M772.0 108.2h0M780.4 83.2h0M769.9 99.6h0M781.9 95.9h0M766.9 95.0h0M783.0 93.2h0M764.5 100.9h0M763.9 109.2h0M779.5 84.3h0M774.9 98.9h0M775.8 100.0h0M783.3 85.2h0M770.5 106.7h0M776.9 122.0h0"/><path stroke="#e377c2" d="M729.6 229.6h0M741.6 230.1h0M730.3 230.8h0M735.9 231.6h0M753.4 234.4h0M732.5 229.3h0M753.0 233.6h0M728.1 225.9h0M749.5 232.3h0M731.2 229.8h0M733.4 230.5h0M729.9 227.8h0M743.8 234.3h0M745.2 235.2h0M737.4 232.5h0M748.5 234.1h0M740.8 233.4h0M738.1 234.8h0M742.3 235.6h0M732.2 230.4h0M738.5 232.9h0M738.3 234.4h0M748.3 236.7h0M746.1 233.3h0M732.6 228.4h0M726.1 223.7h0M732.7 232.9h0M740.8 232.6h0M749.8 234.9h0M755.1 234.3h0M752.0 233.3h0M729.6 227.5h0M725.1 221.0h0M745.3 233.9h0M748.2 233.4h0M730.4 224.9h0M751.3 235.2h0M728.2 225.4h0M727.6 229.6h0M754.1 234.4h0M726.0 223.2h0M733.5 233.4h0M728.6 227.0h0M743.2 233.3h0M727.3 224.5h0M744.5 234.8h0M746.9 231.3h0M728.0 222.7h0M739.6 231.5h0M729.1 230.5h0M727.3 221.1h0M729.3 230.6h0M739.4 235.3h0M726.8 223.2h0M747.0 231.8h0M754.9 235.6h0M728.7 230.3h0M732.5 232.2h0M751.2 235.9h0M753.7 233.3h0M743.3 234.6h0M740.4 233.3h0M729.1 231.4h0M743.0 231.3h0M753.4 236.4h0M733.9 231.1h0M727.4 223.5h0M750.7 237.5h0M754.1 233.3h0M728.7 230.0h0M738.4 235.2h0M732.2 233.6h0M726.3 227.5h0M744.6 230.6h0M729.7 230.3h0M730.0 224.9h0M736.5 232.2h0M730.2 224.5h0M750.5 235.1h0M729.5 226.2h0M735.3 228.1h0M742.4 234.4h0M753.5 236.6h0M727.3 223.3h0M728.8 228.1h0M752.3 233.3h0M728.9 227.8h0M744.8 233.4h0M752.7 234.5h0M728.5 226.1h0M731.5 224.5h0M742.3 233.7h0M728.9 223.7h0M729.0 227.7h0M746.8 233.1h0M730.4 222.4h0M734.4 233.2h0M742.4 231.2h0M732.6 232.4h0M729.0 227.8h0M727.4 223.8h0M729.8 223.7h0M752.6 237.4h0M736.3 229.2h0M727.7 224.2h0M742.0 231.6h0M731.4 231.3h0M749.4 234.1h0M732.2 227.6h0M744.9 232.9h0"/><path stroke="#e377c2" d="M751.5 215.2h0M742.1 229.7h0M747.9 213.3h0M745.3 240.0h0M750.9 218.0h0M728.7 241.3h0M734.6 242.3h0M749.0 215.3h0M737.0 232.4h0M734.1 211.4h0M740.3 209.6h0M729.7 235.0h0M725.5 221.4h0M745.0 241.2h0M730.2 223.2h0M751.1 236.3h0M749.4 218.2h0M738.2 221.3h0M744.1 212.1h0M745.1 231.1h0M757.4 221.9h0M749.3 222.1h0M725.6 225.4h0M718.9 220.4h0M746.1 235.4h0M748.1 221.8h0M724.1 227.3h0M743.9 234.9h0M745.6 217.0h0M736.8 209.7h0M733.0 212.5h0M738.8 227.2h0M737.6 240.4h0M728.0 239.6h0M727.5 211.5h0M741.8 235.2h0M727.7 212.5h0M757.1 229.6h0M739.1 238.5h0M739.3 212.3h0M735.0 213.4h0M730.8 218.8h0M740.7 214.4h0M750.0 240.6h0M736.6 221.8h0M745.6 225.1h0M748.2 236.0h0M727.8 224.2h0M737.6 225.8h0M730.0 212.2h0M746.2 237.2h0M736.8 225.3h0M740.6 210.7h0M753.3 222.2h0M743.0 234.8h0M751.4 236.1h0M732.7 234.3h0M738.3 242.4h0M720.8 216.4h0M735.7 211.2h0"/><path stroke="#17becf" d="M846.0 163.9h0M843.1 160.1h0M829.2 146.6h0M842.0 159.9h0M846.6 169.6h0M825.3 143.6h0M827.8 148.6h0M823.1 143.3h0M823.6 141.0h0M840.9 158.9h0M827.4 146.9h0M833.1 152.3h0M835.0 151.6h0M819.0 137.6h0M848.3 165.7h0M837.6 155.5h0M813.5 135.0h0M835.7 153.3h0M819.8 137.3h0M825.9 143.8h0M830.2 147.7h0M817.0 138.0h0M834.5 152.5h0M827.1 145.9h0M810.2 132.3h0M845.9 165.2h0M828.1 146.6h0M840.5 156.8h0M815.6 135.0h0M823.7 142.4h0M819.9 137.9h0M834.2 152.7h0M840.0 155.9h0M807.6 130.3h0M823.7 140.6h0M846.8 164.6h0M834.6 155.3h0M817.0 136.6h0M839.7 156.8h0M820.7 140.4h0M813.8 135.5h0M820.0 137.7h0M831.5 148.3h0M846.9 166.2h0M817.4 133.8h0M813.7 133.3h0M830.0 151.3h0M834.9 151.3h0M828.0 145.5h0M813.6 133.8h0M821.8 139.7h0M843.7 160.6h0M847.2 165.9h0M845.4 162.5h0M846.6 165.8h0M815.5 134.0h0M823.0 141.0h0M809.4 133.4h0M816.0 133.4h0M818.5 136.2h0M828.3 148.2h0M839.0 158.7h0M809.6 132.3h0M817.6 137.3h0M831.5 151.3h0M812.1 131.7h0M847.0 161.6h0M833.1 152.5h0M846.4 162.6h0M811.7 132.7h0M811.7 134.2h0M842.8 160.7h0M827.3 144.7h0M806.5 130.7h0M817.6 135.7h0M836.7 155.3h0M843.6 162.4h0M816.5 134.7h0M829.1 148.7h0M840.3 156.3h0M847.2 163.8h0M807.8 131.7h0M843.6 161.1h0M808.1 131.3h0M835.0 155.2h0M830.6 148.9h0M823.7 140.5h0M835.1 151.9h0M841.3 157.9h0M849.3 168.2h0M812.5 134.5h0M846.0 163.2h0M833.4 152.4h0M820.3 141.0h0M846.4 164.9h0M828.0 147.7h0M836.5 154.6h0M831.0 151.2h0M831.4 149.5h0M807.1 130.2h0M849.5 165.0h0M839.3 156.5h0M816.9 134.1h0M836.0 154.8h0M836.8 155.5h0M815.9 137.6h0M830.0 147.1h0M850.7 170.4h0M841.8 159.6h0M847.4 165.5h0M828.5 147.9h0M836.9 154.0h0M819.3 139.3h0M811.3 130.9h0M847.4 165.3h0M838.9 154.6h0M825.7 147.6h0M820.9 140.2h0M816.6 134.9h0M847.5 164.4h0"/><path stroke="#17becf" d="M848.2 169.4h0M851.8 167.4h0M850.5 163.5h0M846.1 171.2h0M851.5 163.9h0M852.1 163.5h0M847.7 168.3h0M851.2 167.3h0M844.1 166.5h0M854.3 168.8h0M847.8 172.0h0M848.2 165.3h0M842.5 165.2h0M846.7 170.6h0M854.4 165.7h0M851.2 169.0h0M847.8 170.4h0M848.5 164.2h0M850.5 167.1h0M845.5 168.9h0M850.7 172.0h0M850.9 167.4h0M846.0 162.2h0M843.4 171.5h0M852.0 165.0h0M848.6 170.1h0M847.5 168.4h0M853.8 173.4h0M849.6 168.9h0M848.1 166.1h0M852.9 173.2h0M842.8 165.4h0M850.0 167.4h0M846.4 169.5h0M847.0 166.6h0M847.6 168.0h0M846.0 167.1h0M849.1 164.5h0M847.7 170.4h0M844.9 163.2h0M848.0 167.7h0M848.0 171.3h0M845.4 171.0h0M849.9 166.3h0M851.2 169.7h0M850.5 169.3h0M848.5 169.9h0M845.9 163.9h0M847.7 167.0h0M844.7 169.6h0"/><path stroke="#17becf" d="M803.2 160.5h0M807.4 183.7h0M851.1 166.5h0M798.0 169.5h0M851.7 160.6h0M806.7 137.1h0M804.4 148.0h0M835.5 169.4h0M845.8 159.1h0M850.5 161.0h0M834.4 157.1h0M803.0 142.8h0M800.2 164.1h0M838.7 152.4h0M794.6 169.1h0M795.3 165.1h0M801.2 158.1h0M806.5 181.4h0M858.0 173.8h0M837.3 164.4h0M810.6 176.2h0M830.5 154.2h0M798.0 154.3h0M856.1 176.8h0M832.5 164.0h0M858.4 163.1h0M803.6 145.2h0M824.1 185.6h0M847.2 185.5h0M839.8 170.3h0M801.2 144.1h0M858.8 176.2h0M793.0 151.7h0M803.4 163.5h0M826.5 153.3h0M828.2 170.3h0M805.9 161.0h0M792.8 161.1h0M800.0 164.7h0M813.0 141.3h0M820.1 178.3h0M851.6 163.9h0M810.3 139.2h0M820.2 185.4h0M797.0 152.9h0M806.4 140.7h0M843.4 173.8h0M829.2 165.4h0M806.3 149.0h0M793.1 165.6h0M819.3 145.6h0M815.5 182.8h0M858.9 164.6h0M851.7 183.0h0M818.2 142.5h0M847.2 160.2h0M833.5 170.1h0M809.8 153.2h0M811.7 143.6h0M818.2 170.0h0M812.4 175.1h0M831.7 181.7h0M836.2 184.1h0M792.9 150.6h0M806.8 159.1h0M857.0 171.1h0M819.7 152.6h0M820.6 166.1h0M806.7 154.9h0M793.3 148.4h0M805.7 140.9h0M799.5 183.9h0M822.3 168.4h0M857.5 166.2h0M824.8 177.0h0M795.4 145.6h0M799.2 180.9h0M807.6 139.7h0M832.8 183.0h0M801.9 177.2h0M823.8 146.7h0M827.7 168.2h0M854.0 180.0h0M800.7 155.5h0M842.4 169.8h0M850.2 169.9h0M821.7 175.9h0M843.9 168.2h0M829.0 151.9h0M845.5 174.4h0M804.7 164.0h0M830.9 188.2h0M842.5 178.3h0M826.4 156.4h0M819.8 182.3h0M803.0 180.5h0M840.2 169.8h0M798.1 184.7h0M793.0 162.1h0M826.9 179.4h0M818.3 151.1h0M802.5 162.7h0M796.4 161.4h0M842.8 185.2h0M860.5 165.1h0M858.4 175.2h0M799.3 160.4h0M833.5 181.6h0M804.7 174.7h0M795.0 153.8h0M814.8 152.9h0M858.6 178.7h0M801.4 140.3h0M801.7 154.8h0M852.8 171.7h0"/><path stroke="#17becf" d="M814.1 128.4h0M824.0 133.5h0M808.7 135.1h0M814.8 134.7h0M825.5 133.9h0M837.6 143.1h0M825.7 131.8h0M798.5 129.5h0M807.9 120.6h0M800.9 124.6h0M810.7 121.0h0M811.1 125.9h0M820.0 127.5h0M800.5 135.6h0M794.8 140.2h0M798.7 126.4h0M833.6 137.5h0M807.6 121.3h0M837.5 138.9h0M828.9 136.3h0"/><path stroke="#1f77b4" d="M843.9 127.4h0M845.5 126.6h0M846.5 131.8h0M842.3 127.3h0M846.3 128.0h0M845.1 128.3h0M850.6 129.0h0M850.6 119.9h0M851.5 124.6h0M844.8 128.2h0M850.9 125.8h0M849.4 132.5h0M849.9 118.1h0M844.3 129.0h0M849.5 127.6h0M850.2 125.2h0M846.7 129.3h0M842.2 126.1h0M844.3 124.5h0M844.3 131.3h0M845.7 125.4h0M844.4 125.3h0M848.9 127.3h0M846.4 129.9h0M841.8 127.9h0M844.6 124.4h0M845.6 127.6h0M845.2 124.3h0M845.2 125.0h0M842.6 130.5h0M850.0 129.2h0M845.6 132.5h0M847.2 123.3h0M852.1 129.6h0M849.3 132.3h0M840.4 132.5h0M845.4 125.2h0M841.5 124.3h0M849.4 129.7h0M854.2 122.4h0M846.3 124.6h0M849.0 128.5h0M845.3 127.8h0M845.8 128.4h0M842.0 125.5h0M841.3 130.1h0M854.6 125.0h0M842.2 129.7h0M841.6 125.7h0M846.4 129.9h0M846.7 128.4h0M846.0 136.9h0M856.1 121.4h0M849.2 124.1h0M843.9 125.0h0M846.1 118.7h0M845.2 124.0h0M850.0 130.9h0M847.0 126.1h0M847.8 121.5h0"/><path stroke="#1f77b4" d="M827.5 80.9h0M838.6 107.3h0M804.9 78.0h0M791.7 44.8h0M855.3 122.6h0M775.3 46.4h0M796.7 54.1h0M821.0 97.9h0M823.9 83.1h0M838.4 117.8h0M806.0 62.2h0M828.8 88.2h0M838.0 92.3h0M773.8 56.4h0M823.2 83.1h0M832.3 106.1h0M846.8 110.3h0M856.6 132.4h0M778.7 50.0h0M836.4 100.8h0M772.6 55.0h0M800.9 67.1h0M822.6 80.2h0M835.1 101.4h0M838.3 113.5h0M830.8 83.1h0M844.6 114.1h0M803.0 60.4h0M776.0 51.5h0M755.5 38.7h0M788.4 52.6h0M818.1 93.9h0M852.7 114.2h0M823.9 78.6h0M781.5 41.3h0M809.9 73.6h0M751.7 50.3h0M806.4 63.8h0M847.1 120.9h0M851.9 127.1h0M826.4 70.7h0M820.5 66.5h0M831.4 103.3h0M827.0 87.9h0M761.9 55.8h0M830.5 102.2h0M827.3 80.7h0M796.2 49.7h0M758.2 50.4h0M834.7 102.5h0M829.9 86.9h0M814.4 67.6h0M816.2 62.3h0M821.2 89.3h0M815.0 54.1h0M803.7 66.1h0M816.3 88.1h0M840.0 97.7h0M778.2 47.4h0M810.4 68.0h0M759.5 46.6h0M808.7 66.4h0M857.0 140.9h0M826.1 82.5h0M844.6 120.0h0M824.2 97.2h0M804.7 68.3h0M799.8 63.3h0M759.4 40.5h0M864.6 143.1h0M845.4 107.6h0M754.8 55.5h0M846.0 117.4h0M804.6 69.1h0M836.1 105.5h0M835.3 101.2h0M850.5 133.6h0M783.6 55.5h0M843.6 109.5h0M766.5 44.8h0M794.3 52.9h0M835.5 102.2h0M769.8 52.8h0M842.9 121.2h0M829.0 86.7h0M765.4 57.4h0M794.3 54.4h0M822.9 69.7h0M835.5 93.0h0M789.3 56.5h0M755.1 49.1h0M782.7 40.6h0M801.0 64.2h0M779.4 49.7h0M827.7 100.7h0"/><path stroke="#e377c2" d="M757.6 45.8h0M716.9 96.5h0M719.5 82.1h0M781.6 80.7h0M747.3 76.1h0M749.5 85.3h0M777.3 56.9h0M728.3 70.9h0M750.3 85.6h0M744.2 57.4h0M719.5 71.0h0M703.8 112.4h0M791.4 109.5h0M742.8 73.2h0M716.0 85.0h0M757.5 91.3h0M707.1 112.0h0M750.4 110.8h0M772.0 121.1h0M763.1 105.6h0M741.3 71.5h0M715.6 124.1h0M751.9 89.0h0M709.4 89.0h0M781.1 99.9h0M728.8 71.7h0M780.5 99.4h0M753.7 49.7h0M742.4 90.5h0M745.1 85.2h0M719.1 83.2h0M736.1 107.5h0M744.9 71.6h0M721.3 75.5h0M791.6 118.6h0M726.8 54.1h0M714.1 68.8h0M789.3 103.0h0M728.9 106.6h0M712.3 62.8h0M787.3 76.2h0M727.7 54.5h0M758.5 98.3h0M747.8 68.0h0M752.3 52.7h0M724.9 52.7h0M736.4 78.3h0M732.0 73.0h0M722.6 109.4h0M764.6 116.6h0M762.6 60.9h0M700.3 105.5h0M768.1 84.0h0M730.4 111.2h0M720.6 62.7h0M755.1 87.0h0M762.5 104.6h0M777.5 50.9h0M721.6 60.3h0M786.5 93.5h0M715.4 122.9h0M760.0 82.1h0M709.0 116.0h0M712.2 79.1h0M748.7 55.2h0M777.8 71.2h0M752.1 55.8h0M738.4 98.3h0M786.3 97.7h0M786.6 116.7h0M751.3 93.2h0M768.4 88.9h0M760.7 65.8h0M781.0 83.8h0M723.6 113.5h0M752.9 111.1h0M777.9 107.8h0M773.3 104.8h0M751.3 106.5h0M731.1 67.6h0M730.2 97.1h0M760.4 118.6h0M722.3 90.0h0M790.7 75.8h0M729.9 102.6h0M778.0 64.8h0M745.8 53.9h0M755.1 60.6h0M771.2 103.8h0M731.2 107.6h0M759.6 44.3h0M748.0 53.4h0M726.2 50.2h0M772.5 67.8h0M746.7 110.4h0M789.9 69.0h0M768.4 121.3h0M795.6 91.5h0M725.6 113.7h0M754.8 108.3h0M736.5 116.4h0M744.3 50.6h0M769.9 113.7h0M716.9 87.5h0M762.2 118.7h0M754.5 109.2h0M771.5 94.9h0M751.3 109.7h0M742.0 109.2h0M775.6 102.6h0"/><path stroke="#e377c2" d="M788.1 228.4h0M753.3 207.9h0M774.7 257.2h0M802.3 251.4h0M714.8 228.3h0M726.6 224.4h0M736.2 223.2h0M708.2 200.5h0M705.1 199.9h0M734.7 247.7h0M723.4 234.5h0M765.6 232.0h0M744.7 219.9h0M792.6 235.1h0M736.9 195.0h0M742.7 204.0h0M789.2 246.3h0M744.1 203.3h0M784.1 237.2h0M717.7 221.3h0M801.3 244.5h0M729.0 242.5h0M758.1 261.9h0M731.2 244.7h0M748.5 248.6h0M784.6 242.9h0M775.9 233.5h0M790.5 220.6h0M784.9 214.1h0M703.4 216.2h0M712.9 205.2h0M776.7 251.7h0M728.3 206.6h0M755.1 210.1h0M696.5 199.8h0M749.2 246.8h0M734.0 197.0h0M719.3 203.7h0M785.6 211.2h0M761.8 246.1h0M723.8 202.2h0M715.6 240.6h0M740.5 253.3h0M778.8 212.6h0M780.5 210.6h0M728.7 202.7h0M723.6 238.4h0M784.2 202.6h0M785.5 230.8h0M727.1 213.6h0M711.4 230.2h0M734.9 216.2h0M756.4 248.5h0M791.0 250.2h0M754.0 249.4h0M743.1 242.2h0M767.7 249.9h0M777.6 231.6h0M794.5 233.3h0M757.4 243.6h0M765.6 251.1h0M748.5 215.7h0M764.6 252.2h0M723.3 242.9h0M743.3 222.2h0M725.7 223.6h0M765.0 257.1h0M770.5 228.0h0M758.1 213.2h0M743.2 205.1h0M733.4 218.8h0M779.0 253.9h0M761.1 239.5h0M750.7 199.2h0M748.6 198.8h0M776.3 258.0h0M796.3 247.4h0M733.5 240.3h0M790.5 239.7h0M766.4 233.6h0M782.9 249.9h0M714.9 244.2h0M736.9 245.5h0M796.8 246.4h0M783.3 238.9h0M711.9 199.3h0M718.8 217.7h0M746.5 232.1h0M801.2 249.4h0M768.4 208.2h0"/><path stroke="#e377c2" d="M847.3 183.1h0M840.7 189.6h0M840.9 192.4h0M819.9 198.9h0M823.7 198.4h0M802.9 204.9h0M825.4 197.5h0M831.7 193.5h0M840.1 202.0h0M828.1 197.4h0M824.3 204.8h0M796.1 190.6h0M833.7 194.0h0M808.3 209.2h0M798.2 195.2h0M815.5 196.1h0M848.2 195.7h0M854.2 195.3h0M826.3 208.9h0M797.3 189.7h0M819.6 200.8h0M837.1 189.6h0M829.5 205.6h0M857.0 196.3h0M797.2 189.6h0M836.2 199.5h0M839.5 189.5h0M832.7 207.8h0M855.0 197.4h0M840.7 205.4h0M834.8 197.1h0M798.0 197.5h0M842.7 187.9h0M819.7 200.7h0M831.7 208.1h0M837.9 199.9h0M836.6 195.9h0M847.9 191.5h0M839.9 185.5h0M860.0 184.4h0"/><path stroke="#e377c2" d="M732.4 195.2h0M740.5 188.8h0M697.5 121.0h0M718.5 154.3h0M669.5 130.7h0M708.6 183.5h0M702.6 208.4h0M668.8 153.1h0M680.7 174.6h0M669.8 140.1h0M659.8 165.4h0M664.2 162.6h0M656.9 120.2h0M704.8 194.7h0M673.1 127.5h0M696.5 200.7h0M693.2 119.1h0M718.4 165.6h0M668.3 154.9h0M724.1 153.0h0M734.7 136.5h0M673.4 115.2h0M665.5 116.3h0M693.2 170.2h0M737.3 187.0h0M676.2 149.7h0M695.2 126.1h0M682.4 111.6h0M656.6 116.7h0M690.5 209.9h0M688.0 183.6h0M729.9 142.2h0M716.3 189.2h0M668.4 138.5h0M710.8 123.4h0M717.1 139.1h0M699.2 155.5h0M681.1 137.9h0M716.8 180.6h0M664.4 162.6h0M673.7 166.3h0M723.0 134.7h0M720.3 142.3h0M704.1 152.4h0M686.5 168.0h0M687.1 182.8h0M681.1 115.3h0M692.1 146.9h0M699.9 120.4h0M668.3 184.1h0"/><path stroke="#1f77b4" d="M767.4 191.1h0M774.5 243.7h0M813.9 236.3h0M790.4 212.2h0M759.4 187.1h0M825.7 219.0h0M849.8 200.9h0M765.9 206.7h0M766.8 189.6h0M813.0 207.8h0M779.7 235.3h0M782.0 204.7h0M826.4 209.5h0M819.0 237.6h0M794.8 226.4h0M817.1 222.0h0M812.4 219.0h0M829.3 227.9h0M840.3 206.7h0M807.7 215.2h0M788.0 205.0h0M794.4 243.6h0M779.7 223.2h0M804.9 216.4h0M789.8 242.7h0M833.7 201.8h0M767.1 237.2h0M794.2 224.4h0M803.8 235.2h0M818.4 209.9h0M843.4 195.3h0M827.5 220.9h0M829.4 225.3h0M784.7 200.6h0M763.3 206.1h0M785.0 235.6h0M774.8 215.6h0M769.3 193.4h0M830.9 210.8h0M798.8 238.4h0M762.0 202.2h0M790.8 231.8h0M818.9 201.3h0M782.8 248.3h0M830.6 212.7h0M830.1 228.2h0M829.9 207.2h0M764.7 197.0h0M786.5 219.7h0M805.5 228.7h0M819.1 197.5h0M799.0 200.7h0M775.8 211.1h0M799.0 249.5h0M789.8 214.2h0M764.2 243.7h0M838.8 219.4h0M764.7 184.6h0M799.9 213.9h0M821.0 198.3h0M825.3 221.7h0M806.6 242.4h0M791.8 226.9h0M769.7 226.2h0M780.7 237.9h0M811.8 213.1h0M807.5 208.5h0M806.8 221.5h0M759.4 224.3h0M778.7 221.9h0"/><path stroke="#1f77b4" d="M727.8 183.6h0M720.5 167.8h0M702.7 132.6h0M727.1 163.4h0M719.8 142.4h0M718.0 162.3h0M727.9 183.7h0M704.8 157.1h0M720.4 125.8h0M720.3 154.6h0M722.2 163.2h0M719.7 136.2h0M739.7 135.6h0M727.6 125.5h0M723.8 190.6h0M728.9 151.6h0M738.2 175.9h0M736.3 126.0h0M733.6 188.2h0M721.3 187.6h0M732.7 129.0h0M727.4 175.8h0M735.0 158.2h0M739.6 127.0h0M710.0 187.3h0M715.6 155.5h0M700.5 145.4h0M709.8 152.7h0M727.0 166.2h0M704.8 159.0h0"/><path stroke="#1f77b4" d="M738.0 248.0h0M720.5 188.0h0M753.9 236.7h0M758.8 245.0h0M713.9 189.8h0M737.9 246.2h0M702.0 211.2h0M743.3 234.0h0M727.6 198.7h0M731.7 242.3h0M758.4 249.4h0M720.2 219.4h0M720.7 231.2h0M718.4 230.2h0M740.6 250.2h0M730.1 202.8h0M725.1 200.0h0M749.0 250.3h0M745.0 224.3h0M736.1 229.1h0M729.5 247.9h0M732.5 218.4h0"/><path stroke="#17becf" d="M850.5 207.9h0M716.9 206.0h0M702.6 169.3h0M692.2 168.2h0M776.3 153.1h0M787.6 108.4h0M851.9 224.6h0M769.4 163.2h0M810.6 142.7h0M682.9 91.1h0M858.4 200.1h0M688.6 173.5h0M842.4 162.5h0M759.4 184.5h0M808.1 100.9h0M703.0 206.5h0M751.6 150.4h0M717.0 104.8h0M678.6 161.8h0M809.5 163.0h0M829.7 172.4h0M834.2 138.7h0M844.4 155.8h0M682.7 221.4h0M774.0 212.8h0M784.7 121.3h0M806.3 122.1h0M848.0 211.6h0M839.7 120.4h0M737.9 226.1h0M804.8 159.0h0M757.5 139.3h0M785.4 91.2h0M779.1 210.0h0M753.2 107.3h0"/><path stroke="#d62728" d="M850.7 116.4h0M831.7 137.6h0M723.0 156.4h0M700.8 199.5h0M790.5 151.4h0M715.5 224.1h0M761.2 217.3h0M757.8 217.2h0M796.6 207.7h0M698.0 215.4h0M712.3 113.5h0M691.3 220.4h0M802.8 218.1h0M691.5 162.4h0M762.2 206.5h0M822.4 149.1h0M849.7 90.7h0M751.9 207.2h0M759.0 209.0h0M699.6 125.2h0M848.0 163.9h0M802.6 214.6h0M730.1 201.3h0M809.2 145.4h0M835.9 109.5h0M852.2 118.4h0M768.4 137.5h0M753.2 159.8h0M722.4 106.7h0M837.8 221.5h0"/><path stroke="#d62728" d="M272.5 390.3h0M270.2 393.9h0M270.8 389.8h0M272.0 389.1h0M267.4 391.7h0M268.4 389.3h0M267.9 383.1h0M271.0 386.7h0M271.0 384.5h0M269.2 385.1h0M268.2 390.9h0M267.5 387.6h0M271.9 394.5h0M269.7 390.9h0M268.5 388.3h0M269.5 386.7h0M270.3 391.2h0M267.9 389.5h0M271.0 390.6h0M270.3 389.9h0M267.2 390.5h0M270.3 389.6h0M271.3 390.4h0M271.0 392.9h0M267.8 387.5h0M267.2 387.8h0M268.5 388.7h0M266.1 388.2h0M270.3 387.9h0M268.8 389.9h0M268.7 386.8h0M270.5 389.0h0M267.1 390.5h0M271.4 390.3h0M266.9 383.6h0M268.3 387.8h0M271.1 388.6h0M270.7 390.2h0M268.2 389.2h0M270.3 390.5h0M273.9 388.5h0M266.8 388.5h0M268.9 385.3h0M266.7 390.8h0M274.2 389.8h0"/><path stroke="#d62728" d="M283.6 391.7h0M288.4 392.0h0M266.2 391.7h0M257.6 404.2h0M262.0 389.6h0M279.4 392.1h0M275.2 388.1h0M258.0 389.1h0M266.3 389.8h0M263.4 387.7h0M259.8 393.4h0M259.8 387.7h0M284.8 406.7h0M275.4 399.7h0M265.7 395.8h0M275.6 382.5h0M278.7 381.4h0M283.5 394.4h0M273.1 398.3h0M276.0 401.5h0M256.6 390.3h0M281.6 403.2h0M269.5 414.3h0M256.6 397.7h0M276.9 380.4h0M269.3 391.4h0M266.5 408.4h0M267.2 399.2h0M276.7 394.5h0M254.0 408.7h0M275.8 397.1h0M276.8 386.0h0M270.7 394.4h0M280.7 376.4h0M280.3 382.8h0M261.9 400.0h0M261.8 393.6h0M268.3 396.9h0M271.9 405.0h0M272.7 389.4h0M257.0 384.0h0M280.2 398.9h0M264.3 404.8h0M259.0 377.6h0M287.7 384.9h0M268.8 394.6h0M277.9 401.8h0M282.7 409.1h0M260.6 396.5h0M254.4 392.8h0M271.1 380.6h0M242.8 384.8h0M259.3 381.7h0M283.2 376.2h0M248.9 397.9h0M255.4 387.0h0M268.0 402.9h0M259.3 405.8h0M248.3 406.7h0M264.7 409.4h0M253.4 401.7h0M279.7 405.6h0M275.1 393.7h0M249.6 390.4h0M252.6 393.4h0M261.8 385.0h0M260.1 389.7h0M271.7 396.0h0M274.9 390.6h0M253.2 403.8h0M278.7 376.8h0M261.0 398.1h0M268.5 385.1h0M279.0 411.8h0M261.5 386.7h0M252.0 405.5h0M265.2 377.8h0M282.4 396.2h0M250.1 392.9h0M267.5 387.6h0M262.9 397.4h0M271.9 402.7h0M269.4 399.2h0M266.5 383.5h0M259.9 376.1h0M276.7 373.4h0M252.4 383.1h0M287.8 388.0h0M268.3 405.5h0M271.4 385.3h0M254.7 397.9h0M272.3 392.9h0M273.6 383.3h0M261.4 383.0h0M256.0 399.5h0M269.2 375.8h0M272.8 375.4h0M285.4 392.3h0M278.3 399.6h0M252.7 398.4h0"/><path stroke="#e377c2" d="M254.3 396.1h0M268.0 380.8h0M264.3 385.0h0M244.2 378.7h0M276.3 408.2h0M264.3 392.3h0M266.9 394.4h0M273.3 381.1h0M271.4 377.7h0M265.3 380.1h0"/><path stroke="#17becf" d="M273.1 391.4h0M258.5 401.5h0M276.9 391.8h0M270.2 388.7h0M268.3 373.5h0M257.1 395.4h0M282.9 387.8h0M262.0 401.8h0M252.6 410.6h0M257.7 411.2h0"/><path stroke="#d62728" d="M245.0 425.7h0M245.3 419.6h0M245.7 411.4h0M254.0 403.5h0M268.4 393.3h0M248.9 417.8h0M268.6 403.5h0M263.3 402.2h0M267.7 392.8h0M242.9 421.6h0M273.3 398.1h0M249.4 407.0h0M262.1 408.8h0M263.8 417.3h0M255.8 396.3h0M260.0 397.8h0M268.0 408.1h0M253.0 410.5h0M248.9 413.1h0M264.6 402.7h0M236.1 426.0h0M278.8 385.4h0M248.9 415.7h0M245.3 417.4h0M266.8 393.3h0M258.1 401.8h0M240.8 424.2h0M259.5 397.9h0M259.5 402.7h0M236.5 422.8h0"/><path stroke="#d62728" d="M112.1 495.0h0M116.6 494.3h0M108.4 491.7h0M109.3 492.8h0M106.4 490.3h0M113.2 494.2h0M109.9 493.4h0M106.8 499.4h0M111.1 500.1h0M115.8 497.6h0M110.1 498.2h0M107.8 492.4h0M115.8 495.1h0M107.0 490.8h0M110.5 494.0h0M108.3 491.3h0M108.4 490.3h0M107.6 496.7h0M109.3 495.6h0M113.2 489.4h0M111.3 500.7h0M106.1 495.7h0M115.2 495.2h0M107.7 494.3h0M111.1 490.1h0M114.4 495.6h0M111.1 494.0h0M109.4 496.6h0M112.2 493.4h0M109.5 497.4h0M110.6 498.4h0M108.5 496.0h0M109.4 496.4h0M112.7 491.0h0M111.2 494.1h0M110.8 495.7h0M111.7 493.1h0M108.0 493.1h0M111.5 496.7h0M109.2 495.7h0M110.0 492.3h0M106.6 496.8h0M115.2 496.3h0M106.4 497.9h0M110.9 491.1h0"/><path stroke="#d62728" d="M95.5 475.8h0M100.1 499.4h0M113.1 493.4h0M104.0 497.4h0M115.0 494.0h0M103.5 494.8h0M109.5 496.5h0M115.8 503.0h0M122.0 487.8h0M98.1 477.9h0M119.3 499.1h0M108.8 503.6h0M102.5 506.0h0M115.3 487.8h0M115.9 501.0h0M111.3 484.2h0M92.9 491.8h0M124.3 495.2h0M108.1 501.5h0M101.2 483.8h0M99.7 493.5h0M95.4 488.5h0M119.1 494.8h0M118.4 488.7h0M108.4 489.4h0M102.6 498.4h0M118.7 507.9h0M108.5 498.3h0M102.1 487.4h0M99.9 485.4h0M110.8 474.8h0M124.0 493.0h0M111.0 503.6h0M118.2 476.3h0M116.8 509.0h0M102.6 490.1h0M106.7 489.9h0M113.6 490.6h0M105.2 490.8h0M113.4 495.6h0M106.8 482.7h0M98.6 483.4h0M114.0 503.9h0M108.4 485.1h0M104.3 479.2h0M107.5 499.8h0M119.9 496.3h0M114.1 497.4h0M111.8 490.5h0M97.0 485.4h0M96.0 492.8h0M101.0 491.0h0M119.8 481.0h0M119.6 477.6h0M110.9 482.1h0M112.0 512.2h0M112.6 478.7h0M100.6 505.1h0M113.3 480.4h0M114.2 499.5h0M92.2 484.7h0M94.4 496.4h0M113.3 488.8h0M104.5 500.0h0M118.1 497.3h0M106.8 497.4h0M116.1 489.3h0M109.7 501.7h0M123.0 489.7h0M110.0 488.6h0M120.0 487.9h0M109.0 492.1h0M106.2 484.5h0M102.5 503.8h0M99.9 495.6h0M97.2 498.1h0"/><path stroke="#e377c2" d="M111.3 493.6h0M109.8 499.7h0M112.5 500.6h0M119.9 484.8h0M97.9 493.8h0M108.7 481.3h0M104.8 487.7h0M99.1 488.7h0M116.9 479.6h0M104.0 484.6h0M115.2 482.6h0M106.8 503.3h0M103.5 492.2h0M115.8 498.3h0M112.4 509.5h0M91.4 497.5h0M117.1 484.7h0"/><path stroke="#17becf" d="M101.4 477.5h0M108.5 494.4h0M112.2 487.4h0M124.2 497.3h0M128.2 498.1h0M114.3 485.4h0M117.5 493.5h0"/><path stroke="#e377c2" d="M107.7 492.1h0M107.2 481.7h0M105.4 489.8h0M107.0 482.6h0M106.3 483.6h0M103.7 486.0h0M104.5 480.6h0M103.7 483.1h0M106.4 483.9h0M104.3 496.2h0M104.5 487.4h0M103.0 483.9h0M103.8 493.9h0M105.7 480.1h0M105.0 484.7h0M103.6 486.8h0M107.7 488.1h0M108.1 488.4h0M103.2 483.3h0M106.8 479.0h0M107.4 484.9h0M102.5 483.1h0M107.3 484.5h0M100.7 486.4h0M102.8 479.6h0"/><path stroke="#17becf" d="M265.7 414.0h0M235.6 395.0h0M186.8 383.3h0M217.7 386.7h0M253.8 416.5h0M224.5 423.6h0M219.2 398.0h0M252.3 367.2h0M240.5 419.6h0M240.4 366.3h0M242.0 388.1h0M272.4 422.5h0M236.3 398.1h0M232.5 382.4h0M219.0 418.6h0M246.3 413.5h0M198.0 416.3h0M225.0 410.9h0M220.4 455.4h0M213.6 420.6h0M227.4 395.5h0M226.0 380.9h0M232.2 426.4h0M223.5 403.8h0M258.9 427.0h0M231.9 414.0h0M265.6 366.7h0M266.8 416.5h0M218.6 372.0h0M250.9 414.9h0M244.8 433.4h0M218.6 438.8h0M271.9 412.2h0M209.6 383.8h0M178.6 399.6h0M249.1 442.8h0M245.2 365.7h0M234.0 392.0h0M268.9 423.0h0M230.2 373.3h0M247.8 401.4h0M221.4 426.1h0M238.6 383.9h0M223.3 433.5h0M240.9 427.0h0M236.7 419.1h0M244.1 438.8h0M239.6 436.0h0M235.6 411.5h0M241.3 375.5h0M208.5 411.9h0M284.0 412.9h0M204.7 416.4h0M268.2 419.7h0M258.1 440.1h0M218.8 381.9h0M222.6 419.4h0M222.0 407.4h0M242.6 422.1h0M220.7 374.6h0M247.5 384.9h0M271.9 367.2h0M274.3 425.4h0M249.6 420.4h0M233.7 443.7h0M217.4 435.5h0M236.4 444.7h0M286.9 409.9h0M169.7 398.7h0M235.1 374.7h0M279.8 414.5h0M214.3 380.0h0M197.5 396.5h0M194.5 391.1h0M227.5 385.2h0M221.9 430.2h0M246.9 379.2h0M194.7 423.5h0M218.5 412.7h0M254.3 423.0h0M239.5 372.8h0M271.4 416.8h0M233.2 404.5h0M207.5 380.0h0M202.3 417.8h0M198.6 406.4h0M213.2 399.5h0M214.6 412.7h0M226.9 422.4h0M232.3 430.5h0M228.8 433.3h0M236.6 401.3h0M257.3 358.5h0M232.7 449.4h0M274.8 416.9h0M255.3 371.4h0M242.3 434.9h0M282.1 384.9h0M219.1 424.3h0M262.0 359.7h0M213.4 375.6h0M265.9 433.6h0M190.6 418.2h0M225.2 464.2h0M267.2 436.8h0M214.6 404.8h0M254.0 356.5h0M235.8 370.4h0M225.7 430.8h0M272.2 372.4h0M213.9 434.0h0M200.9 358.7h0M219.9 389.3h0M276.6 429.0h0M239.0 415.2h0M241.9 363.7h0M209.9 393.3h0M218.4 351.9h0M214.1 383.6h0M207.4 406.7h0M238.5 375.6h0M215.1 431.1h0M206.0 402.4h0M226.9 445.8h0M205.1 395.6h0M264.0 364.3h0M183.8 403.4h0"/><path stroke="#e377c2" d="M228.2 392.0h0M262.9 415.0h0M225.1 407.6h0M227.4 401.5h0M245.3 420.8h0M261.9 410.6h0M237.9 405.9h0M215.7 392.1h0M250.4 373.2h0M262.7 432.0h0M235.2 424.2h0M195.2 400.7h0M226.8 367.5h0M219.9 402.9h0M240.5 412.3h0M231.6 408.2h0M187.7 419.7h0M206.0 376.5h0M232.2 376.7h0M234.4 366.7h0M277.3 418.8h0M249.1 423.2h0M240.9 381.6h0M235.1 408.2h0M271.9 429.0h0M239.3 403.2h0M199.8 363.9h0M268.0 428.9h0M235.3 379.1h0M198.8 388.9h0M246.8 395.9h0M190.6 370.0h0M280.1 387.7h0M223.7 413.5h0M208.0 374.4h0M270.2 431.4h0M239.2 396.6h0M271.2 408.4h0M246.3 424.5h0M253.8 419.3h0M242.4 414.7h0M247.2 428.6h0M215.9 416.0h0M240.5 432.5h0M226.2 404.2h0M218.8 395.2h0M229.6 447.3h0M269.1 410.5h0M209.4 437.2h0M236.0 386.1h0M184.1 384.5h0M192.8 420.7h0M218.4 428.1h0M190.6 412.6h0M249.9 433.5h0M210.6 386.9h0M238.0 431.4h0M283.4 421.0h0M225.6 370.3h0M225.4 397.5h0M228.8 466.0h0M255.2 412.4h0M210.7 398.1h0M216.9 442.5h0M220.5 435.8h0M232.8 460.2h0M206.5 432.3h0M247.9 366.8h0M231.0 370.4h0M232.9 446.4h0M239.1 422.5h0M240.9 378.6h0M238.0 379.9h0M221.2 392.6h0M207.6 420.4h0M251.4 444.7h0M243.9 447.7h0M224.1 438.9h0M205.0 392.4h0M238.3 455.9h0M212.7 448.0h0M204.2 373.9h0M261.6 429.2h0M202.3 390.6h0M190.7 390.9h0M197.7 377.8h0M197.4 393.2h0M235.1 430.9h0M246.5 393.0h0M211.3 433.1h0M212.5 439.0h0M206.3 384.2h0M255.9 435.9h0M201.8 387.2h0M161.6 400.4h0M175.7 409.4h0M209.8 368.7h0M217.4 448.0h0M248.9 448.2h0M245.1 386.6h0M206.9 414.7h0M202.5 362.1h0M239.5 464.0h0M286.7 380.9h0M183.7 415.5h0M222.7 369.7h0M230.9 438.0h0M234.6 465.4h0M262.5 370.0h0M197.3 360.2h0M266.9 425.6h0M241.1 369.2h0M179.5 405.2h0"/><path stroke="#d62728" d="M231.5 386.1h0M226.6 419.5h0M226.8 440.9h0M244.8 373.1h0M259.4 414.7h0M257.5 420.4h0M225.0 390.3h0M237.0 389.2h0M243.8 409.6h0M208.0 390.4h0M200.6 409.8h0M225.9 456.6h0M212.5 443.8h0M210.1 401.1h0M236.3 436.6h0M252.3 426.9h0M255.3 379.6h0M214.4 366.2h0M247.1 445.3h0M233.1 419.9h0M228.9 457.0h0M212.6 406.9h0M246.2 417.3h0M226.3 428.1h0M247.7 388.0h0M262.5 424.9h0M242.1 406.9h0M232.7 395.1h0M248.0 439.2h0M256.8 430.1h0M249.5 382.4h0M234.6 415.5h0M210.1 416.1h0M234.4 352.5h0M231.1 444.3h0M242.9 404.3h0M243.5 390.9h0M217.6 400.3h0M230.1 398.9h0M218.6 421.4h0M202.2 413.8h0M223.4 400.1h0M260.2 420.9h0M252.7 430.8h0M288.7 402.5h0M199.0 386.0h0M258.5 372.2h0M241.7 400.7h0M231.5 422.2h0M230.5 441.0h0M251.2 378.1h0M214.4 423.2h0M205.5 428.7h0M194.8 378.6h0M205.3 409.2h0M228.9 417.5h0M240.8 392.9h0M204.0 366.3h0M259.5 369.4h0M267.5 364.3h0M207.7 396.6h0M253.1 374.0h0M245.9 399.2h0M200.5 402.4h0M230.2 394.0h0M251.5 358.6h0M226.9 437.3h0M279.6 428.1h0M245.6 360.6h0M264.9 422.7h0M220.0 441.9h0M243.4 426.1h0M201.0 420.8h0M198.7 412.6h0M274.4 370.1h0M237.5 440.4h0M209.9 422.8h0M223.6 365.2h0M287.2 395.6h0M245.5 375.9h0M243.5 429.6h0M209.7 427.5h0M284.8 400.3h0M217.1 374.5h0M222.8 395.3h0M237.5 353.4h0M254.2 442.4h0M210.4 430.1h0M205.3 424.6h0M230.5 389.2h0M171.8 372.7h0M269.8 369.8h0M228.0 411.6h0M215.6 437.6h0M228.8 380.5h0M197.6 419.5h0M205.0 399.4h0M224.0 385.7h0M238.0 426.0h0M218.4 408.3h0M221.9 382.8h0M245.4 441.3h0M264.0 419.2h0M199.7 398.7h0M215.1 401.7h0M192.6 386.6h0M252.2 389.6h0M214.5 451.1h0M259.4 408.8h0M213.8 389.5h0M239.1 409.5h0M228.0 406.9h0M264.5 437.5h0M215.6 427.4h0M228.2 375.2h0M186.8 413.1h0M211.4 409.7h0M257.5 363.3h0M236.4 360.5h0M223.0 447.4h0M206.0 360.4h0M235.6 357.0h0M259.5 435.9h0M243.0 357.8h0M264.9 429.8h0M214.5 371.7h0M236.7 453.6h0M217.1 457.5h0M231.6 416.7h0M233.9 401.3h0M213.9 353.9h0M264.1 372.5h0M266.6 369.7h0M229.1 424.8h0M225.3 373.3h0M252.4 361.6h0M230.4 405.2h0M233.4 361.2h0M250.9 436.9h0M195.4 404.9h0"/><path stroke="#e377c2" d="M190.7 431.1h0M207.1 435.1h0M212.6 417.4h0M189.1 427.0h0M198.0 425.4h0M191.6 423.9h0M205.1 421.4h0M221.9 423.2h0M187.1 430.0h0M210.3 419.1h0M192.2 416.1h0M220.3 415.4h0M185.3 417.9h0M182.0 420.0h0"/><path stroke="#d62728" d="M195.2 415.6h0M201.9 431.6h0M188.6 416.4h0M229.9 428.2h0M199.1 428.4h0M205.3 412.2h0M194.1 426.3h0M198.2 422.5h0M213.2 428.7h0M203.1 437.5h0M188.2 423.4h0M216.0 418.6h0M219.3 432.7h0M192.7 438.3h0M208.1 425.2h0M210.9 413.2h0"/><path stroke="#17becf" d="M196.4 429.1h0M223.4 416.9h0M201.8 424.1h0M200.3 440.8h0M199.8 434.8h0M212.5 425.9h0M190.5 440.0h0M195.5 433.5h0M184.3 424.9h0M197.8 439.6h0"/><path stroke="#e377c2" d="M79.0 505.1h0M93.3 520.5h0M97.4 453.5h0M136.6 494.3h0M135.2 510.9h0M108.5 464.5h0M134.7 483.6h0M83.5 517.9h0M80.0 476.6h0M121.9 467.8h0M107.7 519.7h0M117.7 524.0h0M85.2 485.1h0M106.9 470.0h0M90.1 480.5h0M94.1 472.7h0M91.0 508.5h0M99.6 473.4h0M85.6 459.2h0M116.0 470.6h0M90.5 517.0h0M141.8 503.6h0M136.1 474.1h0M83.8 500.4h0M124.4 521.2h0M125.7 509.8h0M95.1 466.6h0M128.6 485.4h0M136.7 485.9h0M128.9 506.8h0M92.3 489.1h0M89.6 500.0h0M71.5 500.6h0M114.9 516.2h0M91.7 513.4h0M110.5 521.9h0M126.0 477.9h0M119.5 504.5h0M164.2 445.0h0M143.0 470.9h0M106.3 473.2h0M92.8 458.3h0M126.4 489.5h0M107.6 506.6h0M95.9 517.6h0M122.8 461.9h0M145.7 502.8h0M100.3 463.9h0M124.1 518.4h0M144.0 513.8h0M116.0 521.8h0M111.8 518.6h0M158.6 499.7h0M71.6 504.1h0M141.6 500.8h0M75.0 504.8h0M141.4 482.8h0M160.3 490.4h0M139.4 471.5h0M90.3 493.7h0M132.2 469.5h0M72.0 472.0h0M147.5 506.1h0M89.2 483.1h0M80.8 464.7h0M123.7 458.1h0M99.7 509.1h0M91.5 461.4h0M131.5 504.9h0M135.3 518.2h0M114.6 466.3h0M131.7 484.7h0M90.9 450.0h0M147.5 477.6h0M134.3 527.4h0M133.5 459.2h0M100.4 527.9h0M153.0 481.4h0M134.2 487.0h0M98.2 460.2h0M87.9 523.3h0M127.6 516.7h0M74.8 499.3h0M91.8 471.3h0M111.2 507.0h0M95.8 444.0h0M126.0 460.3h0M78.6 459.2h0M123.3 470.2h0M142.1 517.3h0M118.6 518.0h0M131.5 497.9h0M149.4 483.0h0M120.6 520.4h0M96.8 457.0h0M125.4 486.3h0M151.2 464.6h0"/><path stroke="#d62728" d="M86.3 495.7h0M77.3 510.0h0M80.6 484.7h0M127.5 501.9h0M95.5 481.7h0M121.2 474.1h0M116.3 461.6h0M82.8 467.3h0M129.5 470.9h0M145.4 468.6h0M80.6 495.1h0M83.6 476.5h0M129.8 467.7h0M86.8 520.0h0M100.3 470.0h0M122.1 502.5h0M97.0 514.8h0M94.4 507.1h0M73.9 475.3h0M76.2 485.0h0M123.6 504.8h0M85.2 492.9h0M87.5 475.5h0M86.6 504.7h0M126.4 525.5h0M142.7 493.8h0M134.8 477.5h0M89.8 503.3h0M76.3 478.8h0M81.4 502.9h0M121.7 508.5h0M129.3 474.3h0M86.3 479.8h0M123.9 483.2h0M76.8 496.5h0M125.9 473.3h0M129.6 493.3h0M97.5 526.4h0M73.7 480.3h0M121.4 492.5h0M96.2 509.8h0M113.6 459.3h0M152.6 516.6h0M78.0 487.6h0M93.4 477.7h0M94.5 524.6h0M131.7 479.3h0M106.5 462.5h0M140.1 514.4h0M100.5 520.2h0M134.9 505.9h0M130.8 489.0h0M117.9 455.0h0M90.4 474.7h0M107.9 510.8h0M121.1 529.1h0M100.8 513.0h0M77.8 499.0h0M121.1 516.8h0M126.8 464.3h0M143.4 475.4h0M93.0 503.5h0M90.5 453.5h0M103.9 465.4h0M100.2 523.9h0M103.4 448.7h0M78.2 493.2h0M135.5 465.3h0M78.0 481.1h0M154.4 478.5h0M114.3 506.9h0M141.0 445.3h0M97.0 505.2h0M142.9 520.7h0M139.8 521.8h0M113.5 476.1h0M111.1 458.2h0"/><path stroke="#17becf" d="M120.9 513.5h0M75.0 493.9h0M110.8 470.4h0M78.8 490.3h0M117.8 514.9h0M86.3 490.1h0M103.1 457.3h0M96.0 522.1h0M81.0 479.3h0M104.5 509.9h0M107.2 478.9h0M75.9 471.3h0M151.0 509.1h0M134.1 501.9h0M109.4 515.2h0M94.0 455.3h0M94.0 500.3h0M129.1 519.1h0M135.6 471.3h0M122.7 477.4h0M123.2 499.8h0M111.2 465.6h0M134.6 498.0h0M96.4 501.8h0M102.3 473.4h0M138.1 501.8h0M132.4 464.2h0M142.1 485.4h0M86.4 470.2h0M118.6 467.1h0M104.3 468.3h0M157.8 496.9h0M130.0 511.9h0M72.9 490.2h0M146.8 511.8h0M106.8 513.3h0M126.4 530.7h0M123.4 524.0h0M108.3 459.8h0M86.7 511.6h0M103.5 514.0h0M135.0 462.4h0M88.4 487.5h0M81.9 471.4h0M102.9 460.6h0M94.8 462.9h0M101.2 466.7h0M103.0 522.3h0M87.0 466.4h0M107.6 527.6h0M88.4 507.2h0M117.8 473.1h0M124.7 512.8h0M128.3 481.5h0M83.8 515.1h0M105.6 517.6h0M112.4 462.5h0M132.4 491.8h0M94.0 469.4h0M138.0 480.8h0M133.0 520.8h0M132.2 476.3h0M151.0 499.8h0M103.6 526.5h0M149.7 513.4h0M71.8 493.4h0M130.2 522.6h0M130.2 527.9h0M136.1 491.0h0M140.4 508.5h0M109.8 451.7h0M137.8 466.6h0M154.2 483.9h0M122.4 464.9h0M118.6 512.0h0M88.3 497.5h0"/><path stroke="#d62728" d="M176.1 508.4h0M183.7 508.0h0M174.4 499.1h0M178.4 503.9h0M171.7 510.8h0M156.9 507.8h0M166.8 507.8h0M178.1 511.4h0M176.8 505.8h0M165.4 504.4h0"/><path stroke="#e377c2" d="M172.4 500.9h0M183.2 505.3h0M181.2 506.8h0M174.2 510.1h0M178.8 508.1h0M172.6 507.1h0M171.0 504.6h0M168.2 502.2h0M181.6 509.6h0M175.2 502.1h0M186.4 503.9h0M169.5 508.5h0M169.7 512.2h0M179.2 499.5h0"/><path stroke="#1f77b4" d="M118.4 423.5h0M146.6 444.3h0M171.0 452.9h0M167.3 487.3h0M160.6 451.1h0M101.7 417.2h0M80.4 451.9h0M191.4 508.1h0M183.5 460.5h0M153.0 422.3h0M186.8 480.6h0M102.3 428.4h0M176.8 482.7h0M244.5 454.6h0M132.5 440.5h0M196.5 480.7h0M138.9 420.5h0M199.7 488.0h0M171.3 470.6h0M184.8 491.7h0M224.4 475.2h0M186.3 446.1h0M147.3 527.7h0M205.5 443.0h0M132.9 447.6h0M145.3 451.3h0M141.4 460.0h0M159.3 464.3h0M95.1 435.7h0M108.7 417.8h0M197.4 447.0h0M147.5 488.0h0M152.0 436.8h0M160.2 432.1h0M198.5 464.5h0M168.1 478.2h0M214.0 484.9h0M111.6 531.1h0M152.1 449.4h0M140.6 528.8h0M215.9 470.7h0M164.5 421.8h0M107.2 432.8h0M199.0 454.4h0M148.2 520.3h0M209.9 492.5h0M95.3 425.9h0M208.1 483.8h0M170.6 413.7h0M136.1 425.8h0M87.4 443.8h0M118.3 405.9h0M123.2 412.5h0M173.1 464.4h0M167.0 467.4h0M132.4 411.1h0M148.6 418.8h0M189.6 455.7h0M126.0 450.2h0M157.9 525.2h0M110.0 423.4h0M193.8 471.5h0M123.8 417.8h0M191.8 491.5h0M183.8 440.0h0M180.1 456.3h0M164.9 434.8h0M172.4 493.2h0M107.8 406.6h0M139.3 406.5h0M173.5 447.1h0M136.1 434.0h0M87.5 436.7h0M107.2 442.2h0M180.6 475.0h0M174.6 519.5h0M192.6 464.5h0M149.1 427.3h0M126.2 405.8h0M211.0 461.1h0M138.2 413.5h0M122.7 427.9h0M111.2 402.4h0M114.8 445.5h0M200.9 474.5h0M187.2 470.8h0M202.1 494.6h0M149.7 401.4h0M205.2 467.3h0M112.9 411.9h0M145.3 409.2h0M155.9 468.4h0M189.7 496.5h0M206.9 449.7h0M167.2 522.9h0M117.4 415.9h0M162.7 517.9h0M215.3 478.8h0M154.5 414.3h0M153.8 491.5h0M159.9 475.0h0M154.7 429.8h0M156.2 440.7h0M180.8 446.8h0M139.3 454.6h0M131.3 421.1h0M143.2 430.9h0M150.9 455.5h0M119.9 434.6h0M130.4 453.8h0M163.0 459.7h0M176.2 420.5h0M160.6 484.7h0M175.5 476.6h0M128.5 428.4h0M112.7 438.2h0M120.5 447.4h0M202.3 482.7h0M178.1 468.9h0M193.6 451.0h0M143.6 425.3h0M208.2 455.4h0M124.7 439.7h0M220.6 485.9h0M91.9 440.1h0M184.8 466.0h0M209.2 472.5h0M82.1 445.8h0M140.2 437.6h0M204.4 460.3h0M174.3 457.9h0M75.5 463.6h0M168.3 461.2h0M158.4 422.6h0M187.1 486.8h0M131.6 405.4h0M178.0 489.6h0M191.6 477.5h0M164.5 497.3h0M119.2 440.0h0M150.8 470.9h0M194.5 459.2h0M205.0 489.0h0M169.7 420.5h0M184.4 451.5h0M146.8 438.2h0M90.5 431.3h0M168.0 441.1h0M103.6 409.9h0M157.8 515.3h0M127.8 435.3h0M193.0 485.5h0M178.2 426.0h0M178.4 462.6h0M171.8 367.5h0M176.2 415.0h0M144.3 415.2h0M156.5 458.0h0M164.9 472.4h0M196.2 495.5h0M216.4 465.2h0M128.5 444.6h0M158.8 445.7h0M85.6 450.4h0M152.6 526.8h0M176.3 452.0h0M160.3 416.6h0M126.0 423.2h0M100.6 433.8h0M225.0 480.6h0M165.7 454.2h0M147.0 459.3h0M192.0 445.3h0M188.0 512.2h0M181.5 485.2h0M149.2 413.1h0M79.0 468.5h0M212.3 357.6h0M168.4 517.4h0M184.6 434.8h0M215.0 490.2h0M117.3 428.9h0M148.4 432.6h0M96.7 420.4h0"/><path stroke="#17becf" d="M206.1 477.3h0M183.1 501.3h0M188.3 379.6h0M163.7 427.1h0M216.3 359.8h0M172.2 389.4h0M161.1 383.1h0M184.8 370.5h0M169.2 407.9h0M184.3 361.9h0M166.3 371.0h0M168.1 385.8h0M231.4 472.7h0M138.1 377.3h0M112.5 431.6h0M225.3 352.8h0M208.5 356.6h0M185.7 393.8h0M178.8 362.9h0M141.1 396.0h0M175.3 384.4h0M79.5 515.4h0M150.8 374.2h0M188.2 397.9h0M177.8 390.8h0M176.3 375.7h0M176.5 369.9h0M200.5 500.6h0M104.7 423.5h0M72.1 486.3h0M119.2 391.0h0M136.6 393.6h0M219.4 356.1h0M100.9 439.4h0M187.6 356.2h0M235.0 469.9h0M209.3 352.0h0M191.9 395.4h0M82.5 511.3h0M174.8 514.4h0M173.0 487.0h0M145.5 498.6h0M187.1 389.1h0M155.6 378.2h0M158.5 404.9h0M195.8 383.2h0M179.5 380.4h0M126.7 385.0h0M238.4 460.1h0M192.6 359.5h0M203.0 379.5h0M139.2 476.9h0M202.6 406.2h0M147.5 492.8h0M247.3 451.9h0M171.3 380.9h0M242.0 458.2h0M194.3 367.8h0M73.0 509.0h0M289.6 406.9h0M82.8 488.3h0M281.5 424.6h0M169.3 498.4h0"/><path stroke="#e377c2" d="M153.4 405.8h0M163.3 391.4h0M198.6 354.7h0M277.5 422.9h0M241.1 442.1h0M151.5 395.8h0M132.7 389.2h0M225.0 359.9h0M194.9 501.1h0M183.0 375.7h0M114.8 397.3h0M200.8 371.2h0M151.1 380.7h0M193.3 355.2h0M195.3 409.0h0M183.8 408.8h0M134.2 381.6h0M209.3 363.9h0M222.6 468.5h0M189.5 361.8h0M200.1 382.2h0M186.9 375.7h0M163.8 511.1h0M229.2 476.3h0M190.2 407.1h0M145.3 482.1h0M125.8 399.2h0M284.4 417.0h0M212.9 362.2h0M205.6 370.0h0M290.8 398.4h0M153.7 367.8h0M111.7 526.6h0M226.9 469.5h0M228.1 461.0h0M182.3 357.3h0M168.3 392.8h0M132.0 516.2h0M231.7 357.5h0M162.1 440.0h0M173.2 360.2h0M158.3 392.1h0M75.8 513.9h0M161.6 506.4h0M107.0 523.7h0M84.6 463.2h0"/><path stroke="#d62728" d="M203.4 352.9h0M243.6 353.2h0M162.3 410.4h0M149.7 386.9h0M194.1 372.5h0M127.1 390.8h0M160.3 376.3h0M183.0 396.9h0M130.0 396.2h0M142.8 385.6h0M146.2 392.8h0M168.8 363.2h0M229.5 364.3h0M238.3 448.9h0M220.7 462.0h0M145.3 375.8h0M121.3 396.1h0M187.4 365.3h0M154.8 388.4h0M221.8 451.4h0M198.7 367.8h0M136.3 401.5h0M155.9 372.8h0M230.4 352.9h0M230.1 453.1h0M191.5 403.3h0M159.0 367.7h0M180.4 518.1h0M166.8 377.5h0M91.0 465.6h0M165.0 404.2h0M194.8 363.7h0M165.7 416.4h0M174.0 402.2h0M144.6 400.0h0M227.5 356.7h0M157.0 397.4h0M220.4 360.5h0M222.3 378.7h0M218.2 364.3h0M163.9 365.7h0M129.6 416.0h0M247.9 356.4h0M137.7 387.0h0M226.3 450.5h0M191.4 375.9h0M140.8 489.6h0M145.3 381.1h0M162.4 479.7h0M82.8 506.7h0M138.9 497.7h0M119.8 458.9h0M119.7 401.1h0M191.9 381.5h0M173.0 394.8h0M241.7 451.2h0M274.1 432.5h0M211.3 467.6h0"/><path stroke="#1f77b4" d="M131.6 555.4h0M144.1 546.6h0M144.9 557.8h0M137.1 547.4h0M132.1 538.7h0M128.2 548.1h0M143.6 535.8h0M150.2 545.1h0M135.7 560.9h0M123.4 536.6h0M148.5 554.5h0M137.3 542.0h0M149.4 560.7h0M135.0 534.1h0M142.2 541.1h0M132.5 550.5h0M140.8 553.1h0M151.9 538.8h0M122.6 548.9h0M150.3 550.0h0M149.9 533.7h0M126.6 554.5h0M141.0 561.9h0M126.0 542.0h0M131.6 544.2h0M128.2 535.7h0M133.1 565.3h0M128.9 559.5h0M147.1 540.9h0"/><path stroke="#1f77b4" d="M127.9 561.2h0M131.6 562.2h0M127.7 559.6h0M129.2 560.5h0M129.0 561.7h0M129.8 561.5h0M128.5 560.6h0M128.9 562.4h0"/><path stroke="#d62728" d="M519.6 387.0h0M512.8 376.0h0M523.3 383.1h0M514.8 379.7h0M516.5 387.1h0M528.0 377.4h0M516.6 372.5h0M519.4 383.3h0M523.6 373.4h0M515.8 383.0h0M520.2 377.5h0M535.7 382.2h0M531.6 375.8h0M519.1 380.6h0M522.7 380.5h0M525.7 379.0h0M522.6 378.6h0M530.5 380.9h0M526.9 385.9h0M521.5 375.8h0M510.5 380.1h0M516.9 379.9h0M505.3 373.8h0M535.8 374.5h0M525.6 384.1h0M498.7 375.7h0M493.1 378.3h0M510.6 372.2h0M495.3 372.8h0M518.8 388.7h0M512.4 383.8h0M503.2 375.7h0M542.6 384.8h0M532.7 377.8h0M525.4 372.0h0M525.3 387.9h0M502.7 382.0h0M514.4 377.6h0M529.6 375.3h0M525.0 376.6h0M532.6 380.3h0M520.1 371.0h0M533.1 386.4h0M523.0 371.2h0M529.6 383.1h0M504.7 380.5h0M510.6 377.0h0M527.5 383.0h0M500.2 379.8h0"/><path stroke="#1f77b4" d="M516.4 376.0h0M507.5 379.1h0M527.4 380.8h0M503.5 378.0h0M535.3 378.4h0M518.4 378.4h0"/><path stroke="#e377c2" d="M500.7 384.9h0M506.5 376.5h0M538.8 379.4h0M513.7 372.8h0M529.6 379.2h0"/><path stroke="#1f77b4" d="M449.9 395.4h0M447.2 388.0h0M445.7 397.0h0M447.6 393.7h0M452.9 391.5h0M448.9 390.1h0M451.1 394.7h0M448.6 391.6h0M448.8 386.8h0M446.1 396.4h0M446.5 392.0h0M450.2 394.6h0M447.6 394.9h0M448.3 386.6h0M447.3 393.6h0M448.7 389.4h0M446.5 391.3h0M449.4 389.3h0M448.5 389.0h0M449.2 392.9h0M450.6 383.8h0M449.0 389.2h0"/><path stroke="#17becf" d="M448.9 395.1h0M445.6 390.6h0M445.3 406.5h0M451.1 395.5h0M455.5 396.5h0M450.9 398.2h0M443.5 387.9h0M442.4 403.5h0M447.0 399.6h0M439.5 389.0h0M456.2 372.9h0"/><path stroke="#1f77b4" d="M448.1 387.1h0M450.6 389.9h0M439.4 398.1h0M447.2 384.0h0M447.8 397.3h0M447.5 380.4h0M443.6 384.9h0M458.2 392.5h0M455.2 408.7h0M444.0 398.1h0M455.5 384.0h0M441.6 400.7h0M457.8 398.6h0M449.3 401.6h0M453.4 395.4h0M441.8 392.9h0M448.3 391.6h0M451.2 384.7h0M451.8 392.9h0M455.8 388.0h0M450.1 408.1h0M456.3 380.7h0M443.9 394.0h0M455.2 393.9h0M457.5 401.0h0M445.2 401.1h0M453.0 389.3h0M451.8 404.2h0M443.9 375.9h0"/><path stroke="#d62728" d="M413.2 535.3h0M414.7 533.1h0M409.1 530.9h0M403.1 530.7h0M423.9 529.9h0M394.1 531.2h0M390.0 535.0h0M397.7 531.9h0M417.5 531.0h0M422.6 537.6h0M392.8 532.8h0M403.9 534.7h0M402.4 525.8h0M415.7 530.0h0M429.4 531.3h0M403.1 532.9h0M403.0 541.5h0M419.8 532.8h0M400.9 529.8h0M405.0 525.2h0M388.2 529.3h0M419.9 535.1h0M399.7 532.6h0M403.3 528.5h0M409.9 522.8h0M393.4 525.6h0M415.6 539.8h0M391.4 529.9h0M399.9 527.8h0M388.7 524.7h0M384.7 531.4h0M384.3 533.5h0M415.8 526.6h0M405.9 540.1h0M418.9 529.1h0M413.3 528.4h0M398.0 535.7h0M385.3 537.9h0M406.2 537.8h0M389.6 527.1h0M407.5 526.2h0M411.9 537.1h0M425.4 524.0h0M401.2 534.3h0M428.2 528.2h0M400.9 536.3h0M405.3 527.7h0M397.7 539.6h0M381.8 529.0h0M394.6 536.1h0M422.2 535.1h0M427.5 533.8h0M423.8 532.8h0M397.8 526.9h0M416.9 533.3h0M421.8 528.8h0M394.3 521.4h0M413.9 538.7h0M392.2 538.3h0M416.6 523.7h0M420.4 530.8h0M401.1 538.4h0M412.7 525.2h0M427.2 538.2h0M426.6 525.9h0M410.0 527.9h0M406.0 535.7h0"/><path stroke="#e377c2" d="M420.9 525.9h0M405.9 532.6h0M408.4 539.6h0M411.2 529.7h0M409.2 534.3h0M413.4 531.3h0M395.3 527.4h0M390.2 542.3h0"/><path stroke="#1f77b4" d="M401.4 547.3h0M400.1 542.8h0M397.8 542.6h0M397.8 544.0h0M402.8 543.6h0M401.3 540.7h0M404.9 544.0h0M399.3 541.2h0M404.5 541.3h0M400.0 545.1h0M398.2 547.6h0M408.1 542.6h0M408.2 544.5h0M395.6 545.2h0M405.4 549.1h0M401.5 544.3h0M403.6 545.1h0M399.0 546.4h0M410.5 544.8h0M401.9 545.6h0M404.4 547.4h0M402.7 540.1h0M401.4 549.8h0M403.7 549.7h0M399.7 538.9h0M402.9 546.7h0M405.9 545.7h0M394.6 546.4h0M394.7 541.4h0M405.8 547.2h0M407.3 540.7h0M397.4 545.4h0M406.2 541.8h0M395.9 543.2h0M410.7 541.8h0"/><path stroke="#1f77b4" d="M475.6 364.3h0M476.6 378.2h0M508.4 349.1h0M401.0 396.6h0M561.0 408.1h0M503.4 417.2h0M408.2 394.4h0M437.9 457.9h0M527.0 397.0h0M491.9 403.8h0M471.0 441.9h0M523.6 365.0h0M546.1 361.2h0M505.7 404.2h0M446.5 418.7h0M433.2 370.9h0M470.1 383.7h0M438.1 371.0h0M419.7 379.9h0M516.9 420.9h0M467.7 472.7h0M491.9 351.4h0M502.0 392.4h0M476.1 398.3h0M465.7 361.4h0M496.6 347.7h0M481.2 367.6h0M490.2 423.9h0M451.8 356.8h0M540.4 371.8h0M465.1 419.7h0M555.6 367.3h0M471.5 378.2h0M555.2 408.0h0M472.3 410.8h0M437.3 435.2h0M496.3 389.3h0M503.0 354.2h0M488.5 368.4h0M412.1 380.6h0M414.3 424.6h0M441.8 437.6h0M418.8 426.2h0M488.3 398.4h0M474.3 471.1h0M529.6 362.9h0M433.5 411.0h0M445.9 430.0h0M437.3 444.2h0M411.7 374.0h0M500.8 364.6h0M535.3 404.7h0M479.0 470.7h0M458.1 444.6h0M517.3 394.2h0M416.7 373.7h0M544.2 412.9h0M442.9 459.2h0M462.9 381.2h0M480.1 442.0h0M499.2 406.5h0M476.6 370.0h0M524.9 392.7h0M416.0 419.0h0M533.0 395.4h0M489.0 470.0h0M545.3 398.4h0M453.4 431.5h0M439.9 358.3h0M461.3 440.5h0M398.9 408.1h0M413.4 444.9h0M474.8 383.0h0M417.7 408.9h0M409.7 426.4h0M480.6 402.4h0M467.2 460.0h0M433.4 441.4h0M458.0 430.1h0M498.5 396.2h0M435.3 416.8h0M433.7 366.2h0"/><path stroke="#17becf" d="M455.7 359.6h0M506.5 360.4h0M425.1 379.9h0M444.3 444.1h0M525.5 408.2h0M404.1 384.0h0M541.5 408.6h0M406.8 414.7h0M435.1 384.2h0M516.8 350.5h0M440.0 416.3h0M557.7 377.2h0M488.9 416.8h0M422.0 393.2h0M480.3 350.1h0M449.3 441.0h0M479.5 436.5h0M537.2 363.8h0M518.5 409.6h0M450.3 427.2h0M408.4 387.6h0M427.7 371.0h0M423.8 405.3h0M466.1 350.8h0M428.5 426.3h0M484.4 388.5h0M468.8 357.2h0M483.6 396.8h0M487.0 382.8h0M407.1 409.0h0M433.6 422.1h0M496.2 410.6h0M403.9 426.6h0M490.1 387.1h0M544.9 379.9h0M397.7 400.2h0M422.8 399.2h0M429.0 364.4h0M475.7 405.0h0M493.8 432.2h0M411.4 416.0h0M481.5 414.0h0M464.2 464.6h0M498.1 426.2h0M515.9 403.2h0M501.7 401.6h0M567.5 400.2h0M451.1 362.4h0M428.0 410.7h0M550.8 395.5h0M493.5 393.5h0M499.6 370.1h0M557.2 399.7h0M498.2 439.0h0M498.5 445.4h0M457.2 434.9h0M453.4 368.7h0M467.1 390.5h0M434.8 400.4h0M400.5 390.4h0M502.5 431.0h0M572.7 381.8h0M410.6 421.3h0M499.4 421.6h0M420.6 386.1h0M470.7 403.4h0M429.8 432.6h0M486.7 454.2h0M442.6 367.6h0M414.9 384.6h0M454.9 464.1h0M471.9 388.3h0M510.6 425.7h0M485.5 425.5h0M466.2 401.0h0M417.6 404.0h0M425.0 438.8h0M466.8 367.8h0M503.4 442.7h0M522.2 348.3h0M477.1 432.5h0M524.9 419.3h0M497.5 458.5h0M549.7 388.4h0M400.1 416.2h0M544.6 403.7h0M476.9 412.5h0M421.4 451.0h0M570.6 405.2h0M566.4 386.3h0M441.5 432.5h0M536.9 409.6h0M476.5 465.5h0M424.8 366.9h0M494.8 422.4h0M448.6 413.2h0"/><path stroke="#e377c2" d="M421.0 432.8h0M416.0 397.7h0M556.6 372.2h0M438.7 428.5h0M487.7 448.5h0M481.3 408.9h0M544.0 356.7h0M474.3 421.8h0M491.4 455.8h0M514.5 367.9h0M478.5 460.9h0M481.4 430.1h0M430.5 395.6h0M485.2 444.2h0M515.2 357.3h0M403.1 411.7h0M459.6 354.5h0M549.3 401.9h0M476.5 358.3h0M484.5 435.4h0M536.7 415.2h0M466.7 424.2h0M472.2 436.4h0M452.5 416.0h0M507.0 367.3h0M565.9 406.7h0M474.4 352.9h0M482.3 452.2h0M415.6 440.1h0M444.8 362.0h0M456.0 458.1h0M514.5 398.6h0M499.3 452.7h0M478.6 392.3h0M494.2 366.9h0M441.5 452.9h0M429.1 376.9h0M511.2 407.5h0M449.9 374.8h0M467.1 445.3h0M552.7 363.5h0M473.3 449.7h0M447.6 434.6h0M429.8 438.0h0M546.8 368.9h0M414.9 391.5h0M565.5 381.5h0M551.4 383.1h0M512.2 394.0h0M572.4 396.6h0M448.0 463.2h0M402.1 403.1h0M462.7 435.7h0M492.5 356.6h0M504.5 408.8h0M507.2 399.3h0M412.9 402.8h0M486.5 374.6h0M479.4 386.4h0M495.3 463.3h0M550.6 376.7h0M565.5 392.7h0M517.4 415.3h0M472.0 371.8h0M431.2 388.7h0M412.2 409.6h0M493.2 450.8h0M473.7 459.1h0M423.7 415.3h0M480.8 374.0h0M521.9 397.3h0M485.7 351.2h0M560.4 369.0h0M462.9 469.5h0M454.2 439.5h0M558.9 395.1h0M528.6 402.5h0M460.1 377.1h0M426.6 421.2h0M484.7 405.1h0M481.9 354.9h0M485.3 346.3h0M489.8 437.3h0M556.3 383.1h0M438.9 411.4h0M417.3 448.3h0M428.9 400.1h0M443.8 425.6h0M511.2 388.4h0M481.2 464.8h0M433.8 429.7h0M467.2 408.4h0M430.1 456.2h0M461.3 359.5h0M423.6 428.7h0M447.7 447.7h0M514.0 411.5h0M485.9 459.6h0M431.2 449.0h0M431.2 381.4h0M511.0 402.4h0M484.8 364.4h0M485.4 420.3h0M441.6 380.3h0"/><path stroke="#d62728" d="M488.8 408.8h0M430.6 418.3h0M562.4 398.7h0M408.9 431.0h0M473.0 428.3h0M498.6 360.4h0M444.8 356.5h0M536.0 399.4h0M481.9 360.2h0M571.8 387.6h0M419.1 443.6h0M487.6 431.3h0M527.1 415.1h0M466.3 455.1h0M436.0 406.4h0M533.2 353.3h0M448.3 368.1h0M569.0 374.2h0M462.3 386.3h0M465.4 375.4h0M419.2 413.5h0M457.5 452.3h0M470.3 364.1h0M546.2 392.2h0M466.1 439.2h0M502.0 435.7h0M437.4 362.5h0M508.2 413.6h0M434.4 452.7h0M531.7 358.6h0M428.0 444.5h0M452.5 444.4h0M490.2 444.0h0M541.2 391.7h0M560.8 386.1h0M522.8 354.3h0M426.7 391.0h0M535.2 368.3h0M459.1 420.4h0M540.4 401.3h0M436.9 379.8h0M404.3 419.0h0M554.6 389.9h0M463.3 405.4h0M440.5 422.1h0M506.3 387.6h0M473.0 415.9h0M471.2 396.0h0M464.0 413.5h0M425.8 449.0h0M489.6 363.5h0M548.7 409.3h0M422.9 410.4h0M479.7 419.8h0M511.8 420.3h0M420.8 421.6h0M444.2 411.6h0M563.1 376.6h0M541.7 367.0h0M532.2 410.2h0M522.7 360.0h0M460.2 364.1h0M424.1 374.6h0M489.7 463.6h0M527.3 352.9h0M463.6 396.5h0M538.9 356.2h0M530.2 391.3h0M404.9 378.9h0M427.3 384.4h0M486.3 358.1h0M484.0 468.8h0M498.3 352.6h0M529.4 368.7h0M471.3 466.1h0M516.3 362.5h0M446.8 456.5h0M496.5 400.5h0M462.2 371.7h0M451.3 452.8h0M495.6 417.0h0M523.0 404.0h0M532.0 417.5h0M420.5 368.8h0M458.0 425.4h0M465.0 431.3h0M457.1 468.4h0M495.2 382.9h0M576.2 391.3h0M431.5 404.2h0M407.8 400.2h0M502.6 346.4h0M459.0 413.7h0M503.9 425.3h0M536.6 390.1h0M487.5 393.3h0M413.0 435.5h0M483.3 379.0h0M565.4 370.3h0M546.8 373.6h0M478.7 447.1h0M463.6 450.5h0M414.3 430.0h0M522.8 412.2h0M435.0 393.5h0M551.1 370.9h0M453.7 421.7h0M541.0 360.9h0M460.9 461.1h0M479.5 425.6h0M514.0 346.5h0M510.3 354.5h0M552.3 412.8h0M507.3 393.6h0M420.2 438.2h0M477.0 454.6h0M550.9 358.9h0M468.3 415.5h0M509.6 430.7h0M510.9 363.0h0M471.4 455.0h0M490.6 346.8h0M475.7 439.7h0M501.0 412.8h0M440.3 448.2h0M435.6 375.0h0M494.1 361.8h0M470.0 432.1h0M461.5 455.1h0M539.7 396.2h0"/><path stroke="#17becf" d="M518.9 446.2h0M547.1 436.5h0M528.0 458.8h0M535.9 484.5h0M516.9 456.5h0M527.1 432.8h0"/><path stroke="#d62728" d="M510.9 493.5h0M501.8 471.7h0M571.3 418.6h0M534.1 473.3h0M509.2 450.7h0M525.7 485.2h0M540.9 458.0h0M551.5 426.4h0"/><path stroke="#e377c2" d="M555.7 462.2h0M549.7 453.4h0M533.8 444.0h0M502.4 488.7h0M556.9 439.1h0M539.8 425.7h0M546.7 470.8h0M508.5 463.2h0M513.4 483.1h0M564.7 444.9h0M513.2 503.7h0"/><path stroke="#1f77b4" d="M517.0 472.3h0M564.3 428.6h0M495.7 480.6h0M520.5 494.2h0"/><path stroke="#17becf" d="M377.7 396.3h0M392.7 437.0h0M392.4 426.8h0M379.2 486.5h0M367.2 416.6h0M380.6 458.8h0M382.2 475.8h0M385.1 405.2h0"/><path stroke="#d62728" d="M371.5 472.8h0M401.5 455.4h0"/><path stroke="#e377c2" d="M368.0 457.5h0M384.3 444.7h0M380.3 418.7h0M404.6 469.6h0"/><path stroke="#d62728" d="M426.2 477.0h0M459.7 488.3h0M494.1 503.7h0M482.9 503.1h0M477.4 483.2h0M451.8 484.0h0M433.4 465.9h0"/><path stroke="#e377c2" d="M442.3 490.3h0M436.8 474.2h0M447.2 472.9h0M488.1 485.3h0M414.6 471.0h0M458.7 478.2h0M423.9 488.5h0"/><path stroke="#17becf" d="M475.6 493.0h0M463.2 501.7h0M424.1 466.9h0M433.1 492.4h0M476.6 513.4h0M488.0 495.1h0M454.1 497.6h0"/><path stroke="#1f77b4" d="M472.6 503.6h0M468.7 485.5h0M486.1 511.5h0M416.6 461.3h0M504.4 502.0h0M435.2 482.8h0"/><path stroke="#1f77b4" d="M417.0 512.6h0M421.4 516.7h0M421.4 543.6h0M440.7 534.8h0M464.5 543.4h0M371.2 514.9h0M452.6 548.9h0M423.2 511.0h0M385.7 551.2h0M416.0 564.4h0M446.9 519.6h0M441.3 510.0h0M438.0 521.3h0M426.5 561.5h0M447.0 551.5h0M384.3 510.3h0M411.0 554.2h0M472.3 527.6h0M447.8 508.6h0M376.0 555.9h0M442.7 525.6h0M451.7 539.3h0M368.5 522.2h0M455.8 513.4h0M446.4 499.2h0M394.0 551.8h0M430.7 501.0h0M470.4 516.1h0M372.3 541.2h0M431.8 558.3h0M373.6 523.6h0M400.2 512.8h0M380.1 552.7h0M466.2 537.1h0M462.2 508.1h0M475.4 536.2h0M393.5 516.3h0M379.3 533.7h0M467.9 510.5h0"/><path stroke="#e377c2" d="M424.6 501.4h0M405.4 554.8h0M411.4 507.8h0M429.7 507.8h0M472.9 541.5h0M416.0 518.6h0M363.3 530.5h0M468.4 522.6h0M393.3 510.1h0M456.7 507.4h0M442.7 556.0h0M427.0 546.7h0M389.1 513.0h0M362.3 524.9h0M436.8 560.0h0M366.2 511.9h0M377.3 538.5h0M439.8 545.0h0M359.9 507.4h0M446.6 545.9h0M397.0 490.0h0M382.7 557.8h0M388.3 557.7h0M420.0 496.1h0M426.5 518.7h0M456.2 519.6h0M367.0 503.0h0M452.7 556.9h0M411.1 515.1h0M385.6 545.7h0M386.7 501.7h0M385.3 518.8h0M361.3 535.8h0M428.9 513.3h0M437.1 553.6h0M421.6 563.1h0M461.4 521.3h0M369.9 508.3h0"/><path stroke="#17becf" d="M447.8 561.8h0M374.1 531.1h0M408.3 500.4h0M421.2 557.6h0M375.5 548.0h0M463.0 528.8h0M426.9 552.3h0M437.5 515.6h0M463.8 515.1h0M454.8 544.3h0M400.4 555.4h0M377.5 508.7h0M366.9 540.5h0M436.5 500.5h0M392.4 492.2h0M462.1 553.2h0M413.2 493.2h0M383.8 497.3h0M407.4 489.3h0M445.1 531.6h0M358.0 519.5h0M380.8 522.3h0M358.4 513.7h0M410.0 559.9h0M435.4 530.0h0M369.0 535.5h0M388.8 506.4h0M372.0 499.3h0M455.6 535.8h0M387.4 492.8h0M375.4 503.0h0M441.1 562.6h0M377.7 516.1h0M439.0 494.9h0M471.9 546.9h0M370.2 551.3h0M445.2 538.9h0M434.3 564.6h0M424.8 494.6h0M415.5 548.4h0M456.4 553.1h0M375.1 494.9h0M405.9 495.7h0M438.6 505.1h0M447.3 493.8h0M400.4 493.7h0M419.2 490.4h0M369.3 528.6h0M474.8 518.6h0M444.3 514.1h0M381.2 502.5h0M357.3 529.4h0M467.8 551.5h0"/><path stroke="#d62728" d="M457.8 529.7h0M394.2 559.7h0M433.5 549.9h0M450.5 533.7h0M406.9 510.7h0M368.5 545.3h0M396.8 500.9h0M451.2 524.5h0M433.6 536.7h0M404.2 518.8h0M421.0 552.2h0M403.9 563.9h0M422.1 505.8h0M398.6 517.8h0M432.9 520.3h0M470.9 533.9h0M461.0 537.6h0M463.7 548.4h0M390.7 497.8h0M403.4 503.5h0M414.7 502.8h0M450.9 515.7h0M379.4 544.2h0M432.8 544.3h0M476.5 524.2h0M363.5 519.8h0M399.7 560.9h0M415.7 558.4h0M433.5 511.4h0M399.6 507.1h0M451.8 504.4h0M441.4 550.9h0"/><path stroke="#d62728" d="M867.9 347.0h0M865.9 344.1h0M873.3 346.5h0M866.9 346.5h0M863.1 347.3h0M865.2 347.2h0M868.3 346.8h0M864.8 344.1h0M864.1 344.3h0M865.7 344.3h0M868.2 345.4h0M869.1 344.8h0M862.5 346.9h0M862.1 348.3h0M860.9 344.4h0M864.8 350.3h0M869.0 345.5h0M872.2 347.4h0M872.7 342.4h0M868.8 345.0h0M864.2 345.2h0M866.2 344.7h0M867.1 345.4h0M863.3 349.4h0M864.1 345.6h0M867.3 346.2h0M863.3 349.7h0M862.4 345.9h0M860.9 343.3h0M871.7 346.9h0M873.4 350.7h0M867.2 344.5h0M862.6 345.9h0M866.3 339.0h0M862.7 344.5h0M865.4 343.6h0M869.1 345.2h0M862.7 347.4h0M865.6 340.3h0M864.7 342.6h0M864.3 346.4h0M868.4 344.0h0M861.3 347.9h0M864.6 350.0h0M866.6 345.0h0M864.9 343.3h0M861.5 344.6h0M866.5 347.2h0M866.1 346.4h0M869.3 348.8h0M866.3 348.0h0M867.3 344.7h0M866.2 345.9h0M867.8 348.2h0M865.3 344.6h0M866.6 344.8h0M870.4 351.0h0M861.3 343.9h0M867.9 343.3h0M864.4 348.3h0"/><path stroke="#d62728" d="M858.3 355.1h0M865.4 367.3h0M857.3 348.1h0M863.2 356.9h0M859.0 350.8h0M870.9 361.8h0M853.6 351.7h0M858.3 344.1h0M851.4 349.9h0M852.9 358.8h0M867.1 354.1h0M862.0 359.3h0M875.9 358.5h0M861.7 348.6h0M855.8 344.5h0M867.8 359.7h0M873.2 348.6h0M862.6 354.6h0M864.5 342.2h0M850.3 352.8h0M871.8 344.1h0M859.0 365.2h0M854.7 349.3h0M860.9 343.2h0M840.6 361.4h0M844.5 351.6h0M865.0 363.6h0M866.3 357.6h0M875.2 353.2h0M851.7 362.2h0"/><path stroke="#e377c2" d="M866.1 346.6h0M872.0 351.4h0M852.9 354.4h0M862.4 352.0h0M862.1 345.4h0M869.2 364.2h0M872.9 358.0h0M861.5 362.4h0M866.3 350.0h0"/><path stroke="#17becf" d="M851.5 344.3h0M870.1 358.1h0M870.1 349.5h0M855.9 366.2h0M857.3 361.4h0M849.3 363.4h0"/><path stroke="#17becf" d="M713.3 522.0h0M698.6 531.5h0M704.5 516.3h0M698.3 511.0h0M687.6 523.7h0M706.3 542.5h0M677.7 506.9h0M696.5 507.5h0M699.6 517.1h0M716.2 521.4h0M706.0 499.2h0M692.4 534.2h0M696.6 521.1h0M707.8 488.7h0M693.5 540.6h0M687.6 527.5h0M701.4 521.9h0M690.1 518.9h0M690.8 543.8h0M683.8 515.6h0M692.5 497.1h0M709.6 540.4h0M671.3 521.1h0M711.4 530.8h0M701.8 524.1h0M695.9 524.5h0M692.8 538.4h0M705.8 506.3h0M708.2 527.6h0M709.1 525.3h0M711.6 523.8h0M702.4 530.8h0M689.0 509.3h0M694.6 512.6h0M683.3 504.2h0M705.4 491.9h0M684.6 518.6h0M703.5 540.4h0M707.0 516.6h0M690.8 529.6h0M690.1 536.2h0M710.4 526.9h0M713.2 541.4h0M713.6 518.2h0M693.6 543.9h0M683.2 536.2h0M713.2 515.5h0M669.8 514.9h0M713.5 538.9h0M706.9 524.3h0M682.1 518.8h0M669.4 517.3h0M696.6 528.1h0M690.7 523.8h0M710.6 537.8h0M703.6 522.3h0M703.9 509.0h0M702.3 513.7h0M689.4 496.7h0M698.4 523.3h0"/><path stroke="#d62728" d="M699.1 521.2h0M709.2 534.9h0M689.3 500.5h0M703.0 519.7h0M704.8 525.4h0M693.1 522.5h0M697.6 516.3h0M707.0 529.9h0M681.7 528.2h0M700.3 527.7h0M694.2 505.9h0M702.5 543.5h0M696.3 543.4h0M716.0 517.9h0M703.7 511.3h0M710.8 510.9h0M686.5 520.6h0M691.3 509.8h0M690.1 521.8h0M701.8 517.4h0M693.7 503.5h0M690.8 502.3h0M710.9 507.3h0M701.6 500.7h0M701.6 503.6h0M705.3 527.8h0M697.0 496.8h0M711.3 496.0h0M708.1 512.8h0M706.9 519.4h0M687.9 506.6h0M687.7 536.4h0M731.3 511.2h0M705.8 513.1h0M699.0 537.4h0M689.5 516.1h0M713.2 502.2h0M720.5 523.8h0M695.3 529.9h0M683.6 532.5h0M679.2 517.5h0M686.3 511.0h0M697.0 512.7h0M699.0 507.3h0M699.3 552.6h0M679.3 532.7h0M678.1 509.7h0M698.1 500.2h0M684.8 525.5h0M679.3 526.6h0M716.9 511.4h0M710.1 516.3h0M722.4 530.6h0M698.3 502.3h0M701.3 506.8h0M680.4 535.7h0M700.2 509.0h0M682.3 510.4h0M674.5 525.0h0M694.2 490.9h0M684.7 540.9h0M688.0 484.0h0M707.9 522.3h0M717.2 514.9h0M684.9 529.2h0M675.4 529.4h0M678.6 512.3h0M679.9 514.3h0M683.7 545.5h0M701.0 536.5h0M693.0 529.1h0M685.1 523.1h0M686.9 517.5h0M695.5 533.6h0M715.8 531.2h0M686.6 508.8h0M713.6 509.2h0M702.3 526.9h0M686.3 515.3h0M693.8 526.9h0M684.7 502.4h0M718.5 529.3h0M697.7 518.5h0M674.8 514.7h0M700.0 529.9h0M679.9 542.5h0M696.0 538.1h0M688.5 549.1h0M717.5 500.5h0M706.4 537.1h0M675.0 537.5h0M707.5 508.4h0M705.2 550.2h0M679.7 520.1h0M687.0 544.7h0M721.6 516.0h0M697.9 539.5h0M709.5 498.9h0M733.4 506.1h0M710.7 543.1h0M669.1 510.4h0M695.2 499.8h0M684.5 509.8h0M700.3 539.4h0M692.2 487.9h0M699.7 541.6h0M682.9 500.9h0M681.5 544.4h0M673.3 517.4h0"/><path stroke="#e377c2" d="M691.2 526.3h0M700.5 512.5h0M722.3 519.1h0M718.3 524.3h0M697.7 525.8h0M706.9 534.4h0M725.4 525.9h0M714.6 527.6h0M694.0 515.3h0M695.6 519.1h0M706.3 495.8h0M706.8 501.4h0M727.1 502.5h0M688.8 531.2h0M692.5 512.5h0M688.6 504.4h0M692.5 519.9h0M696.1 510.0h0M675.1 533.2h0M724.9 511.4h0M672.4 527.6h0M683.6 513.2h0M679.4 523.7h0M693.5 508.8h0M718.2 535.5h0M698.1 533.8h0M681.3 505.9h0M703.7 535.0h0M722.5 513.8h0M704.6 531.4h0"/><path stroke="#1f77b4" d="M688.9 511.9h0"/><path stroke="#17becf" d="M749.1 465.5h0M734.9 434.5h0M727.9 443.2h0M741.5 439.6h0M741.9 444.0h0M744.5 446.4h0M736.2 452.2h0M733.1 450.6h0M735.6 439.9h0M735.2 448.1h0M745.6 460.8h0M741.9 454.8h0M745.5 438.0h0M748.6 446.9h0M748.8 462.9h0M738.2 455.7h0M740.0 445.8h0M740.9 442.1h0M734.6 454.0h0M738.8 447.5h0M737.5 450.2h0"/><path stroke="#1f77b4" d="M734.3 462.4h0M738.5 441.8h0M736.2 437.0h0M753.2 446.0h0M732.1 436.9h0"/><path stroke="#e377c2" d="M740.5 450.7h0M748.5 444.3h0M742.5 448.5h0M738.1 452.9h0"/><path stroke="#17becf" d="M714.4 438.0h0M725.6 427.9h0M708.4 409.6h0M684.8 407.4h0M693.0 418.8h0M718.4 399.7h0M681.6 443.2h0M708.2 431.6h0M705.8 473.6h0M707.3 456.2h0M725.0 450.9h0M700.7 439.5h0M709.5 435.2h0M722.1 389.1h0M714.0 430.6h0M718.4 410.2h0M704.0 467.3h0M724.2 441.6h0M722.5 445.2h0M730.6 460.9h0M740.0 423.8h0M728.8 392.3h0M703.8 441.8h0M690.4 416.4h0M725.4 437.5h0M745.9 416.9h0M711.1 411.6h0M702.9 418.7h0M688.2 399.4h0M722.2 411.2h0M702.0 408.1h0M746.3 406.6h0M712.7 416.7h0M708.7 414.5h0M733.0 423.8h0M722.9 461.6h0M734.0 430.0h0M686.7 444.6h0M705.8 430.3h0M729.5 439.0h0M705.7 388.3h0M695.7 413.5h0M706.9 381.0h0M744.7 434.6h0"/><path stroke="#1f77b4" d="M754.4 439.9h0M725.1 432.3h0M712.1 426.3h0M732.1 453.1h0M707.9 389.9h0M728.1 411.8h0M711.6 431.6h0M729.7 417.5h0M735.9 424.9h0M716.3 416.4h0M700.0 391.6h0M694.4 430.9h0M732.7 399.9h0M715.7 409.6h0M692.5 410.9h0M731.6 411.9h0M715.5 428.3h0M741.0 458.0h0M729.1 430.8h0M725.5 421.6h0M719.9 408.3h0M702.4 435.4h0M727.8 433.6h0M716.2 425.6h0M717.4 406.6h0M730.9 422.1h0M697.3 474.3h0M726.5 398.3h0M716.5 402.4h0M678.0 433.8h0M696.4 410.2h0M708.2 441.8h0M744.2 427.6h0M719.4 428.3h0M717.2 379.3h0M744.4 413.9h0M729.3 424.8h0M715.7 433.3h0M702.2 428.9h0M685.1 397.6h0M709.7 439.5h0M720.2 418.8h0M711.3 398.1h0M718.9 387.1h0M676.7 449.0h0M697.7 404.2h0M725.6 412.5h0M698.8 450.3h0M731.4 414.7h0M705.3 396.3h0M713.9 422.6h0M719.8 396.5h0M720.8 423.6h0M725.3 475.7h0M688.3 409.6h0M699.3 434.3h0M700.2 412.3h0M710.0 471.5h0M713.6 434.9h0M706.3 412.5h0M692.9 401.7h0M738.2 484.6h0M707.2 400.1h0M714.1 400.4h0M711.3 402.3h0M729.6 395.5h0M696.9 420.9h0M733.5 420.3h0M726.9 462.4h0M707.2 459.3h0M721.4 442.4h0M741.3 418.5h0M741.8 434.7h0M738.6 414.3h0M710.2 421.9h0M705.7 470.7h0M700.8 395.2h0M722.4 421.5h0M718.8 415.5h0M698.1 429.4h0M727.1 401.0h0M690.3 459.3h0M696.0 390.0h0M731.4 408.8h0M709.3 395.8h0M752.0 430.2h0M732.7 456.8h0M728.4 379.7h0M696.9 461.1h0M741.3 428.5h0M701.4 421.7h0M726.2 407.8h0M712.4 395.5h0M700.9 444.4h0M705.6 432.9h0M718.1 413.0h0M723.8 470.5h0M723.5 447.6h0M723.4 406.1h0M718.4 463.5h0M704.7 446.4h0M696.0 416.3h0M726.4 404.9h0M723.9 453.4h0M705.2 421.2h0M694.2 406.7h0M695.4 424.6h0M723.5 392.9h0M707.1 453.7h0M684.3 464.9h0M692.8 428.7h0M715.5 441.0h0M690.8 436.8h0M698.7 408.6h0M673.1 433.6h0M744.7 430.4h0M695.7 438.7h0M691.6 439.2h0M693.1 457.8h0M690.0 450.1h0M696.1 385.4h0M699.6 424.8h0M721.5 426.3h0M743.7 457.6h0M715.3 419.7h0M715.2 449.8h0M689.9 424.1h0"/><path stroke="#e377c2" d="M717.9 447.7h0M720.8 439.2h0M717.9 435.0h0M712.0 390.4h0M707.2 438.6h0M733.0 392.6h0M741.2 413.4h0M696.2 432.5h0M722.6 432.0h0"/><path stroke="#1f77b4" d="M659.2 427.5h0M694.7 444.1h0M675.0 421.8h0M718.6 481.8h0M744.4 420.3h0M705.3 484.2h0M665.6 445.2h0M733.3 485.4h0M677.2 409.1h0M716.5 391.5h0M682.4 482.2h0M657.3 454.8h0M733.2 501.7h0M681.8 439.7h0M741.8 392.7h0M723.3 467.2h0M659.4 441.1h0M735.0 409.5h0M682.9 421.9h0M749.1 413.8h0M702.5 404.4h0M749.0 432.5h0M724.4 480.2h0M662.2 430.4h0M694.3 483.7h0M674.7 465.8h0M679.8 412.7h0M677.6 418.7h0M680.7 450.0h0M674.2 495.7h0M722.3 474.0h0M678.6 464.7h0M737.2 388.4h0M687.5 435.8h0M741.1 492.4h0M726.9 499.1h0M685.9 439.1h0M672.1 461.9h0M671.6 467.7h0M751.9 468.1h0M662.0 434.3h0M697.7 441.7h0M659.5 471.7h0M679.8 454.0h0M711.0 446.3h0M747.6 410.5h0M680.7 431.4h0M703.2 449.5h0M681.1 427.8h0M677.2 459.9h0M681.1 395.1h0M719.1 382.9h0M689.5 388.2h0M690.7 391.8h0M732.2 443.7h0M677.5 456.5h0M670.1 482.2h0M713.4 455.8h0M690.5 443.1h0M732.2 384.3h0M679.1 402.0h0M731.0 389.2h0M674.4 428.9h0M748.1 421.3h0M726.5 386.1h0M722.6 401.7h0M722.8 490.5h0M735.5 481.5h0M698.6 482.8h0M703.0 414.1h0M722.5 379.1h0M678.0 483.1h0M656.5 439.3h0M711.3 485.6h0M712.3 385.2h0M677.9 440.7h0M676.0 425.3h0M691.0 433.1h0M658.3 486.1h0M687.8 488.7h0M709.0 480.4h0M662.0 487.7h0M672.9 504.6h0M681.7 487.1h0M706.4 426.5h0M723.3 496.1h0M753.3 425.6h0M699.8 417.1h0M737.4 421.4h0M707.8 449.2h0M683.2 468.2h0M695.8 398.2h0M665.5 429.1h0M658.7 491.2h0M683.0 403.7h0M712.4 490.6h0M709.9 466.4h0M726.5 488.4h0M746.8 477.1h0M700.6 453.7h0M752.3 471.4h0M689.9 475.4h0M658.7 495.5h0M728.3 457.8h0M675.1 438.5h0M745.3 442.7h0M686.1 423.2h0M683.2 416.3h0M718.2 444.2h0M726.4 466.2h0M706.5 417.8h0M712.5 452.4h0M724.0 417.0h0M689.1 403.5h0M686.6 386.0h0M686.2 498.0h0M709.3 492.3h0M665.4 418.9h0M743.1 402.5h0M721.1 499.3h0M744.1 410.3h0M688.7 420.6h0M688.2 540.6h0M738.6 394.0h0M749.3 474.6h0M671.3 443.4h0M697.5 446.7h0M689.3 429.4h0M721.8 435.7h0M686.4 493.3h0M719.8 493.2h0M680.2 436.6h0M727.0 454.4h0M743.8 469.3h0M719.9 451.8h0M696.5 393.4h0M734.3 509.6h0M692.3 447.0h0M702.9 424.9h0M655.9 474.1h0M703.8 393.0h0M693.8 451.0h0M669.2 470.4h0M715.6 397.2h0M742.1 461.5h0M662.6 492.9h0M720.2 404.1h0M729.7 492.4h0M692.7 422.3h0M731.9 380.8h0M678.1 398.5h0M660.9 454.0h0M737.7 418.0h0M690.4 406.8h0M712.7 534.8h0M669.4 410.6h0M714.7 445.0h0M734.9 412.9h0M699.3 400.2h0M730.7 446.7h0M685.2 486.2h0M677.0 415.3h0M725.7 390.3h0M736.7 494.0h0M737.2 429.0h0M665.2 457.1h0M685.2 401.2h0M712.4 442.4h0M717.5 422.2h0M709.5 428.4h0M681.0 419.0h0M705.5 407.0h0M692.8 388.3h0M734.0 387.3h0M687.5 426.6h0M731.6 433.3h0M701.8 485.4h0M703.9 401.3h0M694.5 494.4h0M693.9 434.9h0M714.0 413.3h0M700.1 461.9h0M735.7 443.9h0M746.4 449.5h0M683.7 425.7h0M751.9 415.9h0M719.9 392.1h0"/><path stroke="#d62728" d="M714.9 478.6h0M718.0 473.5h0M726.4 494.0h0M671.2 474.3h0M666.8 493.6h0M682.0 549.1h0M730.2 404.7h0M722.8 486.7h0M656.1 464.6h0M729.0 474.9h0M714.5 462.3h0M740.0 496.9h0M683.6 473.7h0M702.1 495.8h0M695.4 467.2h0M664.9 490.3h0M670.1 436.7h0M665.4 453.6h0M748.2 471.1h0M675.0 403.4h0M727.3 483.9h0M736.9 504.9h0M674.3 476.1h0M685.8 459.2h0M721.8 536.2h0M739.8 400.7h0M738.2 461.8h0M715.9 491.0h0M701.1 458.6h0M698.5 382.5h0M755.3 434.5h0M681.0 476.5h0M673.8 454.4h0M731.6 489.5h0M731.1 517.8h0M757.7 443.1h0M659.3 445.0h0M730.1 464.6h0M710.1 476.2h0M736.0 459.3h0M727.7 508.1h0M676.3 472.5h0M694.5 552.7h0M727.3 471.9h0M659.7 479.3h0M692.6 549.2h0M663.3 466.1h0M703.4 461.7h0M728.2 480.4h0M721.9 503.0h0M718.9 504.4h0M675.9 501.9h0M662.1 421.7h0M707.1 547.3h0M728.1 513.0h0M700.4 547.0h0M668.4 506.6h0M663.5 440.8h0M687.0 392.2h0M688.4 462.3h0M750.6 423.6h0M752.8 459.3h0M710.6 547.7h0M729.0 496.5h0M757.5 452.9h0M679.8 539.0h0M656.3 442.7h0M670.6 421.6h0M744.0 423.9h0M723.7 506.0h0M730.0 504.8h0M662.8 475.4h0M714.1 544.7h0"/><path stroke="#17becf" d="M713.0 468.6h0M683.5 391.7h0M662.4 426.5h0M664.7 478.8h0M679.1 470.1h0M661.9 457.6h0M673.4 481.7h0M700.1 490.5h0M681.6 462.4h0M735.4 476.4h0M690.4 454.7h0M730.2 469.9h0M741.5 476.7h0M735.7 490.7h0M666.6 482.0h0M667.0 421.8h0M722.5 383.9h0M739.5 409.3h0M667.3 497.6h0M665.7 468.9h0M739.4 431.8h0M740.5 470.4h0M689.8 491.9h0M695.9 454.9h0M664.4 460.4h0M668.4 501.3h0M749.5 457.9h0M702.2 471.9h0M740.7 480.8h0M659.0 466.2h0M667.3 415.5h0M704.0 379.1h0M663.3 471.7h0M702.3 398.2h0M707.3 464.3h0M735.6 497.6h0M734.6 397.0h0M745.8 466.6h0M717.7 540.5h0M749.5 454.5h0M734.5 468.0h0M690.3 395.8h0M700.7 465.3h0M697.6 487.7h0M694.9 477.9h0M692.7 383.5h0M658.5 433.1h0M748.2 440.0h0M718.8 458.1h0M711.9 406.2h0M732.9 495.4h0M699.7 478.8h0M702.5 476.1h0M686.0 432.2h0M755.0 462.3h0M662.0 448.5h0M664.1 511.4h0M734.7 405.0h0M740.1 488.4h0M711.9 380.5h0M718.5 508.3h0M708.1 404.8h0M670.7 478.1h0M720.7 477.0h0M666.1 436.6h0M674.5 442.2h0M689.7 552.4h0M694.5 463.8h0M672.3 406.7h0M718.5 487.9h0M755.3 449.0h0M711.2 459.5h0M725.6 519.5h0M662.1 482.4h0M685.1 448.3h0M669.8 455.7h0M720.2 470.1h0M721.1 455.6h0M674.9 469.1h0M684.6 478.1h0M728.4 523.4h0M698.5 468.5h0M737.9 404.1h0M656.3 459.8h0M684.0 454.6h0M728.0 449.2h0M680.3 407.6h0M666.3 474.6h0M655.1 468.9h0M757.6 437.0h0M713.5 482.1h0M742.5 397.9h0M751.7 442.2h0M701.9 481.9h0M723.7 522.5h0M678.6 500.0h0M744.8 487.4h0M715.6 387.7h0M671.7 532.2h0M686.8 451.5h0M667.6 451.1h0M673.0 485.0h0M681.1 491.3h0M698.2 493.3h0M717.4 453.9h0M705.6 478.2h0M652.8 462.8h0M708.6 385.0h0M669.8 524.2h0M741.7 405.6h0M724.7 458.1h0M714.4 498.3h0M703.7 455.4h0M690.9 481.5h0M681.7 457.3h0M719.0 431.7h0M731.8 498.6h0M693.4 474.4h0M710.3 463.0h0M676.6 540.6h0M678.6 423.1h0M668.2 490.0h0M653.2 458.1h0M654.7 452.3h0M754.9 466.6h0M684.4 489.7h0M700.0 388.2h0M748.3 436.2h0M732.5 514.5h0M687.1 466.7h0M688.9 413.0h0M683.0 434.1h0M689.2 383.7h0M700.4 379.8h0M730.8 427.8h0M722.8 398.0h0M731.2 477.3h0M661.7 503.4h0M726.3 382.6h0M737.3 465.5h0M667.8 466.3h0M703.7 546.6h0M710.4 519.8h0M685.9 481.4h0M678.0 496.7h0M737.1 470.2h0"/><path stroke="#e377c2" d="M668.5 424.9h0M690.7 466.0h0M671.5 418.2h0M672.0 425.1h0M685.2 411.9h0M686.3 470.2h0M751.6 419.3h0M688.8 478.7h0M664.1 500.9h0M673.9 510.3h0M673.0 412.0h0M691.9 471.4h0M685.3 551.0h0M671.4 493.2h0M674.4 488.5h0M684.9 428.8h0M677.9 492.8h0M744.2 473.1h0M740.6 464.7h0M668.2 441.9h0M686.6 417.5h0M676.8 478.7h0M733.8 473.1h0M671.1 451.9h0M753.6 453.3h0M702.7 385.1h0M715.9 495.2h0M665.7 515.5h0M676.4 520.7h0M669.9 447.7h0M681.5 398.8h0M732.2 480.9h0M738.0 501.1h0M668.2 462.6h0M661.9 496.2h0M658.9 450.1h0M734.4 417.0h0M673.4 415.4h0M668.6 458.9h0M680.8 494.8h0M758.6 449.5h0M715.6 466.3h0M668.4 432.1h0M722.2 509.4h0M743.2 484.3h0M659.7 462.3h0M716.0 470.7h0M674.3 458.0h0M667.3 521.2h0M756.3 457.7h0M696.6 549.6h0M703.3 488.8h0M746.7 480.5h0M679.8 446.0h0M751.4 437.9h0M748.9 426.7h0M725.9 515.7h0M670.5 428.9h0M662.2 506.7h0M660.2 437.3h0M655.4 482.2h0M750.4 450.5h0M754.5 422.3h0M655.4 477.5h0M677.4 430.4h0M659.5 475.9h0M660.9 499.4h0M715.5 485.5h0M667.4 486.5h0M738.5 473.2h0M665.3 508.0h0M713.6 473.3h0M671.2 498.3h0M715.7 383.4h0M666.2 503.9h0M736.3 400.9h0M755.3 429.6h0M745.1 452.7h0M674.1 446.8h0M715.3 506.3h0M719.4 466.7h0M655.8 447.9h0M709.8 503.4h0M695.4 470.6h0M677.8 487.7h0M697.8 457.9h0M652.9 466.4h0M670.3 414.1h0M723.0 483.3h0M721.9 527.0h0M671.6 439.9h0"/><path stroke="#d62728" d="M696.3 534.3h0M687.2 516.0h0M702.0 521.1h0M688.7 515.8h0M699.1 523.4h0M696.1 521.0h0M679.3 524.7h0M705.2 522.1h0M692.7 525.5h0M703.6 522.5h0M702.4 525.7h0M690.9 523.2h0M691.3 529.5h0M687.4 513.5h0M685.7 529.1h0M702.9 524.9h0M689.7 526.0h0M687.7 531.5h0M699.2 522.5h0M703.8 518.6h0M702.5 519.0h0M697.8 520.2h0M699.7 517.5h0M695.6 529.4h0M695.3 530.3h0M695.4 526.8h0M699.6 533.7h0M690.1 518.2h0M690.9 523.5h0M697.5 522.9h0M691.4 527.0h0M699.8 523.1h0M702.2 531.5h0M694.4 532.1h0M702.5 524.1h0M689.0 536.9h0M687.9 514.1h0M697.0 534.3h0M697.3 540.9h0M691.7 521.9h0M692.3 515.5h0M696.9 522.5h0M694.5 535.7h0M693.0 521.8h0M703.6 525.5h0M694.7 526.1h0M691.9 526.2h0M700.5 520.7h0M700.7 521.4h0M690.6 523.0h0M696.0 525.5h0M693.3 520.7h0M695.4 513.7h0M697.0 529.2h0M696.1 524.4h0M697.2 523.3h0M707.1 526.8h0M702.4 513.7h0M702.6 529.9h0M697.5 528.4h0M708.4 529.5h0M697.6 528.2h0M690.9 525.2h0M703.3 508.3h0M692.7 526.5h0M692.1 531.4h0M694.7 524.9h0M693.4 528.6h0M693.8 525.7h0M693.4 526.7h0M702.7 522.5h0M699.8 525.5h0M703.1 526.8h0M698.8 519.6h0M691.6 526.5h0M682.8 522.3h0M691.7 517.5h0M695.3 531.0h0M685.2 530.2h0M704.3 518.7h0M701.4 524.7h0M698.1 528.6h0M686.9 521.1h0M693.9 522.5h0M696.7 529.0h0M689.2 521.2h0M687.2 514.2h0M688.8 527.0h0M706.0 521.6h0M696.2 522.4h0M699.9 529.7h0M701.0 525.5h0M694.3 532.6h0M699.1 528.0h0M701.2 525.2h0M703.9 528.8h0M686.7 524.9h0M695.1 526.3h0M694.1 526.2h0M695.6 532.0h0M679.9 530.9h0M698.2 517.7h0M700.9 518.8h0M702.2 531.4h0M698.4 517.2h0M695.7 526.6h0M695.9 525.2h0M697.1 521.1h0M696.5 532.9h0M702.9 509.6h0"/><path stroke="#d62728" d="M781.7 461.7h0M818.4 397.5h0M785.4 379.5h0M790.4 419.6h0M771.6 435.1h0M762.5 434.3h0M755.7 396.0h0M784.5 411.8h0M796.0 393.7h0M816.7 390.6h0M826.1 383.9h0M752.8 386.6h0M802.9 447.5h0M774.4 397.4h0M859.5 374.9h0M780.5 416.0h0M768.1 406.9h0M768.3 460.1h0M820.3 384.1h0M809.5 412.7h0M845.1 367.6h0M790.2 412.4h0M826.6 415.5h0M777.7 465.2h0M807.8 386.4h0M785.9 446.9h0M804.7 419.5h0M791.4 431.3h0M811.0 421.0h0M758.4 389.1h0M773.6 429.2h0M844.5 391.8h0M797.9 413.2h0M802.1 429.1h0M779.9 383.9h0M844.3 383.1h0M804.8 377.8h0M822.2 378.6h0M811.9 447.8h0M765.6 400.3h0M844.7 402.3h0M771.4 453.5h0M754.2 401.0h0M778.9 378.2h0M811.4 437.4h0M834.9 399.9h0M765.7 455.3h0"/><path stroke="#e377c2" d="M860.2 381.3h0M747.6 398.9h0M787.1 386.3h0M768.1 440.7h0M795.6 437.2h0M760.1 401.8h0M777.6 390.6h0M829.5 396.2h0M769.5 383.3h0M778.1 421.2h0M815.4 443.8h0M766.8 472.9h0M797.9 454.8h0M821.7 421.1h0M795.8 387.7h0M796.0 443.4h0M816.4 434.4h0M830.4 367.2h0M818.2 373.0h0M759.8 410.9h0M763.9 464.9h0M779.4 428.4h0M808.6 442.6h0M795.7 422.1h0M833.8 422.4h0M797.8 449.0h0M830.9 433.5h0M855.3 387.0h0M788.7 451.5h0M801.2 439.4h0M833.1 388.1h0M834.5 363.2h0M777.7 457.7h0M786.7 392.9h0M830.3 427.4h0M763.0 445.6h0M832.6 408.5h0"/><path stroke="#17becf" d="M774.0 442.6h0M767.0 421.4h0M818.5 414.5h0M743.6 387.1h0M782.2 403.6h0M805.4 434.9h0M827.0 389.9h0M821.2 440.4h0M809.8 407.0h0M836.7 404.9h0M831.8 375.3h0M762.3 459.7h0M752.6 406.4h0M767.6 449.9h0M795.8 380.9h0M764.8 415.8h0M762.3 382.3h0M807.6 428.9h0M780.5 395.5h0M756.4 382.3h0M814.4 401.0h0M764.4 426.5h0M817.7 405.1h0M791.5 404.7h0M772.0 412.7h0M784.3 433.5h0M799.1 375.7h0M786.1 423.9h0M747.8 392.7h0M799.2 400.1h0M762.5 393.8h0M841.1 373.5h0M803.2 403.6h0M772.5 422.4h0M804.1 391.3h0M757.7 418.1h0M815.3 378.5h0M802.5 383.9h0M761.0 471.6h0M828.5 402.4h0M846.3 374.3h0M777.0 435.7h0M845.7 408.9h0M809.9 391.4h0M790.5 439.7h0M827.4 422.5h0M837.4 413.4h0M850.3 370.4h0M832.1 415.6h0M771.7 465.9h0M822.9 369.6h0M850.2 395.5h0M786.7 465.1h0M815.1 385.4h0M823.6 404.7h0M839.4 388.2h0M767.0 431.5h0"/><path stroke="#1f77b4" d="M806.7 451.4h0M756.1 476.6h0M788.7 398.8h0M793.1 457.6h0M784.1 456.2h0M749.5 381.6h0M780.7 442.1h0M803.4 410.1h0M807.8 396.6h0M809.6 375.7h0M852.5 379.2h0M821.8 434.3h0M836.2 383.2h0M770.3 389.2h0M777.4 450.7h0M823.7 428.2h0M839.9 397.7h0M778.1 407.6h0M817.5 428.1h0M796.6 429.3h0M826.9 409.0h0M790.6 377.2h0M762.3 439.5h0M773.8 379.9h0"/></g>
<g fill="none" stroke="#2a2a2a" stroke-width="1.2"><rect x="53.4" y="26.8" width="252.4" height="250.4"/><path d="M71.0 277.2v4"/><path d="M125.2 277.2v4"/><path d="M179.3 277.2v4"/><path d="M233.4 277.2v4"/><path d="M287.6 277.2v4"/><path d="M53.4 45.5h-4"/><path d="M53.4 78.3h-4"/><path d="M53.4 111.1h-4"/><path d="M53.4 143.9h-4"/><path d="M53.4 176.7h-4"/><path d="M53.4 209.5h-4"/><path d="M53.4 242.3h-4"/><path d="M53.4 275.1h-4"/><rect x="341.3" y="26.8" width="251.9" height="250.4"/><path d="M358.9 277.2v4"/><path d="M413.1 277.2v4"/><path d="M467.2 277.2v4"/><path d="M521.4 277.2v4"/><path d="M575.5 277.2v4"/><path d="M341.3 45.5h-4"/><path d="M341.3 78.3h-4"/><path d="M341.3 111.1h-4"/><path d="M341.3 143.9h-4"/><path d="M341.3 176.7h-4"/><path d="M341.3 209.5h-4"/><path d="M341.3 242.3h-4"/><path d="M341.3 275.1h-4"/><rect x="638.2" y="26.8" width="252.0" height="250.4"/><path d="M655.8 277.2v4"/><path d="M710.0 277.2v4"/><path d="M764.1 277.2v4"/><path d="M818.2 277.2v4"/><path d="M872.4 277.2v4"/><path d="M638.2 45.5h-4"/><path d="M638.2 78.3h-4"/><path d="M638.2 111.1h-4"/><path d="M638.2 143.9h-4"/><path d="M638.2 176.7h-4"/><path d="M638.2 209.5h-4"/><path d="M638.2 242.3h-4"/><path d="M638.2 275.1h-4"/><rect x="53.6" y="328.2" width="252.2" height="250.0"/><path d="M71.2 578.2v4"/><path d="M125.3 578.2v4"/><path d="M179.5 578.2v4"/><path d="M233.6 578.2v4"/><path d="M287.8 578.2v4"/><path d="M53.6 346.9h-4"/><path d="M53.6 379.7h-4"/><path d="M53.6 412.5h-4"/><path d="M53.6 445.3h-4"/><path d="M53.6 478.1h-4"/><path d="M53.6 510.9h-4"/><path d="M53.6 543.7h-4"/><path d="M53.6 576.5h-4"/><rect x="341.3" y="328.2" width="251.9" height="250.0"/><path d="M358.9 578.2v4"/><path d="M413.1 578.2v4"/><path d="M467.2 578.2v4"/><path d="M521.4 578.2v4"/><path d="M575.5 578.2v4"/><path d="M341.3 346.9h-4"/><path d="M341.3 379.7h-4"/><path d="M341.3 412.5h-4"/><path d="M341.3 445.3h-4"/><path d="M341.3 478.1h-4"/><path d="M341.3 510.9h-4"/><path d="M341.3 543.7h-4"/><path d="M341.3 576.5h-4"/><rect x="638.2" y="328.2" width="251.8" height="249.8"/><path d="M655.8 578.0v4"/><path d="M710.0 578.0v4"/><path d="M764.1 578.0v4"/><path d="M818.2 578.0v4"/><path d="M872.4 578.0v4"/><path d="M638.2 346.9h-4"/><path d="M638.2 379.7h-4"/><path d="M638.2 412.5h-4"/><path d="M638.2 445.3h-4"/><path d="M638.2 478.1h-4"/><path d="M638.2 510.9h-4"/><path d="M638.2 543.7h-4"/><path d="M638.2 576.5h-4"/></g>
<g font-family="Liberation Serif" font-size="7.8" fill="#4a4a4a"><text x="71.0" y="290.9" text-anchor="middle">-40</text><text x="125.2" y="290.9" text-anchor="middle">-20</text><text x="179.3" y="290.9" text-anchor="middle">0</text><text x="233.4" y="290.9" text-anchor="middle">20</text><text x="287.6" y="290.9" text-anchor="middle">40</text><text x="46.4" y="47.9" text-anchor="end">30</text><text x="46.4" y="80.7" text-anchor="end">20</text><text x="46.4" y="113.5" text-anchor="end">10</text><text x="46.4" y="146.3" text-anchor="end">0</text><text x="46.4" y="179.1" text-anchor="end">-10</text><text x="46.4" y="211.9" text-anchor="end">-20</text><text x="46.4" y="244.7" text-anchor="end">-30</text><text x="46.4" y="277.5" text-anchor="end">-40</text><text x="358.9" y="290.9" text-anchor="middle">-40</text><text x="413.1" y="290.9" text-anchor="middle">-20</text><text x="467.2" y="290.9" text-anchor="middle">0</text><text x="521.4" y="290.9" text-anchor="middle">20</text><text x="575.5" y="290.9" text-anchor="middle">40</text><text x="334.3" y="47.9" text-anchor="end">30</text><text x="334.3" y="80.7" text-anchor="end">20</text><text x="334.3" y="113.5" text-anchor="end">10</text><text x="334.3" y="146.3" text-anchor="end">0</text><text x="334.3" y="179.1" text-anchor="end">-10</text><text x="334.3" y="211.9" text-anchor="end">-20</text><text x="334.3" y="244.7" text-anchor="end">-30</text><text x="334.3" y="277.5" text-anchor="end">-40</text><text x="655.8" y="290.9" text-anchor="middle">-40</text><text x="710.0" y="290.9" text-anchor="middle">-20</text><text x="764.1" y="290.9" text-anchor="middle">0</text><text x="818.2" y="290.9" text-anchor="middle">20</text><text x="872.4" y="290.9" text-anchor="middle">40</text><text x="631.2" y="47.9" text-anchor="end">30</text><text x="631.2" y="80.7" text-anchor="end">20</text><text x="631.2" y="113.5" text-anchor="end">10</text><text x="631.2" y="146.3" text-anchor="end">0</text><text x="631.2" y="179.1" text-anchor="end">-10</text><text x="631.2" y="211.9" text-anchor="end">-20</text><text x="631.2" y="244.7" text-anchor="end">-30</text><text x="631.2" y="277.5" text-anchor="end">-40</text><text x="71.2" y="591.9" text-anchor="middle">-40</text><text x="125.3" y="591.9" text-anchor="middle">-20</text><text x="179.5" y="591.9" text-anchor="middle">0</text><text x="233.6" y="591.9" text-anchor="middle">20</text><text x="287.8" y="591.9" text-anchor="middle">40</text><text x="46.6" y="349.3" text-anchor="end">30</text><text x="46.6" y="382.1" text-anchor="end">20</text><text x="46.6" y="414.9" text-anchor="end">10</text><text x="46.6" y="447.7" text-anchor="end">0</text><text x="46.6" y="480.5" text-anchor="end">-10</text><text x="46.6" y="513.3" text-anchor="end">-20</text><text x="46.6" y="546.1" text-anchor="end">-30</text><text x="46.6" y="578.9" text-anchor="end">-40</text><text x="358.9" y="591.9" text-anchor="middle">-40</text><text x="413.1" y="591.9" text-anchor="middle">-20</text><text x="467.2" y="591.9" text-anchor="middle">0</text><text x="521.4" y="591.9" text-anchor="middle">20</text><text x="575.5" y="591.9" text-anchor="middle">40</text><text x="334.3" y="349.3" text-anchor="end">30</text><text x="334.3" y="382.1" text-anchor="end">20</text><text x="334.3" y="414.9" text-anchor="end">10</text><text x="334.3" y="447.7" text-anchor="end">0</text><text x="334.3" y="480.5" text-anchor="end">-10</text><text x="334.3" y="513.3" text-anchor="end">-20</text><text x="334.3" y="546.1" text-anchor="end">-30</text><text x="334.3" y="578.9" text-anchor="end">-40</text><text x="655.8" y="591.7" text-anchor="middle">-40</text><text x="710.0" y="591.7" text-anchor="middle">-20</text><text x="764.1" y="591.7" text-anchor="middle">0</text><text x="818.2" y="591.7" text-anchor="middle">20</text><text x="872.4" y="591.7" text-anchor="middle">40</text><text x="631.2" y="349.3" text-anchor="end">30</text><text x="631.2" y="382.1" text-anchor="end">20</text><text x="631.2" y="414.9" text-anchor="end">10</text><text x="631.2" y="447.7" text-anchor="end">0</text><text x="631.2" y="480.5" text-anchor="end">-10</text><text x="631.2" y="513.3" text-anchor="end">-20</text><text x="631.2" y="546.1" text-anchor="end">-30</text><text x="631.2" y="578.9" text-anchor="end">-40</text></g>
<g font-family="Liberation Serif" font-size="17" fill="#111"><text x="174.7" y="311.0" text-anchor="middle">(a) DSTopic</text><text x="462.5" y="311.0" text-anchor="middle">(b) Concat</text><text x="759.3" y="311.0" text-anchor="middle">(c) TopicDRL</text><text x="175.1" y="612.8" text-anchor="middle">(d) TIGER</text><text x="462.5" y="612.8" text-anchor="middle">(e) VQRec</text><text x="759.3" y="612.8" text-anchor="middle">(f) MoC</text></g>
<g font-family="Liberation Serif" font-size="12.2" fill="#111"><rect x="813.6" y="499.6" width="76.2" height="78.0" fill="#fff" stroke="#111" stroke-width="1.4"/><circle cx="825.8" cy="514.7" r="4" fill="#1f77b4"/><text x="833.6" y="518.1">Facet 1</text><circle cx="825.8" cy="531.4" r="4" fill="#d62728"/><text x="833.6" y="534.8">Facet 2</text><circle cx="825.8" cy="548.1" r="4" fill="#e377c2"/><text x="833.6" y="551.5">Facet 3</text><circle cx="825.8" cy="564.8" r="4" fill="#17becf"/><text x="833.6" y="568.2">Facet 4</text></g>
</svg></body></html>
